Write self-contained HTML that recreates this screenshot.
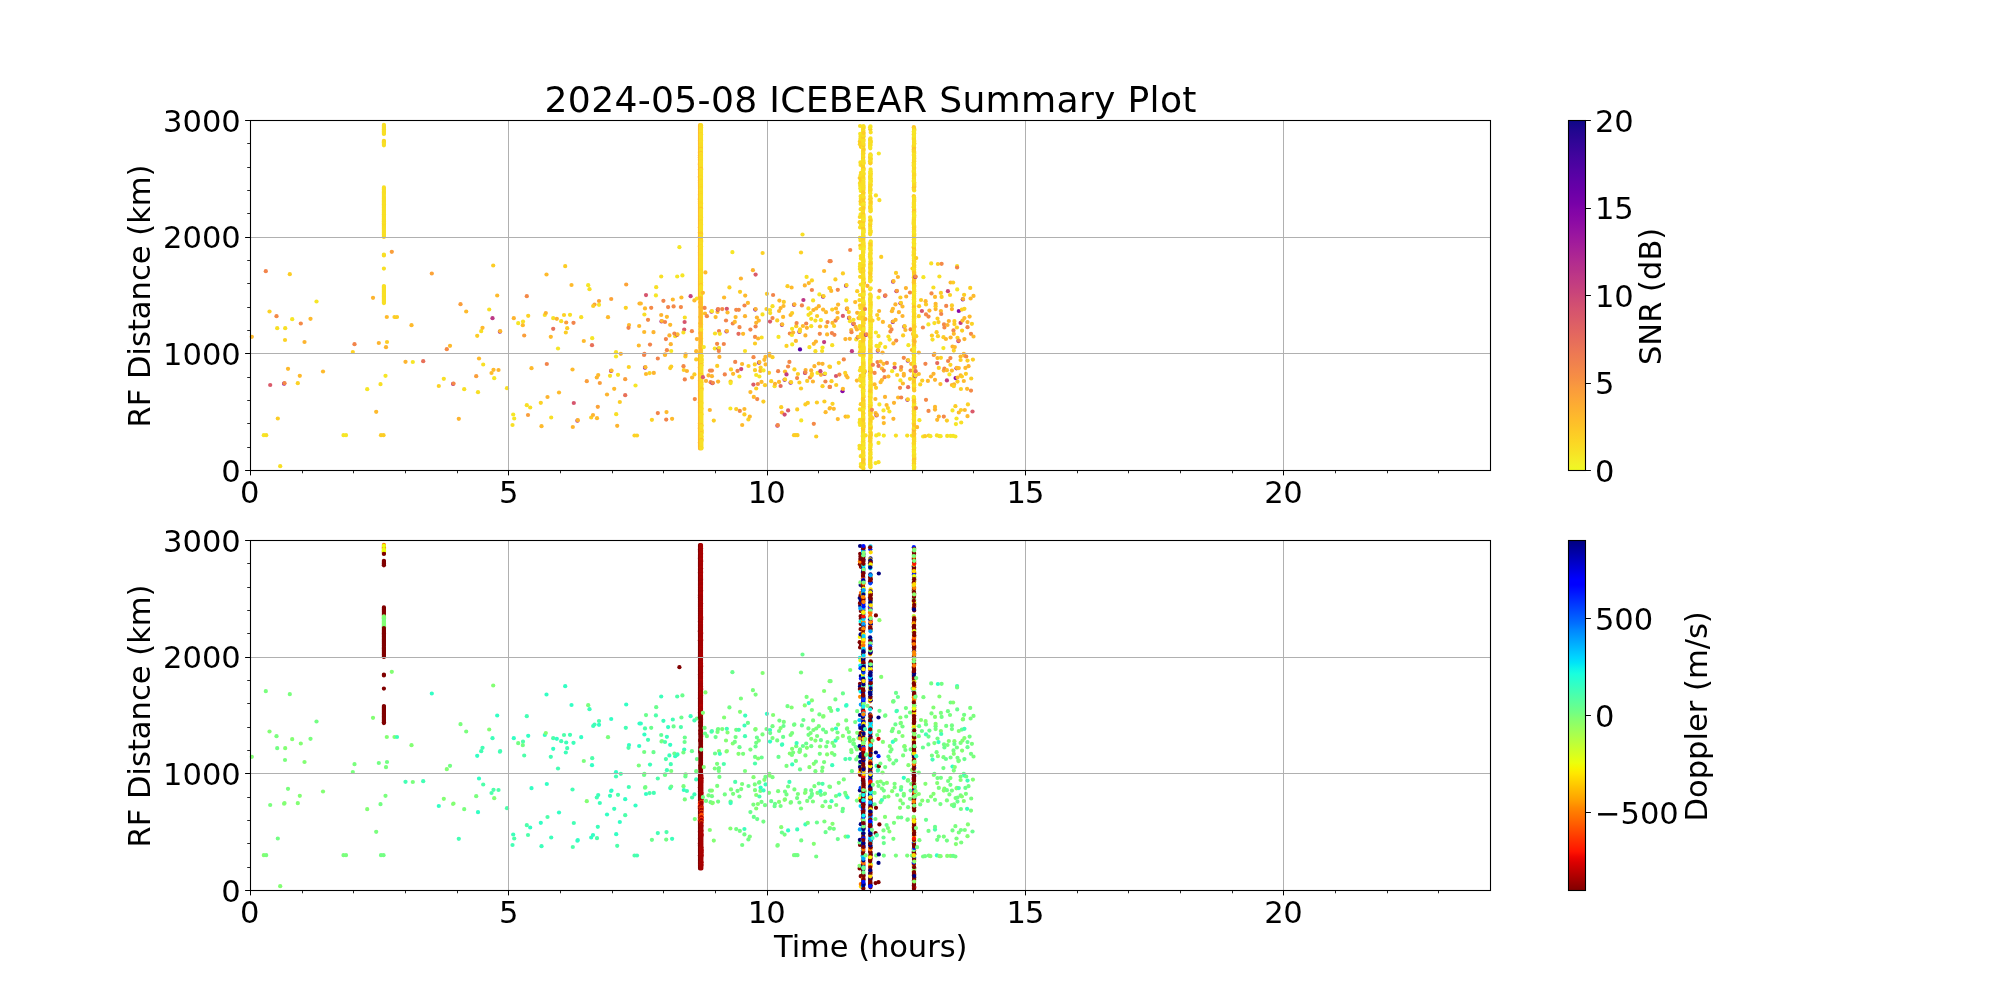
<!DOCTYPE html>
<html lang="en"><head><meta charset="utf-8"><title>2024-05-08 ICEBEAR Summary Plot</title>
<style>html,body{margin:0;padding:0;background:#fff}body{width:2000px;height:1000px;overflow:hidden}svg{display:block;will-change:transform}</style>
</head><body>
<svg width="2000" height="1000" viewBox="0 0 2000 1000" font-family='"DejaVu Sans","Liberation Sans",sans-serif' font-size="30.56" fill="#000">
<rect width="2000" height="1000" fill="#fff"/>
<g fill="none" stroke-linecap="round" stroke-width="4.24"><path stroke="#feba2c" d="M251.8 336.8h.01"/><path stroke="#f6e626" d="M263.8 435.2h.01"/><path stroke="#f2844b" d="M265.8 271.2h.01"/><path stroke="#f8df25" d="M266.2 435.2h.01"/><path stroke="#da5a6a" d="M270.2 385h.01"/><path stroke="#fcd225" d="M269.5 311.5h.01"/><path stroke="#f48948" d="M276.5 316.2h.01"/><path stroke="#f8df25" d="M277.2 328.2h.01"/><path stroke="#fccd25" d="M277.8 418.5h.01"/><path stroke="#f8df25" d="M280.2 466.2h.01"/><path stroke="#fcd225" d="M285 340h.01"/><path stroke="#f8df25" d="M285.2 328.2h.01"/><path stroke="#9410a2" d="M284.1 383.7h.01"/><path stroke="#f48948" d="M284.5 383.2h.01"/><path stroke="#feba2c" d="M288 368.8h.01"/><path stroke="#fccd25" d="M289.8 274.2h.01"/><path stroke="#f6e626" d="M292.2 319.2h.01"/><path stroke="#fcd225" d="M297.8 383.2h.01"/><path stroke="#f48948" d="M300.8 323.5h.01"/><path stroke="#feba2c" d="M299.8 375.8h.01"/><path stroke="#fdb42f" d="M304.5 342h.01"/><path stroke="#feba2c" d="M310.5 318.8h.01"/><path stroke="#f6e626" d="M316.5 301.5h.01"/><path stroke="#feba2c" d="M323 371.5h.01"/><path stroke="#f6e626" d="M343.5 435.2h.01M346 435.2h.01"/><path stroke="#fcd225" d="M352.8 352h.01"/><path stroke="#f2844b" d="M354.5 344.2h.01"/><path stroke="#f6e626" d="M367.2 389.2h.01"/><path stroke="#fdb42f" d="M373 297.8h.01"/><path stroke="#feba2c" d="M376.2 411.8h.01"/><path stroke="#fdb42f" d="M378.8 343h.01"/><path stroke="#fccd25" d="M381 435.2h.01"/><path stroke="#f8df25" d="M380.5 384.2h.01M383.9 286h.01M383.9 299.5h.01M383.9 220.7h.01M383.9 295.9h.01M383.9 200h.01M383.9 216.2h.01M383.9 132.1h.01M383.9 198.2h.01M383.9 291.4h.01"/><path stroke="#fad824" d="M383.9 221.6h.01"/><path stroke="#f8df25" d="M383.9 130.3h.01M383.9 127.6h.01M383.9 213.5h.01"/><path stroke="#fad824" d="M383.9 204.5h.01"/><path stroke="#f8df25" d="M383.9 214.4h.01"/><path stroke="#fad824" d="M383.9 218.9h.01"/><path stroke="#f8df25" d="M383.9 142.6h.01"/><path stroke="#fad824" d="M383.9 296.8h.01M383.9 293.2h.01M383.9 207.2h.01M383.9 189.2h.01"/><path stroke="#f8df25" d="M383.9 286.9h.01"/><path stroke="#fad824" d="M383.9 205.4h.01M383.9 236.9h.01M383.9 140.8h.01"/><path stroke="#f8df25" d="M383.9 231.5h.01M383.9 301.3h.01M383.9 124.9h.01M383.9 227.9h.01M383.9 126.7h.01"/><path stroke="#fad824" d="M383.9 224.3h.01M383.9 192.8h.01"/><path stroke="#f8df25" d="M383.9 218h.01M383.9 210.8h.01M383.9 209h.01M383.9 191.9h.01M383.9 209.9h.01M383.9 128.5h.01"/><path stroke="#fccd25" d="M383.5 435.2h.01"/><path stroke="#f8df25" d="M383.9 129.4h.01"/><path stroke="#fad824" d="M383.9 200.9h.01"/><path stroke="#f8df25" d="M383.9 289.6h.01M383.9 297.7h.01M383.9 227h.01M383.9 217.1h.01"/><path stroke="#fad824" d="M383.9 226.1h.01M383.9 255.4h.01"/><path stroke="#f8df25" d="M383.9 298.6h.01M383.9 215.3h.01M383.9 295h.01M383.9 133h.01M383.9 225.2h.01M383.9 211.7h.01M383.9 292.3h.01M383.9 131.2h.01M383.9 302.2h.01M383.9 202.7h.01M383.9 268.6h.01M383.9 219.8h.01M383.9 287.8h.01"/><path stroke="#fad824" d="M383.9 223.4h.01"/><path stroke="#f8df25" d="M383.9 234.2h.01M383.9 254.5h.01"/><path stroke="#fad824" d="M383.9 141.7h.01"/><path stroke="#f8df25" d="M383.9 125.8h.01M383.9 194.6h.01M383.9 191h.01M383.9 193.7h.01M383.9 212.6h.01M383.9 294.1h.01M383.9 290.5h.01M383.9 228.8h.01M383.9 236h.01M383.9 133.9h.01M383.9 235.1h.01M383.9 188.3h.01M383.9 195.5h.01M383.9 144.4h.01M383.9 303.1h.01M383.9 201.8h.01M383.9 145.3h.01M383.9 197.3h.01M383.9 190.1h.01M383.9 230.6h.01M383.9 199.1h.01M383.9 206.3h.01M383.9 187.4h.01M383.9 232.4h.01M383.9 288.7h.01M383.9 229.7h.01M383.9 208.1h.01M383.9 222.5h.01M383.9 233.3h.01M383.9 300.4h.01M383.9 203.6h.01M383.9 143.5h.01M383.9 196.4h.01"/><path stroke="#fdb42f" d="M386 347.2h.01"/><path stroke="#f6e626" d="M385.5 375.8h.01"/><path stroke="#fccd25" d="M387 342h.01"/><path stroke="#feba2c" d="M386.8 317h.01"/><path stroke="#fa9e3b" d="M391.8 251.8h.01"/><path stroke="#fccd25" d="M394.5 317h.01M397 317h.01"/><path stroke="#fdb42f" d="M405.5 361.8h.01"/><path stroke="#feba2c" d="M411.5 325.2h.01"/><path stroke="#f6e626" d="M412.8 362h.01"/><path stroke="#e87059" d="M423.2 361.2h.01"/><path stroke="#fca338" d="M431.8 273.5h.01"/><path stroke="#fcd225" d="M438.8 386h.01"/><path stroke="#f8df25" d="M443.8 378.8h.01"/><path stroke="#f48948" d="M446.8 349.2h.01"/><path stroke="#feba2c" d="M450 345.8h.01"/><path stroke="#ba3388" d="M453.1 383.9h.01"/><path stroke="#f48948" d="M453.5 383.5h.01"/><path stroke="#fdb42f" d="M458.8 418.8h.01"/><path stroke="#fa9e3b" d="M460.5 304.2h.01"/><path stroke="#f8df25" d="M464.2 389.2h.01"/><path stroke="#feba2c" d="M466.2 311.5h.01"/><path stroke="#fccd25" d="M477.2 335.8h.01"/><path stroke="#fa9e3b" d="M476.2 376.2h.01"/><path stroke="#f8df25" d="M478 392.2h.01"/><path stroke="#feba2c" d="M479 358.5h.01"/><path stroke="#f8df25" d="M481.2 331.2h.01M483.2 364.5h.01"/><path stroke="#feba2c" d="M482.5 327.8h.01"/><path stroke="#f8df25" d="M489.2 309.5h.01"/><path stroke="#bd3786" d="M492.5 318.2h.01"/><path stroke="#feba2c" d="M491.5 373h.01"/><path stroke="#fccd25" d="M493.2 265.5h.01"/><path stroke="#feba2c" d="M493.5 369.8h.01"/><path stroke="#f6e626" d="M494.2 378.2h.01"/><path stroke="#fdb42f" d="M498.5 370h.01"/><path stroke="#feba2c" d="M497.2 295.5h.01"/><path stroke="#a21d9a" d="M499.9 331.7h.01"/><path stroke="#feba2c" d="M500.2 331.2h.01"/><path stroke="#f8df25" d="M507 388.2h.01"/><path stroke="#fdb42f" d="M513.8 318.2h.01"/><path stroke="#f6e626" d="M513.2 414.5h.01"/><path stroke="#f8df25" d="M512.5 425h.01"/><path stroke="#f6e626" d="M514.2 418.5h.01M518.2 323.2h.01"/><path stroke="#feba2c" d="M522.8 325.2h.01"/><path stroke="#f8df25" d="M523 321.5h.01"/><path stroke="#fa9e3b" d="M524.2 335.5h.01"/><path stroke="#f8df25" d="M526.8 405.2h.01"/><path stroke="#f48948" d="M526.8 296.2h.01"/><path stroke="#fcd225" d="M528.2 315.8h.01"/><path stroke="#fa9e3b" d="M528 415h.01"/><path stroke="#feba2c" d="M531.5 368.2h.01"/><path stroke="#f8df25" d="M530.2 407.5h.01"/><path stroke="#fcd225" d="M540.8 402.8h.01"/><path stroke="#feba2c" d="M541.5 426.2h.01"/><path stroke="#f8df25" d="M544.8 315h.01"/><path stroke="#feba2c" d="M546.5 274.5h.01"/><path stroke="#f2844b" d="M546.8 364h.01"/><path stroke="#fdb42f" d="M545.8 313h.01M547.5 397h.01"/><path stroke="#feba2c" d="M550.8 336.8h.01"/><path stroke="#f8df25" d="M551.2 417.5h.01M553.2 318.2h.01"/><path stroke="#e87059" d="M553.2 328.8h.01"/><path stroke="#fdb42f" d="M556.8 318.8h.01"/><path stroke="#f6e626" d="M558 348.5h.01"/><path stroke="#feba2c" d="M559 392.5h.01"/><path stroke="#f8df25" d="M561.2 321.2h.01"/><path stroke="#fcd225" d="M564 315h.01"/><path stroke="#fccd25" d="M565.8 332.5h.01M565.2 266.2h.01"/><path stroke="#fa9e3b" d="M566.2 322.5h.01"/><path stroke="#fccd25" d="M567.2 328.2h.01"/><path stroke="#f8df25" d="M570 314.8h.01"/><path stroke="#feba2c" d="M571.5 285h.01"/><path stroke="#d6556d" d="M573.8 403h.01"/><path stroke="#fdb42f" d="M572.8 427h.01"/><path stroke="#f2844b" d="M573.5 322.8h.01"/><path stroke="#feba2c" d="M572.5 369.5h.01"/><path stroke="#b52f8c" d="M577.4 420.7h.01"/><path stroke="#fdb42f" d="M577.8 420.2h.01"/><path stroke="#f8df25" d="M581.2 317.2h.01"/><path stroke="#feba2c" d="M583.8 341h.01"/><path stroke="#fa9e3b" d="M586.8 381.2h.01"/><path stroke="#f6e626" d="M588.2 285.2h.01"/><path stroke="#f8df25" d="M589.5 289.2h.01"/><path stroke="#fccd25" d="M591.2 417.5h.01"/><path stroke="#fdb42f" d="M593 415h.01"/><path stroke="#f6e626" d="M592.2 338.2h.01"/><path stroke="#e87059" d="M592 345.2h.01"/><path stroke="#fca338" d="M594.5 304.5h.01"/><path stroke="#fccd25" d="M593.2 306h.01"/><path stroke="#fca338" d="M597.8 406.8h.01"/><path stroke="#fdb42f" d="M596.8 377.5h.01"/><path stroke="#feba2c" d="M597 418.2h.01"/><path stroke="#fca338" d="M599 301h.01"/><path stroke="#feba2c" d="M598.2 375h.01"/><path stroke="#f6e626" d="M599 304.8h.01"/><path stroke="#fa9e3b" d="M599.8 383h.01"/><path stroke="#feba2c" d="M608 317.2h.01"/><path stroke="#fdb42f" d="M607 394.5h.01"/><path stroke="#f8df25" d="M610 375.8h.01"/><path stroke="#b12a90" d="M611.1 370.9h.01"/><path stroke="#feba2c" d="M611.5 370.5h.01"/><path stroke="#fca338" d="M611.2 299h.01"/><path stroke="#feba2c" d="M614.2 388.8h.01"/><path stroke="#f8df25" d="M616.2 414.2h.01"/><path stroke="#f6e626" d="M616 356.5h.01"/><path stroke="#f8df25" d="M616 352.2h.01"/><path stroke="#fdb42f" d="M617.2 425.8h.01"/><path stroke="#f8df25" d="M618 374.8h.01"/><path stroke="#fccd25" d="M619.8 402h.01"/><path stroke="#fdb42f" d="M620.8 353.8h.01"/><path stroke="#fa9e3b" d="M625.2 379.2h.01"/><path stroke="#fcd225" d="M625.8 307.8h.01"/><path stroke="#e87059" d="M625.2 395.2h.01"/><path stroke="#fca338" d="M626.2 284.5h.01"/><path stroke="#fcd225" d="M628.8 367h.01"/><path stroke="#feba2c" d="M629 325h.01"/><path stroke="#f2844b" d="M628.5 327.8h.01"/><path stroke="#fcd225" d="M634.5 435.5h.01"/><path stroke="#f6e626" d="M635.5 385.5h.01"/><path stroke="#fcd225" d="M637 435.5h.01"/><path stroke="#fdb42f" d="M639.5 303.5h.01"/><path stroke="#feba2c" d="M638.8 345.5h.01M639.2 326h.01M640.8 303.5h.01"/><path stroke="#f2844b" d="M644.1 355h.01"/><path stroke="#8e0ca4" d="M645 367.7h.01"/><path stroke="#feba2c" d="M645.4 367.2h.01"/><path stroke="#f8df25" d="M644.4 314.5h.01"/><path stroke="#feba2c" d="M644.2 332h.01"/><path stroke="#f2844b" d="M644.4 353.8h.01"/><path stroke="#feba2c" d="M645 308.4h.01"/><path stroke="#d6556d" d="M646 295.1h.01"/><path stroke="#feba2c" d="M646 374h.01"/><path stroke="#f48948" d="M648 319.8h.01"/><path stroke="#fcd225" d="M649.6 373.1h.01"/><path stroke="#f2844b" d="M650 344.6h.01"/><path stroke="#f48948" d="M651.2 307.8h.01"/><path stroke="#fcd225" d="M651.9 419.8h.01"/><path stroke="#fdb42f" d="M653.5 332.2h.01M653.8 372.9h.01"/><path stroke="#f6e626" d="M655.9 295.4h.01"/><path stroke="#f8df25" d="M656.2 287.2h.01"/><path stroke="#f2844b" d="M657.8 413.1h.01M657.8 358.5h.01"/><path stroke="#f8df25" d="M661.2 276.5h.01"/><path stroke="#b12a90" d="M661.5 321.4h.01"/><path stroke="#feba2c" d="M661.9 321h.01"/><path stroke="#fdb42f" d="M661.2 315h.01"/><path stroke="#f2844b" d="M663.4 300.8h.01"/><path stroke="#feba2c" d="M665 355h.01"/><path stroke="#fdb42f" d="M665 354.4h.01"/><path stroke="#f2844b" d="M665 322h.01M665.9 339.1h.01"/><path stroke="#feba2c" d="M666.5 412.1h.01"/><path stroke="#f2844b" d="M666.2 419.6h.01"/><path stroke="#feba2c" d="M666.9 316.8h.01"/><path stroke="#f2844b" d="M668.1 307.1h.01"/><path stroke="#f48948" d="M666.9 350.2h.01"/><path stroke="#fdb42f" d="M669.4 335.4h.01"/><path stroke="#fccd25" d="M670.2 368.1h.01"/><path stroke="#feba2c" d="M670.2 324.8h.01"/><path stroke="#fdb42f" d="M670.8 344.2h.01"/><path stroke="#feba2c" d="M672.8 299.5h.01M672.1 418.8h.01"/><path stroke="#f6e626" d="M671.2 351h.01"/><path stroke="#fccd25" d="M671.2 366.5h.01"/><path stroke="#f48948" d="M673.6 306.4h.01"/><path stroke="#f8df25" d="M675.2 336.2h.01"/><path stroke="#f48948" d="M674.4 333.5h.01"/><path stroke="#f6e626" d="M677.2 276.5h.01"/><path stroke="#bd3786" d="M677.1 334.8h.01"/><path stroke="#feba2c" d="M677.5 334.4h.01"/><path stroke="#f6e626" d="M679.4 247.2h.01"/><path stroke="#feba2c" d="M681.4 297.5h.01"/><path stroke="#f48948" d="M680.9 307.1h.01"/><path stroke="#f6e626" d="M682.4 275.4h.01"/><path stroke="#da5a6a" d="M684.2 329.6h.01"/><path stroke="#d6556d" d="M684.6 322h.01"/><path stroke="#f2844b" d="M684.8 379.4h.01"/><path stroke="#f8df25" d="M684.8 317.5h.01M683.4 332.5h.01"/><path stroke="#fccd25" d="M683.8 370h.01"/><path stroke="#f48948" d="M683.5 366.2h.01"/><path stroke="#fccd25" d="M685.4 356.5h.01"/><path stroke="#fdb42f" d="M685.6 354.4h.01M686.9 371h.01"/><path stroke="#c5407e" d="M690.6 296.2h.01"/><path stroke="#f48948" d="M691.9 331.2h.01"/><path stroke="#feba2c" d="M692.1 377.5h.01"/><path stroke="#f48948" d="M694.8 399.1h.01"/><path stroke="#feba2c" d="M694.4 300.4h.01"/><path stroke="#fccd25" d="M694.4 374.4h.01"/><path stroke="#feba2c" d="M696.2 351.2h.01"/><path stroke="#fccd25" d="M696.2 359.4h.01"/><path stroke="#f8df25" d="M696.9 298.5h.01"/><path stroke="#fdb42f" d="M696.9 339.1h.01"/><path stroke="#feba2c" d="M700 125.2h.01M700 125.9h.01M700 126.6h.01M700 127.3h.01M700 128h.01M700 128.7h.01M700 129.3h.01"/><path stroke="#fec029" d="M700 130h.01"/><path stroke="#feba2c" d="M700 130.7h.01M700 131.4h.01"/><path stroke="#fec029" d="M700 132.1h.01"/><path stroke="#feba2c" d="M700 132.8h.01M700 133.5h.01M700 134.2h.01M700 134.9h.01M700 135.6h.01M700 136.3h.01M700 137h.01M700 137.7h.01M700 138.4h.01M700 139.1h.01M700 139.8h.01"/><path stroke="#fec029" d="M700 140.5h.01"/><path stroke="#feba2c" d="M700 141.2h.01M700 141.9h.01M700 142.6h.01M700 143.3h.01M700 144h.01M700 144.7h.01M700 145.4h.01M700 146.1h.01"/><path stroke="#fec029" d="M700 146.8h.01"/><path stroke="#feba2c" d="M700 147.5h.01M700 148.2h.01M700 148.9h.01M700 149.6h.01M700 150.3h.01M700 151h.01"/><path stroke="#fec029" d="M700 151.7h.01"/><path stroke="#feba2c" d="M700 152.4h.01"/><path stroke="#fec029" d="M700 153.1h.01"/><path stroke="#feba2c" d="M700 153.8h.01M700 154.5h.01"/><path stroke="#fec029" d="M700 155.2h.01"/><path stroke="#feba2c" d="M700 155.9h.01M700 156.6h.01"/><path stroke="#fec029" d="M700 157.3h.01"/><path stroke="#feba2c" d="M700 158h.01M700 158.7h.01"/><path stroke="#fec029" d="M700 159.4h.01"/><path stroke="#feba2c" d="M700 160.1h.01M700 160.8h.01M700 161.5h.01M700 162.2h.01"/><path stroke="#fec029" d="M700 162.9h.01"/><path stroke="#feba2c" d="M700 163.6h.01"/><path stroke="#fec029" d="M700 164.3h.01"/><path stroke="#feba2c" d="M700 165h.01M700 165.7h.01M700 166.4h.01M700 167.1h.01M700 167.8h.01M700 168.5h.01"/><path stroke="#fec029" d="M700 169.2h.01"/><path stroke="#feba2c" d="M700 169.9h.01M700 170.6h.01M700 171.3h.01M700 172h.01"/><path stroke="#fec029" d="M700 172.7h.01"/><path stroke="#feba2c" d="M700 173.4h.01M700 174.1h.01M700 174.8h.01M700 175.5h.01"/><path stroke="#fec029" d="M700 176.2h.01"/><path stroke="#feba2c" d="M700 176.9h.01"/><path stroke="#fec029" d="M700 177.6h.01"/><path stroke="#feba2c" d="M700 178.3h.01M700 179h.01M700 179.7h.01"/><path stroke="#fec029" d="M700 180.4h.01"/><path stroke="#feba2c" d="M700 181.1h.01M700 181.8h.01"/><path stroke="#fec029" d="M700 182.5h.01"/><path stroke="#feba2c" d="M700 183.2h.01M700 183.9h.01M700 184.6h.01M700 185.3h.01"/><path stroke="#fec029" d="M700 186h.01"/><path stroke="#feba2c" d="M700 186.7h.01M700 187.4h.01"/><path stroke="#fec029" d="M700 188.1h.01"/><path stroke="#feba2c" d="M700 188.8h.01M700 189.5h.01"/><path stroke="#fec029" d="M700 190.2h.01M700 190.9h.01M700 191.6h.01"/><path stroke="#feba2c" d="M700 192.3h.01M700 193h.01M700 193.7h.01"/><path stroke="#fec029" d="M700 194.4h.01"/><path stroke="#feba2c" d="M700 195.1h.01"/><path stroke="#fec029" d="M700 195.8h.01"/><path stroke="#feba2c" d="M700 196.5h.01M700 197.2h.01"/><path stroke="#fec029" d="M700 197.9h.01"/><path stroke="#feba2c" d="M700 198.6h.01"/><path stroke="#fec029" d="M700 199.3h.01"/><path stroke="#feba2c" d="M700 200h.01M700 200.7h.01"/><path stroke="#fec029" d="M700 201.4h.01"/><path stroke="#feba2c" d="M700 202.1h.01"/><path stroke="#fec029" d="M700 202.8h.01"/><path stroke="#feba2c" d="M700 203.5h.01"/><path stroke="#fec029" d="M700 204.2h.01M700 204.9h.01"/><path stroke="#feba2c" d="M700 205.6h.01M700 206.3h.01M700 207h.01"/><path stroke="#fec029" d="M700 207.7h.01"/><path stroke="#feba2c" d="M700 208.4h.01M700 209.1h.01"/><path stroke="#fec029" d="M700 209.8h.01"/><path stroke="#feba2c" d="M700 210.5h.01M700 211.2h.01M700 211.9h.01M700 212.6h.01M700 213.3h.01M700 214h.01M700 214.7h.01"/><path stroke="#fec029" d="M700 215.4h.01M700 216.1h.01"/><path stroke="#feba2c" d="M700 216.8h.01M700 217.5h.01M700 218.2h.01M700 218.9h.01M700 219.6h.01M700 220.3h.01M700 221h.01M700 221.7h.01M700 222.4h.01M700 223.1h.01M700 223.8h.01M700 224.5h.01M700 225.2h.01M700 225.9h.01M700 226.6h.01"/><path stroke="#fec029" d="M700 227.3h.01"/><path stroke="#feba2c" d="M700 228h.01M700 228.7h.01"/><path stroke="#fec029" d="M700 229.4h.01M700 230.1h.01"/><path stroke="#feba2c" d="M700 230.8h.01M700 231.5h.01"/><path stroke="#fec029" d="M700 232.2h.01"/><path stroke="#feba2c" d="M700 232.9h.01M700 233.6h.01M700 234.3h.01M700 235h.01M700 235.7h.01"/><path stroke="#fec029" d="M700 236.4h.01"/><path stroke="#feba2c" d="M700 237.1h.01M700 237.8h.01M700 238.5h.01M700 239.2h.01M700 239.9h.01M700 240.6h.01M700 241.3h.01M700 242h.01M700 242.7h.01M700 243.4h.01M700 244.1h.01M700 244.8h.01"/><path stroke="#fec029" d="M700 245.5h.01"/><path stroke="#feba2c" d="M700 246.2h.01"/><path stroke="#fec029" d="M700 246.9h.01"/><path stroke="#feba2c" d="M700 247.6h.01M700 248.3h.01M700 249h.01M700 249.7h.01M700 250.4h.01M700 251.1h.01M700 251.8h.01"/><path stroke="#fec029" d="M700 252.5h.01"/><path stroke="#feba2c" d="M700 253.2h.01M700 253.9h.01M700 254.6h.01M700 255.3h.01M700 256h.01M700 256.7h.01M700 257.4h.01"/><path stroke="#fec029" d="M700 258.1h.01"/><path stroke="#feba2c" d="M700 258.8h.01M700 259.5h.01M700 260.2h.01M700 260.9h.01M700 261.6h.01M700 262.3h.01"/><path stroke="#fec029" d="M700 263h.01"/><path stroke="#feba2c" d="M700 263.7h.01M700 264.4h.01"/><path stroke="#fec029" d="M700 265.1h.01"/><path stroke="#feba2c" d="M700 265.8h.01M700 266.5h.01M700 267.2h.01M700 267.9h.01M700 268.6h.01M700 269.3h.01M700 270h.01M700 270.7h.01M700 271.4h.01M700 272.1h.01"/><path stroke="#fec029" d="M700 272.8h.01M700 273.5h.01"/><path stroke="#feba2c" d="M700 274.2h.01M700 274.9h.01M700 275.6h.01M700 276.3h.01M700 277h.01"/><path stroke="#fec029" d="M700 277.7h.01"/><path stroke="#feba2c" d="M700 278.4h.01M700 279.1h.01"/><path stroke="#fec029" d="M700 279.8h.01"/><path stroke="#feba2c" d="M700 280.5h.01M700 281.2h.01"/><path stroke="#fec029" d="M700 281.9h.01"/><path stroke="#feba2c" d="M700 282.6h.01M700 283.3h.01M700 284h.01M700 284.7h.01M700 285.4h.01M700 286.1h.01M700 286.8h.01M700 287.5h.01M700 288.2h.01M700 288.9h.01M700 289.6h.01M700 290.3h.01M700 291h.01M700 291.7h.01M700 292.4h.01M700 293.1h.01"/><path stroke="#fec029" d="M700 293.8h.01"/><path stroke="#feba2c" d="M700 294.5h.01M700 295.2h.01"/><path stroke="#fec029" d="M700 295.9h.01"/><path stroke="#feba2c" d="M700 296.6h.01M700 297.3h.01"/><path stroke="#fec029" d="M701 298h.01M701 298.7h.01"/><path stroke="#f8df25" d="M701 299.4h.01M701 300.1h.01M701 300.8h.01M701 301.5h.01M701 302.2h.01M701 302.9h.01M701 303.6h.01M701 304.3h.01M701 305h.01"/><path stroke="#fec029" d="M701 305.7h.01"/><path stroke="#f8df25" d="M701 306.4h.01M701 307.1h.01"/><path stroke="#fad824" d="M701 307.8h.01"/><path stroke="#f8df25" d="M701 308.5h.01M701 309.2h.01M701 309.9h.01M701 310.6h.01M701 311.3h.01"/><path stroke="#fad824" d="M701 312h.01"/><path stroke="#f8df25" d="M701 312.7h.01M701 313.4h.01M701 314.1h.01"/><path stroke="#fad824" d="M701 314.8h.01"/><path stroke="#f8df25" d="M701 315.5h.01M701 316.2h.01M701 316.9h.01M701 317.6h.01M701 318.3h.01M701 319h.01M701 319.7h.01M701 320.4h.01M701 321.1h.01M701 321.8h.01M701 322.5h.01M701 323.2h.01M701 323.9h.01"/><path stroke="#fad824" d="M701 324.6h.01"/><path stroke="#f8df25" d="M701 325.3h.01M701 326h.01M701 326.7h.01M701 327.4h.01"/><path stroke="#fad824" d="M701 328.1h.01"/><path stroke="#f8df25" d="M701 328.8h.01M701 329.5h.01M701 330.2h.01M701 330.9h.01M701 331.6h.01M701 332.3h.01M701 333h.01"/><path stroke="#fad824" d="M701 333.7h.01"/><path stroke="#f8df25" d="M701 334.4h.01M701 335.1h.01M701 335.8h.01M701 336.5h.01M701 337.2h.01M701 337.9h.01"/><path stroke="#fad824" d="M701 338.6h.01"/><path stroke="#f8df25" d="M701 339.3h.01M701 340h.01M701 340.7h.01"/><path stroke="#fad824" d="M701 341.4h.01"/><path stroke="#f8df25" d="M701 342.1h.01M701 342.8h.01M701 343.5h.01M701 344.2h.01M701 344.9h.01"/><path stroke="#fad824" d="M701 345.6h.01M701 346.3h.01M701 347h.01"/><path stroke="#f8df25" d="M701 347.7h.01M701 348.4h.01M701 349.1h.01M701 349.8h.01"/><path stroke="#fad824" d="M701 350.5h.01"/><path stroke="#f8df25" d="M701 351.2h.01M701 351.9h.01M701 352.6h.01M701 353.3h.01M701 354h.01M701 354.7h.01"/><path stroke="#fec029" d="M700 355.4h.01"/><path stroke="#feba2c" d="M700 356.1h.01M700 356.8h.01"/><path stroke="#fec029" d="M700 357.5h.01"/><path stroke="#feba2c" d="M700 358.2h.01M700 358.9h.01M700 359.6h.01M700 360.3h.01"/><path stroke="#fec029" d="M700 361h.01"/><path stroke="#feba2c" d="M700 361.7h.01M700 362.4h.01M700 363.1h.01M700 363.8h.01M700 364.5h.01M700 365.2h.01M700 365.9h.01M700 366.6h.01"/><path stroke="#fec029" d="M700 367.3h.01"/><path stroke="#feba2c" d="M700 368h.01"/><path stroke="#fec029" d="M700 368.7h.01"/><path stroke="#feba2c" d="M700 369.4h.01M700 370.1h.01M700 370.8h.01"/><path stroke="#fec029" d="M700 371.5h.01M700 372.2h.01"/><path stroke="#feba2c" d="M700 372.9h.01M700 373.6h.01M700 374.3h.01M700 375h.01M700 375.7h.01M700 376.4h.01M700 377.1h.01M700 377.8h.01M700 378.5h.01M700 379.2h.01M700 379.9h.01"/><path stroke="#fec029" d="M700 380.6h.01"/><path stroke="#feba2c" d="M700 381.3h.01M700 382h.01M700 382.7h.01M700 383.4h.01M700 384.1h.01M700 384.8h.01M700 385.5h.01M700 386.2h.01M700 386.9h.01M700 387.6h.01M700 388.3h.01M700 389h.01M700 389.7h.01"/><path stroke="#fec029" d="M700 390.4h.01"/><path stroke="#feba2c" d="M700 391.1h.01M700 391.8h.01M700 392.5h.01M700 393.2h.01M700 393.9h.01M700 394.6h.01M700 395.3h.01M700 396h.01M700 396.7h.01M700 397.4h.01M700 398.1h.01M700 398.8h.01M700 399.5h.01M700 400.2h.01M700 400.9h.01M700 401.6h.01"/><path stroke="#fec029" d="M700 402.3h.01"/><path stroke="#feba2c" d="M700 403h.01M700 403.7h.01M700 404.4h.01M700 405.1h.01"/><path stroke="#fec029" d="M700 405.8h.01"/><path stroke="#feba2c" d="M700 406.5h.01M700 407.2h.01M700 407.9h.01M700 408.6h.01"/><path stroke="#fec029" d="M700 409.3h.01M700 410h.01"/><path stroke="#feba2c" d="M700 410.7h.01M700 411.4h.01M700 412.1h.01M700 412.8h.01M700 413.5h.01M700 414.2h.01M700 414.9h.01M700 415.6h.01"/><path stroke="#fec029" d="M700 416.3h.01M700 417h.01"/><path stroke="#feba2c" d="M700 417.7h.01M700 418.4h.01M700 419.1h.01M700 419.8h.01M700 420.5h.01M700 421.2h.01M700 421.9h.01M700 422.6h.01"/><path stroke="#fec029" d="M700 423.3h.01"/><path stroke="#feba2c" d="M700 424h.01M700 424.7h.01"/><path stroke="#fec029" d="M700 425.4h.01"/><path stroke="#feba2c" d="M700 426.1h.01"/><path stroke="#fec029" d="M700 426.8h.01"/><path stroke="#feba2c" d="M700 427.5h.01"/><path stroke="#fec029" d="M700 428.2h.01"/><path stroke="#feba2c" d="M700 428.9h.01M700 429.6h.01M700 430.3h.01"/><path stroke="#fec029" d="M700 431h.01"/><path stroke="#feba2c" d="M700 431.7h.01M700 432.4h.01"/><path stroke="#fec029" d="M700 433.1h.01M700 433.8h.01"/><path stroke="#feba2c" d="M700 434.5h.01M700 435.2h.01M700 435.9h.01M700 436.6h.01M700 437.3h.01M700 438h.01M700 438.7h.01M700 439.4h.01M700 440.1h.01M700 440.8h.01M700 441.5h.01"/><path stroke="#fec029" d="M700 442.2h.01"/><path stroke="#feba2c" d="M700 442.9h.01M700 443.6h.01M700 444.3h.01M700 445h.01"/><path stroke="#fec029" d="M700 445.7h.01"/><path stroke="#feba2c" d="M700 446.4h.01M700 447.1h.01M700 447.8h.01M700 448.5h.01"/><path stroke="#f8df25" d="M701 125.2h.01"/><path stroke="#fad824" d="M701 125.9h.01M701 126.6h.01"/><path stroke="#f8df25" d="M701 127.3h.01"/><path stroke="#fad824" d="M701 128h.01"/><path stroke="#f8df25" d="M701 128.7h.01M701 129.3h.01M701 130h.01M701 130.7h.01M701 131.4h.01M701 132.1h.01M701 132.8h.01M701 133.5h.01"/><path stroke="#fad824" d="M701 134.2h.01"/><path stroke="#f8df25" d="M701 134.9h.01M701 135.6h.01M701 136.3h.01M701 137h.01M701 137.7h.01M701 138.4h.01M701 139.1h.01M701 139.8h.01"/><path stroke="#fad824" d="M701 140.5h.01"/><path stroke="#f8df25" d="M701 141.2h.01M701 141.9h.01M701 142.6h.01M701 143.3h.01M701 144h.01"/><path stroke="#fad824" d="M701 144.7h.01"/><path stroke="#f8df25" d="M701 145.4h.01M701 146.1h.01"/><path stroke="#fad824" d="M701 146.8h.01"/><path stroke="#f8df25" d="M701 147.5h.01M701 148.2h.01"/><path stroke="#fec029" d="M701 148.9h.01"/><path stroke="#f8df25" d="M701 149.6h.01M701 150.3h.01M701 151h.01M701 151.7h.01M701 152.4h.01"/><path stroke="#fec029" d="M701 153.1h.01"/><path stroke="#f8df25" d="M701 153.8h.01M701 154.5h.01M701 155.2h.01"/><path stroke="#fad824" d="M701 155.9h.01M701 156.6h.01"/><path stroke="#f8df25" d="M701 157.3h.01M701 158h.01"/><path stroke="#fad824" d="M701 158.7h.01"/><path stroke="#f8df25" d="M701 159.4h.01M701 160.1h.01"/><path stroke="#fad824" d="M701 160.8h.01"/><path stroke="#f8df25" d="M701 161.5h.01M701 162.2h.01M701 162.9h.01M701 163.6h.01M701 164.3h.01M701 165h.01M701 165.7h.01M701 166.4h.01M701 167.1h.01M701 167.8h.01"/><path stroke="#fad824" d="M701 168.5h.01"/><path stroke="#fec029" d="M701 169.2h.01"/><path stroke="#f8df25" d="M701 169.9h.01M701 170.6h.01M701 171.3h.01M701 172h.01M701 172.7h.01M701 173.4h.01M701 174.1h.01M701 174.8h.01M701 175.5h.01M701 176.2h.01"/><path stroke="#fad824" d="M701 176.9h.01"/><path stroke="#f8df25" d="M701 177.6h.01M701 178.3h.01M701 179h.01M701 179.7h.01"/><path stroke="#fad824" d="M701 180.4h.01M701 181.1h.01"/><path stroke="#f8df25" d="M701 181.8h.01M701 182.5h.01M701 183.2h.01M701 183.9h.01M701 184.6h.01M701 185.3h.01"/><path stroke="#fad824" d="M701 186h.01"/><path stroke="#f8df25" d="M701 186.7h.01M701 187.4h.01"/><path stroke="#fad824" d="M701 188.1h.01M701 188.8h.01"/><path stroke="#f8df25" d="M701 189.5h.01M701 190.2h.01M701 190.9h.01M701 191.6h.01M701 192.3h.01"/><path stroke="#fad824" d="M701 193h.01"/><path stroke="#f8df25" d="M701 193.7h.01M701 194.4h.01"/><path stroke="#fad824" d="M701 195.1h.01"/><path stroke="#f8df25" d="M701 195.8h.01M701 196.5h.01M701 197.2h.01M701 197.9h.01M701 198.6h.01M701 199.3h.01M701 200h.01M701 200.7h.01M701 201.4h.01M701 202.1h.01"/><path stroke="#fad824" d="M701 202.8h.01"/><path stroke="#f8df25" d="M701 203.5h.01"/><path stroke="#fad824" d="M701 204.2h.01M701 204.9h.01"/><path stroke="#f8df25" d="M701 205.6h.01M701 206.3h.01M701 207h.01M701 207.7h.01"/><path stroke="#fad824" d="M701 208.4h.01"/><path stroke="#fec029" d="M701 209.1h.01"/><path stroke="#f8df25" d="M701 209.8h.01M701 210.5h.01M701 211.2h.01M701 211.9h.01M701 212.6h.01M701 213.3h.01M701 214h.01M701 214.7h.01M701 215.4h.01M701 216.1h.01M701 216.8h.01"/><path stroke="#fad824" d="M701 217.5h.01"/><path stroke="#f8df25" d="M701 218.2h.01M701 218.9h.01M701 219.6h.01M701 220.3h.01"/><path stroke="#fad824" d="M701 221h.01M701 221.7h.01"/><path stroke="#f8df25" d="M701 222.4h.01M701 223.1h.01M701 223.8h.01"/><path stroke="#fad824" d="M701 224.5h.01"/><path stroke="#f8df25" d="M701 225.2h.01M701 225.9h.01M701 226.6h.01M701 227.3h.01M701 228h.01M701 228.7h.01M701 229.4h.01M701 230.1h.01M701 230.8h.01M701 231.5h.01M701 232.2h.01M701 232.9h.01"/><path stroke="#fec029" d="M701 233.6h.01"/><path stroke="#fad824" d="M701 234.3h.01"/><path stroke="#fec029" d="M701 235h.01"/><path stroke="#f8df25" d="M701 235.7h.01M701 236.4h.01"/><path stroke="#fad824" d="M701 237.1h.01"/><path stroke="#f8df25" d="M701 237.8h.01M701 238.5h.01M701 239.2h.01"/><path stroke="#fec029" d="M701 239.9h.01"/><path stroke="#f8df25" d="M701 240.6h.01"/><path stroke="#fad824" d="M701 241.3h.01"/><path stroke="#f8df25" d="M701 242h.01"/><path stroke="#fad824" d="M701 242.7h.01"/><path stroke="#f8df25" d="M701 243.4h.01M701 244.1h.01M701 244.8h.01M701 245.5h.01"/><path stroke="#fad824" d="M701 246.2h.01"/><path stroke="#f8df25" d="M701 246.9h.01M701 247.6h.01M701 248.3h.01M701 249h.01"/><path stroke="#fad824" d="M701 249.7h.01"/><path stroke="#f8df25" d="M701 250.4h.01M701 251.1h.01M701 251.8h.01M701 252.5h.01M701 253.2h.01M701 253.9h.01M701 254.6h.01M701 255.3h.01"/><path stroke="#fad824" d="M701 256h.01"/><path stroke="#f8df25" d="M701 256.7h.01M701 257.4h.01M701 258.1h.01M701 258.8h.01M701 259.5h.01M701 260.2h.01M701 260.9h.01M701 261.6h.01M701 262.3h.01M701 263h.01M701 263.7h.01M701 264.4h.01M701 265.1h.01M701 265.8h.01M701 266.5h.01M701 267.2h.01M701 267.9h.01M701 268.6h.01M701 269.3h.01M701 270h.01"/><path stroke="#fad824" d="M701 270.7h.01"/><path stroke="#f8df25" d="M701 271.4h.01M701 272.1h.01M701 272.8h.01M701 273.5h.01M701 274.2h.01M701 274.9h.01M701 275.6h.01M701 276.3h.01M701 277h.01"/><path stroke="#fad824" d="M701 277.7h.01"/><path stroke="#f8df25" d="M701 278.4h.01M701 279.1h.01"/><path stroke="#fad824" d="M701 279.8h.01"/><path stroke="#f8df25" d="M701 280.5h.01M701 281.2h.01M701 281.9h.01"/><path stroke="#fad824" d="M701 282.6h.01"/><path stroke="#f8df25" d="M701 283.3h.01M701 284h.01"/><path stroke="#fad824" d="M701 284.7h.01"/><path stroke="#fec029" d="M701 285.4h.01"/><path stroke="#f8df25" d="M701 286.1h.01M701 286.8h.01M701 287.5h.01M701 288.2h.01M701 288.9h.01M701 289.6h.01M701 290.3h.01M701 291h.01M701 291.7h.01M701 292.4h.01M701 293.1h.01"/><path stroke="#fad824" d="M701 293.8h.01M701 294.5h.01"/><path stroke="#f8df25" d="M701 295.2h.01M701 295.9h.01M701 296.6h.01M701 297.3h.01"/><path stroke="#fec029" d="M700.4 298h.01"/><path stroke="#feba2c" d="M700.4 298.7h.01M700.4 299.4h.01M700.4 300.1h.01M700.4 300.8h.01M700.4 301.5h.01"/><path stroke="#fec029" d="M700.4 302.2h.01"/><path stroke="#feba2c" d="M700.4 302.9h.01M700.4 303.6h.01M700.4 304.3h.01M700.4 305h.01M700.4 305.7h.01M700.4 306.4h.01"/><path stroke="#fec029" d="M700.4 307.1h.01"/><path stroke="#feba2c" d="M700.4 307.8h.01M700.4 308.5h.01M700.4 309.2h.01M700.4 309.9h.01M700.4 310.6h.01M700.4 311.3h.01M700.4 312h.01M700.4 312.7h.01M700.4 313.4h.01M700.4 314.1h.01M700.4 314.8h.01M700.4 315.5h.01M700.4 316.2h.01"/><path stroke="#fec029" d="M700.4 316.9h.01"/><path stroke="#feba2c" d="M700.4 317.6h.01M700.4 318.3h.01M700.4 319h.01M700.4 319.7h.01M700.4 320.4h.01M700.4 321.1h.01M700.4 321.8h.01M700.4 322.5h.01"/><path stroke="#fec029" d="M700.4 323.2h.01"/><path stroke="#feba2c" d="M700.4 323.9h.01M700.4 324.6h.01M700.4 325.3h.01M700.4 326h.01"/><path stroke="#fec029" d="M700.4 326.7h.01M700.4 327.4h.01M700.4 328.1h.01M700.4 328.8h.01"/><path stroke="#feba2c" d="M700.4 329.5h.01M700.4 330.2h.01M700.4 330.9h.01M700.4 331.6h.01M700.4 332.3h.01"/><path stroke="#fec029" d="M700.4 333h.01"/><path stroke="#feba2c" d="M700.4 333.7h.01M700.4 334.4h.01M700.4 335.1h.01M700.4 335.8h.01M700.4 336.5h.01M700.4 337.2h.01M700.4 337.9h.01"/><path stroke="#fec029" d="M700.4 338.6h.01"/><path stroke="#feba2c" d="M700.4 339.3h.01M700.4 340h.01M700.4 340.7h.01M700.4 341.4h.01M700.4 342.1h.01M700.4 342.8h.01M700.4 343.5h.01M700.4 344.2h.01M700.4 344.9h.01"/><path stroke="#fec029" d="M700.4 345.6h.01M700.4 346.3h.01M700.4 347h.01"/><path stroke="#feba2c" d="M700.4 347.7h.01M700.4 348.4h.01M700.4 349.1h.01M700.4 349.8h.01M700.4 350.5h.01M700.4 351.2h.01M700.4 351.9h.01"/><path stroke="#fec029" d="M700.4 352.6h.01"/><path stroke="#feba2c" d="M700.4 353.3h.01"/><path stroke="#fec029" d="M700.4 354h.01"/><path stroke="#feba2c" d="M700.4 354.7h.01"/><path stroke="#f8df25" d="M701.4 355.4h.01"/><path stroke="#fad824" d="M701.4 356.1h.01"/><path stroke="#f8df25" d="M701.4 356.8h.01M701.4 357.5h.01M701.4 358.2h.01"/><path stroke="#fad824" d="M701.4 358.9h.01"/><path stroke="#f8df25" d="M701.4 359.6h.01"/><path stroke="#fad824" d="M701.4 360.3h.01"/><path stroke="#f8df25" d="M701.4 361h.01M701.4 361.7h.01"/><path stroke="#fad824" d="M701.4 362.4h.01"/><path stroke="#f8df25" d="M701.4 363.1h.01M701.4 363.8h.01M701.4 364.5h.01"/><path stroke="#fec029" d="M701.4 365.2h.01"/><path stroke="#f8df25" d="M701.4 365.9h.01M701.4 366.6h.01M701.4 367.3h.01M701.4 368h.01M701.4 368.7h.01M701.4 369.4h.01M701.4 370.1h.01M701.4 370.8h.01M701.4 371.5h.01M701.4 372.2h.01M701.4 372.9h.01M701.4 373.6h.01M701.4 374.3h.01"/><path stroke="#fec029" d="M701.4 375h.01"/><path stroke="#f8df25" d="M701.4 375.7h.01M701.4 376.4h.01M701.4 377.1h.01M701.4 377.8h.01M701.4 378.5h.01M701.4 379.2h.01M701.4 379.9h.01M701.4 380.6h.01M701.4 381.3h.01M701.4 382h.01"/><path stroke="#fad824" d="M701.4 382.7h.01M701.4 383.4h.01M701.4 384.1h.01"/><path stroke="#f8df25" d="M701.4 384.8h.01M701.4 385.5h.01M701.4 386.2h.01M701.4 386.9h.01M701.4 387.6h.01"/><path stroke="#fad824" d="M701.4 388.3h.01"/><path stroke="#f8df25" d="M701.4 389h.01"/><path stroke="#fec029" d="M701.4 389.7h.01"/><path stroke="#f8df25" d="M701.4 390.4h.01M701.4 391.1h.01M701.4 391.8h.01M701.4 392.5h.01M701.4 393.2h.01M701.4 393.9h.01M701.4 394.6h.01M701.4 395.3h.01M701.4 396h.01M701.4 396.7h.01M701.4 397.4h.01M701.4 398.1h.01M701.4 398.8h.01M701.4 399.5h.01M701.4 400.2h.01M701.4 400.9h.01M701.4 401.6h.01M701.4 402.3h.01"/><path stroke="#fad824" d="M701.4 403h.01"/><path stroke="#f8df25" d="M701.4 403.7h.01M701.4 404.4h.01M701.4 405.1h.01M701.4 405.8h.01M701.4 406.5h.01M701.4 407.2h.01M701.4 407.9h.01"/><path stroke="#fad824" d="M701.4 408.6h.01"/><path stroke="#f8df25" d="M701.4 409.3h.01M701.4 410h.01M701.4 410.7h.01M701.4 411.4h.01M701.4 412.1h.01M701.4 412.8h.01M701.4 413.5h.01"/><path stroke="#fad824" d="M701.4 414.2h.01"/><path stroke="#f8df25" d="M701.4 414.9h.01M701.4 415.6h.01M701.4 416.3h.01M701.4 417h.01M701.4 417.7h.01M701.4 418.4h.01M701.4 419.1h.01M701.4 419.8h.01M701.4 420.5h.01M701.4 421.2h.01M701.4 421.9h.01M701.4 422.6h.01M701.4 423.3h.01M701.4 424h.01M701.4 424.7h.01"/><path stroke="#fec029" d="M701.4 425.4h.01"/><path stroke="#f8df25" d="M701.4 426.1h.01M701.4 426.8h.01M701.4 427.5h.01M701.4 428.2h.01M701.4 428.9h.01M701.4 429.6h.01"/><path stroke="#fad824" d="M701.4 430.3h.01"/><path stroke="#f8df25" d="M701.4 431h.01"/><path stroke="#fad824" d="M701.4 431.7h.01"/><path stroke="#f8df25" d="M701.4 432.4h.01"/><path stroke="#fec029" d="M701.4 433.1h.01"/><path stroke="#f8df25" d="M701.4 433.8h.01M701.4 434.5h.01M701.4 435.2h.01M701.4 435.9h.01"/><path stroke="#fad824" d="M701.4 436.6h.01"/><path stroke="#f8df25" d="M701.4 437.3h.01M701.4 438h.01M701.4 438.7h.01"/><path stroke="#fad824" d="M701.4 439.4h.01"/><path stroke="#fec029" d="M701.4 440.1h.01"/><path stroke="#fad824" d="M701.4 440.8h.01"/><path stroke="#f8df25" d="M701.4 441.5h.01M701.4 442.2h.01M701.4 442.9h.01M701.4 443.6h.01M701.4 444.3h.01M701.4 445h.01M701.4 445.7h.01M701.4 446.4h.01M701.4 447.1h.01"/><path stroke="#fad824" d="M701.4 447.8h.01"/><path stroke="#f8df25" d="M701.4 448.5h.01M701.2 329.6h.01"/><path stroke="#da5a6a" d="M702.9 377.2h.01"/><path stroke="#f6e626" d="M703.8 347.1h.01"/><path stroke="#feba2c" d="M702.9 292.8h.01"/><path stroke="#f2844b" d="M704.6 307.9h.01"/><path stroke="#feba2c" d="M705.4 272.4h.01M705 313.5h.01"/><path stroke="#f48948" d="M706.9 316.2h.01"/><path stroke="#fdb42f" d="M706 380.9h.01M708.5 375.4h.01M709.8 410h.01"/><path stroke="#f48948" d="M710 370.6h.01"/><path stroke="#f2844b" d="M710.6 382.2h.01"/><path stroke="#ba3388" d="M711.5 311.7h.01"/><path stroke="#f6e626" d="M711.9 311.2h.01"/><path stroke="#bd3786" d="M712.4 383.2h.01"/><path stroke="#f48948" d="M712.8 382.8h.01"/><path stroke="#fdb42f" d="M711.9 376.2h.01"/><path stroke="#f48948" d="M711.9 370.6h.01"/><path stroke="#fccd25" d="M713.8 420.6h.01"/><path stroke="#f8df25" d="M714.8 348.5h.01"/><path stroke="#feba2c" d="M715.6 317.1h.01"/><path stroke="#f8df25" d="M715 333.5h.01"/><path stroke="#feba2c" d="M717.5 311.9h.01"/><path stroke="#f48948" d="M717.1 343.8h.01"/><path stroke="#fccd25" d="M717.2 365.9h.01"/><path stroke="#8305a7" d="M718.6 348.6h.01"/><path stroke="#f8df25" d="M719 348.1h.01"/><path stroke="#f2844b" d="M719 331h.01"/><path stroke="#ac2694" d="M717.8 309.6h.01"/><path stroke="#f2844b" d="M718.1 309.1h.01"/><path stroke="#fdb42f" d="M718.1 381.6h.01"/><path stroke="#f2844b" d="M718.8 351h.01"/><path stroke="#fdb42f" d="M719.4 356.9h.01"/><path stroke="#f8df25" d="M719.8 333.8h.01"/><path stroke="#f2844b" d="M723.8 344h.01"/><path stroke="#f48948" d="M722.2 309.1h.01"/><path stroke="#f2844b" d="M724.8 374.4h.01"/><path stroke="#feba2c" d="M724.1 297.5h.01"/><path stroke="#f2844b" d="M726 320.5h.01"/><path stroke="#d6556d" d="M726.8 308.8h.01"/><path stroke="#feba2c" d="M727.5 312.5h.01"/><path stroke="#ac2694" d="M726.5 331.4h.01"/><path stroke="#feba2c" d="M726.9 331h.01"/><path stroke="#fcd225" d="M729.4 287.4h.01"/><path stroke="#fccd25" d="M730.6 381.5h.01"/><path stroke="#f6e626" d="M730.6 383.1h.01"/><path stroke="#fccd25" d="M731 369.4h.01"/><path stroke="#f6e626" d="M730.4 408.5h.01M732.4 252.2h.01"/><path stroke="#f2844b" d="M732.8 323.5h.01"/><path stroke="#feba2c" d="M733.1 373.8h.01"/><path stroke="#f2844b" d="M735.2 361.9h.01"/><path stroke="#feba2c" d="M735.6 317.1h.01M734.8 321.9h.01"/><path stroke="#fccd25" d="M736.2 409.1h.01"/><path stroke="#f48948" d="M736.2 309.8h.01M738.8 309.8h.01"/><path stroke="#f2844b" d="M737.5 370.9h.01"/><path stroke="#e56b5d" d="M738.5 333.8h.01"/><path stroke="#f8df25" d="M739.4 376.5h.01"/><path stroke="#f48948" d="M739.5 327.2h.01M739.8 410.9h.01"/><path stroke="#fccd25" d="M740 291.8h.01"/><path stroke="#fdb42f" d="M740.9 278.5h.01"/><path stroke="#cc4977" d="M741.2 369.1h.01"/><path stroke="#feba2c" d="M742.1 364h.01M743.1 333.8h.01M742.2 425h.01M744.4 409h.01"/><path stroke="#f2844b" d="M744.5 305.5h.01"/><path stroke="#fccd25" d="M744.4 414.4h.01"/><path stroke="#fdb42f" d="M745 316.2h.01"/><path stroke="#f8df25" d="M745 351h.01"/><path stroke="#feba2c" d="M745.2 295.6h.01"/><path stroke="#fcd225" d="M748.5 366h.01"/><path stroke="#feba2c" d="M747.9 302.9h.01"/><path stroke="#fcd225" d="M748.4 419.4h.01"/><path stroke="#feba2c" d="M749.8 416.6h.01M750.4 392.1h.01"/><path stroke="#f2844b" d="M750.4 329.6h.01"/><path stroke="#f48948" d="M753.5 357.2h.01"/><path stroke="#da5a6a" d="M753.4 384.6h.01"/><path stroke="#fdb42f" d="M752.9 270.2h.01"/><path stroke="#feba2c" d="M753.8 396.9h.01"/><path stroke="#fccd25" d="M754.8 364.4h.01M755 370.2h.01M755 343.5h.01"/><path stroke="#f48948" d="M755 336.9h.01"/><path stroke="#fccd25" d="M756.2 388.5h.01"/><path stroke="#f2844b" d="M755.6 326.5h.01"/><path stroke="#f6e626" d="M756.2 375h.01"/><path stroke="#da5a6a" d="M755.6 274.6h.01"/><path stroke="#8808a6" d="M755.3 309.6h.01"/><path stroke="#fdb42f" d="M755.6 309.1h.01M756.2 322.8h.01M758.1 338.5h.01"/><path stroke="#f48948" d="M757.2 399.1h.01"/><path stroke="#fdb42f" d="M756.9 317.5h.01"/><path stroke="#f48948" d="M757.9 384h.01"/><path stroke="#f6e626" d="M759.4 376.5h.01"/><path stroke="#8808a6" d="M759 362.7h.01"/><path stroke="#feba2c" d="M759.4 362.2h.01M758.8 320.6h.01"/><path stroke="#fdb42f" d="M760.4 370.9h.01"/><path stroke="#fccd25" d="M760.6 367.5h.01"/><path stroke="#f8df25" d="M762.5 314.4h.01M761.6 337.5h.01"/><path stroke="#fcd225" d="M762.6 253h.01"/><path stroke="#feba2c" d="M761.5 381.9h.01"/><path stroke="#fccd25" d="M763.4 401.6h.01"/><path stroke="#f6e626" d="M763.5 370.4h.01"/><path stroke="#feba2c" d="M764.4 359.8h.01M765.6 364.4h.01"/><path stroke="#fccd25" d="M765 385.2h.01"/><path stroke="#feba2c" d="M765.4 356.9h.01"/><path stroke="#fccd25" d="M766.5 309h.01M766.9 293.8h.01"/><path stroke="#f8df25" d="M770 310h.01"/><path stroke="#feba2c" d="M769.4 353.8h.01"/><path stroke="#da5a6a" d="M770 321.6h.01"/><path stroke="#feba2c" d="M769.4 355.6h.01"/><path stroke="#fccd25" d="M769 372.8h.01"/><path stroke="#fcd225" d="M771.2 381.2h.01"/><path stroke="#f8df25" d="M770.2 313.1h.01"/><path stroke="#f2844b" d="M773.1 295h.01"/><path stroke="#f48948" d="M772.5 318.1h.01"/><path stroke="#f8df25" d="M772.5 306.2h.01"/><path stroke="#fccd25" d="M772.5 357.2h.01"/><path stroke="#f8df25" d="M774.6 386.2h.01"/><path stroke="#fdb42f" d="M775 383.8h.01"/><path stroke="#ba3388" d="M777.4 425.7h.01"/><path stroke="#f48948" d="M777.8 425.2h.01"/><path stroke="#fccd25" d="M777.2 320.4h.01"/><path stroke="#feba2c" d="M779.1 311h.01M779 381.9h.01"/><path stroke="#f2844b" d="M778.1 371.2h.01"/><path stroke="#f6e626" d="M778.5 336.9h.01"/><path stroke="#e56b5d" d="M780.6 386h.01"/><path stroke="#fdb42f" d="M780.6 308.1h.01"/><path stroke="#feba2c" d="M779.4 300.6h.01"/><path stroke="#fdb42f" d="M781.9 412.5h.01"/><path stroke="#fccd25" d="M781.2 407.2h.01"/><path stroke="#feba2c" d="M783.5 306h.01"/><path stroke="#8808a6" d="M781.9 324.8h.01"/><path stroke="#feba2c" d="M782.2 324.4h.01"/><path stroke="#fccd25" d="M783.8 301.9h.01"/><path stroke="#feba2c" d="M783.1 316.9h.01"/><path stroke="#99159f" d="M784.6 379.8h.01"/><path stroke="#fcd225" d="M785 379.4h.01"/><path stroke="#d04d73" d="M784.6 414.6h.01"/><path stroke="#feba2c" d="M785 371.6h.01"/><path stroke="#c13b82" d="M786.5 374.4h.01"/><path stroke="#fcd225" d="M786.5 345.9h.01"/><path stroke="#fccd25" d="M787.5 286.2h.01"/><path stroke="#f48948" d="M788.1 366.5h.01"/><path stroke="#da5a6a" d="M788.1 410.4h.01"/><path stroke="#f48948" d="M789.8 333.5h.01M789.4 361.9h.01"/><path stroke="#9410a2" d="M790.6 382.7h.01"/><path stroke="#fcd225" d="M791 382.2h.01"/><path stroke="#feba2c" d="M790.6 315h.01M791.6 287.5h.01"/><path stroke="#fccd25" d="M792.1 313.1h.01"/><path stroke="#f8df25" d="M791.9 335h.01"/><path stroke="#f6e626" d="M792.1 328.8h.01M792.2 344.4h.01"/><path stroke="#fdb42f" d="M793.1 332.5h.01"/><path stroke="#fccd25" d="M794 435.2h.01"/><path stroke="#fcd225" d="M794.4 369.4h.01"/><path stroke="#fccd25" d="M795.8 435.2h.01"/><path stroke="#a21d9a" d="M794 304.8h.01"/><path stroke="#fdb42f" d="M794.4 304.4h.01"/><path stroke="#fccd25" d="M796.2 326.2h.01"/><path stroke="#feba2c" d="M795.9 340.9h.01"/><path stroke="#f48948" d="M797.1 378.1h.01M796.6 323.1h.01"/><path stroke="#fccd25" d="M797.2 409.4h.01M797.9 374h.01M797.5 435.2h.01M799.4 382.5h.01"/><path stroke="#a21d9a" d="M799.4 331.9h.01"/><path stroke="#f8df25" d="M799.8 331.5h.01"/><path stroke="#fcd225" d="M800 329.4h.01"/><path stroke="#5901a5" d="M800 349.4h.01"/><path stroke="#fcd225" d="M801 252.5h.01"/><path stroke="#f6e626" d="M801.2 420.4h.01"/><path stroke="#fccd25" d="M801 388.5h.01"/><path stroke="#f2844b" d="M801.9 305.4h.01"/><path stroke="#feba2c" d="M802.9 326h.01"/><path stroke="#f8df25" d="M802.5 234.5h.01"/><path stroke="#bd3786" d="M803.4 300h.01"/><path stroke="#fdb42f" d="M804.8 285.4h.01M805.4 335.4h.01M805.6 370h.01"/><path stroke="#fccd25" d="M805.4 404.4h.01"/><path stroke="#a72197" d="M805 372.9h.01"/><path stroke="#f48948" d="M805.4 372.5h.01"/><path stroke="#f2844b" d="M806.2 323.5h.01"/><path stroke="#fccd25" d="M807.2 380.9h.01"/><path stroke="#f8df25" d="M806.6 276.9h.01"/><path stroke="#fccd25" d="M807.8 402.9h.01"/><path stroke="#fdb42f" d="M806.9 327.8h.01"/><path stroke="#f8df25" d="M808.5 314.8h.01M808.4 308.4h.01"/><path stroke="#feba2c" d="M808.8 283.1h.01"/><path stroke="#f48948" d="M810 377.5h.01"/><path stroke="#f8df25" d="M810.6 313.1h.01M809.4 347.2h.01M811.2 318.8h.01"/><path stroke="#fccd25" d="M811.6 375.6h.01"/><path stroke="#fdb42f" d="M811.2 370.4h.01"/><path stroke="#f8df25" d="M811.2 326.2h.01"/><path stroke="#fcd225" d="M811.9 280.4h.01"/><path stroke="#f2844b" d="M811.9 290h.01"/><path stroke="#fccd25" d="M811.9 373.8h.01"/><path stroke="#fdb42f" d="M813.4 310h.01"/><path stroke="#f48948" d="M813.8 423.8h.01"/><path stroke="#feba2c" d="M813.8 343.8h.01"/><path stroke="#f8df25" d="M813.1 300.4h.01"/><path stroke="#fdb42f" d="M812.9 381.5h.01M814.4 366.2h.01"/><path stroke="#f8df25" d="M815.4 320.6h.01"/><path stroke="#feba2c" d="M816.2 308.5h.01"/><path stroke="#fdb42f" d="M815.9 341.6h.01"/><path stroke="#fccd25" d="M816.2 436.5h.01"/><path stroke="#f8df25" d="M815.4 351.2h.01"/><path stroke="#fccd25" d="M816.9 402.5h.01"/><path stroke="#f6e626" d="M817.5 372.9h.01"/><path stroke="#fccd25" d="M817.1 316h.01"/><path stroke="#fdb42f" d="M818.8 363.5h.01"/><path stroke="#f48948" d="M819.8 333.8h.01"/><path stroke="#fdb42f" d="M818.8 306.2h.01"/><path stroke="#f6e626" d="M819.4 294.4h.01"/><path stroke="#fdb42f" d="M820.9 374.8h.01"/><path stroke="#f6e626" d="M820.9 320.2h.01"/><path stroke="#fdb42f" d="M820 326.5h.01"/><path stroke="#cc4977" d="M820.4 371.2h.01"/><path stroke="#fdb42f" d="M822.5 363.8h.01"/><path stroke="#f6e626" d="M822.5 347.5h.01"/><path stroke="#f8df25" d="M822.1 351h.01"/><path stroke="#fccd25" d="M822.5 386.2h.01"/><path stroke="#c13b82" d="M824.1 342.1h.01"/><path stroke="#feba2c" d="M824.1 271h.01"/><path stroke="#9410a2" d="M823.1 296.7h.01"/><path stroke="#fccd25" d="M823.5 296.2h.01"/><path stroke="#feba2c" d="M823.1 309.6h.01"/><path stroke="#f2844b" d="M825.4 381.5h.01"/><path stroke="#feba2c" d="M825.6 412.2h.01"/><path stroke="#fccd25" d="M824.4 401.5h.01"/><path stroke="#ba3388" d="M824.6 373.9h.01"/><path stroke="#f6e626" d="M825 373.5h.01"/><path stroke="#feba2c" d="M827.1 334.4h.01M826 312.2h.01M826.2 326.5h.01"/><path stroke="#f48948" d="M827.5 322.1h.01"/><path stroke="#feba2c" d="M830 408.1h.01M829.6 408.5h.01"/><path stroke="#f2844b" d="M829.6 261.2h.01"/><path stroke="#f48948" d="M830 386.9h.01"/><path stroke="#fdb42f" d="M830 288.1h.01"/><path stroke="#fccd25" d="M830 366.9h.01"/><path stroke="#fcd225" d="M829.4 288.1h.01"/><path stroke="#f48948" d="M829.6 386.9h.01"/><path stroke="#fccd25" d="M829.4 366.5h.01"/><path stroke="#f2844b" d="M830.6 261.2h.01"/><path stroke="#fccd25" d="M831.5 381.2h.01"/><path stroke="#feba2c" d="M831.2 290.9h.01"/><path stroke="#fccd25" d="M832.2 309.6h.01"/><path stroke="#feba2c" d="M832.5 322.9h.01"/><path stroke="#f2844b" d="M831.9 333.1h.01"/><path stroke="#f8df25" d="M832.2 345.2h.01"/><path stroke="#fcd225" d="M832.5 403.8h.01"/><path stroke="#fccd25" d="M834.1 326h.01"/><path stroke="#f2844b" d="M834.4 334.8h.01"/><path stroke="#feba2c" d="M833.8 408.8h.01M836 308.5h.01"/><path stroke="#f2844b" d="M835.6 320.6h.01"/><path stroke="#fccd25" d="M835.4 279.4h.01"/><path stroke="#d6556d" d="M836 376h.01"/><path stroke="#feba2c" d="M837.5 318.1h.01M837.8 419.1h.01"/><path stroke="#fdb42f" d="M837.5 312.5h.01"/><path stroke="#f48948" d="M837.8 289.8h.01"/><path stroke="#fccd25" d="M836.2 385h.01"/><path stroke="#feba2c" d="M838.1 304.6h.01"/><path stroke="#fcd225" d="M838.8 362.8h.01"/><path stroke="#f48948" d="M839.4 374.6h.01"/><path stroke="#da5a6a" d="M842.9 315.9h.01"/><path stroke="#f48948" d="M843.8 359.4h.01"/><path stroke="#8808a6" d="M842.5 391.2h.01"/><path stroke="#feba2c" d="M842.9 388.8h.01"/><path stroke="#fccd25" d="M842.9 273.4h.01"/><path stroke="#fdb42f" d="M846.2 375.6h.01"/><path stroke="#feba2c" d="M845.6 416.6h.01"/><path stroke="#8e0ca4" d="M846.1 285.7h.01"/><path stroke="#fcd225" d="M846.5 285.2h.01M845.2 372.9h.01"/><path stroke="#fdb42f" d="M845.4 339.1h.01"/><path stroke="#f6e626" d="M846.2 300.4h.01"/><path stroke="#bd3786" d="M846.9 308.8h.01"/><path stroke="#feba2c" d="M847.2 308.4h.01"/><path stroke="#fccd25" d="M847.9 416.6h.01"/><path stroke="#feba2c" d="M847.5 377.5h.01"/><path stroke="#fdb42f" d="M849.8 338.8h.01"/><path stroke="#8808a6" d="M849 317.9h.01"/><path stroke="#feba2c" d="M849.4 317.5h.01"/><path stroke="#fccd25" d="M848.8 312.1h.01"/><path stroke="#f8df25" d="M850 321.2h.01"/><path stroke="#f2844b" d="M850.2 250h.01"/><path stroke="#feba2c" d="M851.2 330h.01"/><path stroke="#c13b82" d="M851.9 351.2h.01"/><path stroke="#f2844b" d="M851.5 332.2h.01"/><path stroke="#8e0ca4" d="M853.4 323.9h.01"/><path stroke="#f48948" d="M853.8 323.5h.01"/><path stroke="#f8df25" d="M853.5 319.8h.01"/><path stroke="#feba2c" d="M855.2 302.1h.01"/><path stroke="#fdb42f" d="M855.6 326.9h.01"/><path stroke="#feba2c" d="M856.9 380.6h.01"/><path stroke="#fdb42f" d="M856.9 329.4h.01"/><path stroke="#f8df25" d="M856.2 339.4h.01"/><path stroke="#ac2694" d="M857.8 337.3h.01"/><path stroke="#feba2c" d="M858.1 336.9h.01"/><path stroke="#fdb42f" d="M858.5 318.1h.01"/><path stroke="#fccd25" d="M857.2 291.2h.01"/><path stroke="#fdb42f" d="M857.2 312.8h.01"/><path stroke="#fccd25" d="M859.7 222.2h.01"/><path stroke="#f8df25" d="M860.2 185.8h.01M860.1 354.8h.01"/><path stroke="#fccd25" d="M860 305.4h.01"/><path stroke="#f8df25" d="M860.2 344.4h.01M859.7 326.2h.01M860 263.8h.01M860 315.8h.01M859.6 448.4h.01"/><path stroke="#f6e626" d="M860 425h.01"/><path stroke="#f8df25" d="M860 266.4h.01"/><path stroke="#fad824" d="M859.9 144.2h.01"/><path stroke="#fccd25" d="M859.7 178h.01"/><path stroke="#f6e626" d="M860.1 378.2h.01"/><path stroke="#f8df25" d="M859.9 370.4h.01"/><path stroke="#fccd25" d="M859.9 141.6h.01"/><path stroke="#fad824" d="M859.8 217h.01"/><path stroke="#f8df25" d="M859.5 445.8h.01"/><path stroke="#fad824" d="M860 347h.01M860.2 336.6h.01"/><path stroke="#f8df25" d="M859.9 237.8h.01"/><path stroke="#fad824" d="M860.2 318.4h.01"/><path stroke="#f8df25" d="M860 295h.01M859.6 422.4h.01"/><path stroke="#f6e626" d="M860.2 133.8h.01"/><path stroke="#fccd25" d="M859.9 352.2h.01"/><path stroke="#f8df25" d="M859.9 269h.01M859.9 419.8h.01M860.1 126h.01M860.1 227.4h.01M859.9 183.2h.01M859.9 409.4h.01"/><path stroke="#fad824" d="M860.1 276.8h.01M859.5 300.2h.01"/><path stroke="#f8df25" d="M860.8 256h.01M860.6 165h.01M860.5 136.4h.01M860.5 240.4h.01M860.5 175.4h.01M860.6 313.2h.01"/><path stroke="#fad824" d="M860.3 308h.01M860.7 367.8h.01"/><path stroke="#f8df25" d="M860.6 349.6h.01M860.9 224.8h.01M860.7 456.2h.01"/><path stroke="#fccd25" d="M860.9 146.8h.01"/><path stroke="#f8df25" d="M860.3 341.8h.01"/><path stroke="#fccd25" d="M860.9 466.6h.01"/><path stroke="#f6e626" d="M860.8 191h.01"/><path stroke="#f8df25" d="M860.3 139h.01M860.6 196.2h.01"/><path stroke="#fccd25" d="M860.8 375.6h.01"/><path stroke="#f6e626" d="M860.8 464h.01"/><path stroke="#f8df25" d="M860.6 386h.01M860.9 258.6h.01"/><path stroke="#fccd25" d="M860.3 245.6h.01"/><path stroke="#f8df25" d="M860.8 198.8h.01M860.6 271.6h.01"/><path stroke="#fad824" d="M861 172.8h.01"/><path stroke="#f8df25" d="M860.7 380.8h.01"/><path stroke="#fccd25" d="M860.8 404.2h.01"/><path stroke="#f6e626" d="M860.3 188.4h.01"/><path stroke="#f8df25" d="M860.8 284.6h.01"/><path stroke="#fad824" d="M860.9 334h.01"/><path stroke="#f8df25" d="M860.7 204h.01M860.6 209.2h.01"/><path stroke="#fccd25" d="M860.9 180.6h.01"/><path stroke="#f6e626" d="M860.5 248.2h.01M860.6 214.4h.01"/><path stroke="#f8df25" d="M860.4 162.4h.01M860.9 328.8h.01"/><path stroke="#fccd25" d="M860.6 201.4h.01"/><path stroke="#f6e626" d="M863 241.6h.01"/><path stroke="#f8df25" d="M862.9 334.3h.01M863.2 154.9h.01"/><path stroke="#fccd25" d="M862.9 324.9h.01"/><path stroke="#fad824" d="M862.8 191.4h.01"/><path stroke="#f8df25" d="M863.2 240.7h.01M862.8 277.3h.01"/><path stroke="#fccd25" d="M863.1 156.6h.01"/><path stroke="#f8df25" d="M862.9 299.4h.01"/><path stroke="#fad824" d="M863.1 467.7h.01"/><path stroke="#fccd25" d="M863.2 237.3h.01"/><path stroke="#fad824" d="M862.9 385.3h.01"/><path stroke="#f8df25" d="M862.9 392.1h.01"/><path stroke="#fccd25" d="M862.8 366.6h.01"/><path stroke="#f8df25" d="M863 417.6h.01"/><path stroke="#fccd25" d="M862.9 432h.01"/><path stroke="#fad824" d="M863.1 410.8h.01"/><path stroke="#f8df25" d="M862.9 382.7h.01M863 369.1h.01"/><path stroke="#fccd25" d="M863.2 157.4h.01"/><path stroke="#f8df25" d="M863 269.6h.01"/><path stroke="#fad824" d="M863.2 195.7h.01"/><path stroke="#f6e626" d="M863.2 455h.01"/><path stroke="#f8df25" d="M863.2 222.9h.01"/><path stroke="#f6e626" d="M862.9 175.3h.01"/><path stroke="#fccd25" d="M863.1 457.5h.01M862.8 390.4h.01M862.9 165.1h.01"/><path stroke="#f8df25" d="M863.2 424.4h.01M862.8 435.4h.01M863 305.4h.01M862.8 206.7h.01"/><path stroke="#fad824" d="M862.8 398.9h.01"/><path stroke="#f8df25" d="M862.8 352.1h.01"/><path stroke="#fccd25" d="M862.9 456.7h.01"/><path stroke="#f8df25" d="M863.1 466.9h.01"/><path stroke="#f6e626" d="M863 331.7h.01"/><path stroke="#fccd25" d="M863.2 393.8h.01"/><path stroke="#f8df25" d="M863 358.9h.01"/><path stroke="#fad824" d="M862.9 165.9h.01"/><path stroke="#f8df25" d="M863 159.1h.01"/><path stroke="#fccd25" d="M862.9 167.6h.01"/><path stroke="#f6e626" d="M863.1 281.5h.01M862.9 298.6h.01"/><path stroke="#f8df25" d="M863 211h.01M862.9 288.4h.01M863 402.3h.01M863.2 341.9h.01"/><path stroke="#f6e626" d="M863 289.2h.01M863 302.8h.01"/><path stroke="#fad824" d="M863.1 187.2h.01"/><path stroke="#fccd25" d="M862.9 216.9h.01M863.1 412.5h.01"/><path stroke="#f6e626" d="M862.9 436.3h.01"/><path stroke="#fccd25" d="M863 287.5h.01"/><path stroke="#f8df25" d="M863.1 304.5h.01M863.1 357.2h.01"/><path stroke="#fad824" d="M862.9 171h.01"/><path stroke="#f8df25" d="M863.1 354.7h.01"/><path stroke="#fccd25" d="M863.2 392.9h.01"/><path stroke="#f6e626" d="M863 451.6h.01"/><path stroke="#f8df25" d="M863.2 273.9h.01"/><path stroke="#fad824" d="M863 342.8h.01"/><path stroke="#f8df25" d="M863 129.4h.01M863.1 398h.01"/><path stroke="#fad824" d="M863.2 399.7h.01M863 332.6h.01M863 339.4h.01"/><path stroke="#f6e626" d="M863.1 345.3h.01"/><path stroke="#f8df25" d="M863.1 251.8h.01"/><path stroke="#fad824" d="M863 381h.01"/><path stroke="#f8df25" d="M862.9 161.7h.01M863 171.9h.01"/><path stroke="#fad824" d="M863.2 267.1h.01"/><path stroke="#f8df25" d="M862.8 411.6h.01"/><path stroke="#fccd25" d="M862.8 272.2h.01"/><path stroke="#fad824" d="M862.8 311.3h.01"/><path stroke="#fccd25" d="M863 201.6h.01"/><path stroke="#f8df25" d="M863.1 362.3h.01"/><path stroke="#fad824" d="M863.1 222h.01"/><path stroke="#f8df25" d="M862.8 419.3h.01"/><path stroke="#fad824" d="M863.2 131.1h.01"/><path stroke="#f8df25" d="M863 255.2h.01"/><path stroke="#fccd25" d="M863.2 386.1h.01"/><path stroke="#f8df25" d="M863.1 199.9h.01"/><path stroke="#fad824" d="M863.1 253.5h.01M863 203.3h.01"/><path stroke="#f6e626" d="M863.2 130.2h.01"/><path stroke="#f8df25" d="M863.1 358.1h.01"/><path stroke="#fccd25" d="M863.1 227.1h.01"/><path stroke="#f6e626" d="M862.9 138.7h.01"/><path stroke="#f8df25" d="M862.8 379.3h.01"/><path stroke="#fccd25" d="M863.2 404.8h.01"/><path stroke="#f8df25" d="M863 370.8h.01"/><path stroke="#fad824" d="M862.9 466h.01"/><path stroke="#f8df25" d="M863.2 133.6h.01"/><path stroke="#fad824" d="M863 319.8h.01"/><path stroke="#f8df25" d="M863 387.8h.01M863 144.7h.01"/><path stroke="#f6e626" d="M863.2 238.2h.01M863.1 282.4h.01"/><path stroke="#f8df25" d="M862.9 154h.01M863 407.4h.01"/><path stroke="#fad824" d="M863.1 300.3h.01"/><path stroke="#fccd25" d="M863.2 401.4h.01"/><path stroke="#f8df25" d="M863 301.1h.01M863.2 460.9h.01"/><path stroke="#fccd25" d="M863 335.1h.01M863.2 273h.01M863 158.3h.01"/><path stroke="#f8df25" d="M862.8 212.7h.01"/><path stroke="#fad824" d="M862.9 267.9h.01"/><path stroke="#fccd25" d="M863.2 438h.01"/><path stroke="#f8df25" d="M863.1 449.9h.01M863 194.8h.01"/><path stroke="#fad824" d="M863.1 343.6h.01"/><path stroke="#f8df25" d="M862.9 443.9h.01"/><path stroke="#fccd25" d="M863.2 276.4h.01"/><path stroke="#fad824" d="M863.1 346.2h.01"/><path stroke="#f8df25" d="M862.9 296h.01"/><path stroke="#f6e626" d="M863 257.7h.01"/><path stroke="#f8df25" d="M862.9 226.3h.01M863 262.8h.01M863.1 353h.01"/><path stroke="#fccd25" d="M863 341.1h.01"/><path stroke="#f6e626" d="M863 453.3h.01"/><path stroke="#fccd25" d="M863.1 415h.01"/><path stroke="#f6e626" d="M863.2 446.5h.01M863.1 377.6h.01"/><path stroke="#f8df25" d="M863 421.8h.01"/><path stroke="#fccd25" d="M863.2 141.3h.01"/><path stroke="#f8df25" d="M863.2 297.7h.01"/><path stroke="#fccd25" d="M863.1 228h.01"/><path stroke="#f8df25" d="M862.9 182.9h.01M863 155.7h.01"/><path stroke="#fccd25" d="M863.1 271.3h.01"/><path stroke="#fad824" d="M863.1 151.5h.01"/><path stroke="#f8df25" d="M863.2 172.7h.01"/><path stroke="#fad824" d="M863.1 312.2h.01"/><path stroke="#f8df25" d="M863.1 209.3h.01M863.1 458.4h.01"/><path stroke="#fad824" d="M863 315.6h.01M863.1 239.9h.01"/><path stroke="#f8df25" d="M863.1 274.7h.01"/><path stroke="#fad824" d="M862.8 137.9h.01"/><path stroke="#f6e626" d="M863 414.2h.01M863 360.6h.01"/><path stroke="#fccd25" d="M862.9 147.2h.01"/><path stroke="#f8df25" d="M863.1 433.7h.01M863.2 454.1h.01M863 224.6h.01"/><path stroke="#fccd25" d="M862.9 428.6h.01"/><path stroke="#f8df25" d="M863.2 284.9h.01M863.2 189.7h.01"/><path stroke="#fad824" d="M862.8 215.2h.01"/><path stroke="#f8df25" d="M863.1 283.2h.01"/><path stroke="#fad824" d="M863.2 250.9h.01"/><path stroke="#f8df25" d="M863 321.5h.01M863.1 200.8h.01"/><path stroke="#f6e626" d="M863.2 266.2h.01"/><path stroke="#f8df25" d="M862.8 146.4h.01"/><path stroke="#fccd25" d="M863.2 445.6h.01"/><path stroke="#fad824" d="M863.2 425.2h.01"/><path stroke="#fccd25" d="M863 256h.01"/><path stroke="#f8df25" d="M862.9 441.4h.01"/><path stroke="#f6e626" d="M862.9 388.7h.01"/><path stroke="#f8df25" d="M863.1 330h.01M863 439.7h.01"/><path stroke="#fad824" d="M863 328.3h.01"/><path stroke="#f8df25" d="M863.2 431.2h.01"/><path stroke="#fccd25" d="M863.1 462.6h.01"/><path stroke="#fad824" d="M863.1 166.8h.01"/><path stroke="#fccd25" d="M863 450.7h.01"/><path stroke="#f8df25" d="M863 169.3h.01"/><path stroke="#f6e626" d="M863.1 243.3h.01"/><path stroke="#fccd25" d="M862.8 316.4h.01M863 268.8h.01"/><path stroke="#fad824" d="M863.1 198.2h.01"/><path stroke="#fccd25" d="M862.8 383.6h.01M863.1 415.9h.01M863.1 325.8h.01"/><path stroke="#f8df25" d="M863 234.8h.01M863.1 223.7h.01M862.8 421h.01"/><path stroke="#f6e626" d="M863 148.1h.01M863 233.9h.01"/><path stroke="#fccd25" d="M862.8 164.2h.01"/><path stroke="#f8df25" d="M862.9 313h.01"/><path stroke="#fccd25" d="M862.9 296.9h.01M862.9 409.9h.01"/><path stroke="#f6e626" d="M863 176.1h.01"/><path stroke="#fad824" d="M863 364h.01"/><path stroke="#f8df25" d="M863 430.3h.01M863.2 279.8h.01"/><path stroke="#fad824" d="M862.9 337.7h.01M862.9 211.8h.01"/><path stroke="#fccd25" d="M863.1 220.3h.01"/><path stroke="#f8df25" d="M863.1 131.9h.01M863.1 181.2h.01M863.1 152.3h.01M863 256.9h.01M863.2 180.4h.01M863.1 184.6h.01"/><path stroke="#f6e626" d="M863 442.2h.01"/><path stroke="#fccd25" d="M863 143h.01"/><path stroke="#f8df25" d="M863.1 394.6h.01M863.2 210.1h.01"/><path stroke="#fad824" d="M862.9 177.8h.01"/><path stroke="#fccd25" d="M863.2 179.5h.01"/><path stroke="#fad824" d="M863.1 258.6h.01M863.2 150.6h.01"/><path stroke="#f6e626" d="M863.2 285.8h.01"/><path stroke="#f8df25" d="M863.2 314.7h.01"/><path stroke="#fad824" d="M863 432.9h.01"/><path stroke="#f6e626" d="M863.1 292.6h.01"/><path stroke="#f8df25" d="M863.1 213.5h.01M862.8 254.3h.01"/><path stroke="#fad824" d="M862.9 290.1h.01"/><path stroke="#f8df25" d="M863.2 160h.01M863.1 142.1h.01M863 260.3h.01"/><path stroke="#f6e626" d="M863.4 229.7h.01"/><path stroke="#fad824" d="M863.3 290.9h.01"/><path stroke="#f8df25" d="M863.5 139.6h.01"/><path stroke="#f6e626" d="M863.4 374.2h.01"/><path stroke="#fad824" d="M863.4 351.3h.01"/><path stroke="#fccd25" d="M863.4 239h.01"/><path stroke="#f8df25" d="M863.5 463.5h.01"/><path stroke="#f6e626" d="M863.3 185.5h.01"/><path stroke="#f8df25" d="M863.5 278.1h.01M863.5 245.8h.01M863.3 128.5h.01M863.4 365.7h.01"/><path stroke="#fccd25" d="M863.4 340.2h.01"/><path stroke="#f8df25" d="M863.5 265.4h.01M863.3 416.7h.01"/><path stroke="#fccd25" d="M863.4 221.2h.01"/><path stroke="#fad824" d="M863.5 217.8h.01"/><path stroke="#f6e626" d="M863.5 347h.01"/><path stroke="#fdb42f" d="M864 282.9h.01"/><path stroke="#fad824" d="M863.4 233.1h.01"/><path stroke="#f8df25" d="M863.3 190.6h.01M863.4 422.7h.01"/><path stroke="#fad824" d="M863.3 307.1h.01"/><path stroke="#f8df25" d="M863.3 134.5h.01"/><path stroke="#fad824" d="M863.6 426.1h.01M863.5 389.5h.01M863.3 318.1h.01"/><path stroke="#f8df25" d="M863.6 355.5h.01M863.5 308.8h.01M863.5 361.5h.01"/><path stroke="#f6e626" d="M863.4 434.6h.01"/><path stroke="#fccd25" d="M863.5 338.5h.01"/><path stroke="#f8df25" d="M863.4 378.5h.01M863.6 408.2h.01M863.3 263.7h.01"/><path stroke="#fad824" d="M863.4 468.6h.01"/><path stroke="#f6e626" d="M863.5 404h.01M863.5 148.9h.01"/><path stroke="#f8df25" d="M863.3 140.4h.01"/><path stroke="#fccd25" d="M863.5 459.2h.01M863.3 194h.01"/><path stroke="#f8df25" d="M863.6 464.3h.01M863.4 418.4h.01"/><path stroke="#f6e626" d="M863.4 218.6h.01"/><path stroke="#fad824" d="M863.5 230.5h.01"/><path stroke="#f8df25" d="M863.6 375.9h.01M863.4 252.6h.01M863.6 455.8h.01M863.6 373.4h.01"/><path stroke="#f6e626" d="M863.4 280.7h.01"/><path stroke="#f8df25" d="M863.5 163.4h.01"/><path stroke="#f6e626" d="M863.4 348.7h.01"/><path stroke="#fad824" d="M863.3 449h.01"/><path stroke="#f8df25" d="M863.5 136.2h.01"/><path stroke="#fccd25" d="M863.4 427.8h.01"/><path stroke="#f6e626" d="M863.5 391.2h.01"/><path stroke="#f8df25" d="M863.6 347.9h.01"/><path stroke="#fccd25" d="M863.4 317.3h.01"/><path stroke="#f8df25" d="M863.4 160.8h.01M863.3 250.1h.01M863.3 368.3h.01"/><path stroke="#fccd25" d="M863.6 202.5h.01"/><path stroke="#fad824" d="M863.4 270.5h.01"/><path stroke="#f8df25" d="M863.4 188.9h.01M863.4 465.2h.01"/><path stroke="#fccd25" d="M863.5 336.8h.01M863.3 429.5h.01"/><path stroke="#f8df25" d="M863.3 344.5h.01M863.6 367.4h.01"/><path stroke="#fad824" d="M863.4 444.8h.01M863.4 405.7h.01"/><path stroke="#f8df25" d="M863.3 356.4h.01M863.5 396.3h.01M863.3 310.5h.01M863.4 248.4h.01"/><path stroke="#fad824" d="M863.4 244.1h.01M863.4 452.4h.01"/><path stroke="#f8df25" d="M863.3 225.4h.01"/><path stroke="#fccd25" d="M863.5 320.7h.01"/><path stroke="#fad824" d="M863.5 279h.01"/><path stroke="#f8df25" d="M863.3 307.9h.01"/><path stroke="#f6e626" d="M863.6 173.6h.01"/><path stroke="#8305a7" d="M864.4 371.7h.01"/><path stroke="#fcd225" d="M864.8 371.2h.01"/><path stroke="#fad824" d="M863.3 376.8h.01"/><path stroke="#fccd25" d="M863.6 168.5h.01"/><path stroke="#f6e626" d="M863.6 443.1h.01"/><path stroke="#fad824" d="M863.3 423.5h.01"/><path stroke="#f8df25" d="M863.5 381.9h.01M863.4 245h.01"/><path stroke="#fccd25" d="M863.4 228.8h.01"/><path stroke="#f6e626" d="M863.5 178.7h.01"/><path stroke="#fccd25" d="M863.5 291.8h.01"/><path stroke="#fad824" d="M863.5 372.5h.01"/><path stroke="#fccd25" d="M863.5 350.4h.01M863.5 145.5h.01"/><path stroke="#f8df25" d="M863.3 284.1h.01"/><path stroke="#fccd25" d="M863.3 460.1h.01"/><path stroke="#f6e626" d="M863.5 126.8h.01"/><path stroke="#fccd25" d="M863.5 197.4h.01M863.4 214.4h.01M863.3 330.9h.01"/><path stroke="#f8df25" d="M863.4 349.6h.01"/><path stroke="#fccd25" d="M863.3 397.2h.01"/><path stroke="#f6e626" d="M863.6 302h.01"/><path stroke="#fccd25" d="M863.6 149.8h.01M863.3 137h.01"/><path stroke="#fad824" d="M863.3 371.7h.01"/><path stroke="#f8df25" d="M863.3 236.5h.01"/><path stroke="#fccd25" d="M863.5 333.4h.01"/><path stroke="#f8df25" d="M863.4 193.1h.01"/><path stroke="#fad824" d="M863.4 440.5h.01"/><path stroke="#f8df25" d="M863.4 174.4h.01"/><path stroke="#f6e626" d="M863.4 409.1h.01"/><path stroke="#fccd25" d="M863.4 293.5h.01"/><path stroke="#fad824" d="M863.3 322.4h.01"/><path stroke="#f6e626" d="M863.4 232.2h.01"/><path stroke="#f8df25" d="M863.6 313.9h.01"/><path stroke="#f6e626" d="M863.4 447.3h.01"/><path stroke="#fad824" d="M863.5 319h.01"/><path stroke="#f6e626" d="M863.4 231.4h.01"/><path stroke="#f8df25" d="M863.4 183.8h.01M863.3 205h.01"/><path stroke="#fad824" d="M863.3 387h.01M863.4 247.5h.01"/><path stroke="#f6e626" d="M863.5 448.2h.01"/><path stroke="#f8df25" d="M863.5 235.6h.01M863.6 364.9h.01M863.3 135.3h.01M863.5 143.8h.01M863.3 370h.01M863.6 295.2h.01M863.4 324.1h.01M863.4 395.5h.01"/><path stroke="#fccd25" d="M863.3 326.6h.01"/><path stroke="#f8df25" d="M863.6 246.7h.01"/><path stroke="#fad824" d="M863.5 205.9h.01"/><path stroke="#fccd25" d="M863.3 327.5h.01"/><path stroke="#f8df25" d="M863.6 162.5h.01M863.4 380.2h.01"/><path stroke="#fad824" d="M863.4 363.2h.01"/><path stroke="#f6e626" d="M863.5 219.5h.01"/><path stroke="#f8df25" d="M863.4 188h.01M863.3 437.1h.01"/><path stroke="#fccd25" d="M863.4 199.1h.01"/><path stroke="#f6e626" d="M863.3 359.8h.01"/><path stroke="#fad824" d="M863.4 264.5h.01"/><path stroke="#f8df25" d="M863.6 216.1h.01"/><path stroke="#f6e626" d="M863.4 262h.01"/><path stroke="#fad824" d="M863.3 426.9h.01"/><path stroke="#feba2c" d="M863.5 304.6h.01"/><path stroke="#fad824" d="M863.5 406.5h.01"/><path stroke="#fccd25" d="M863.6 132.8h.01"/><path stroke="#f8df25" d="M863.4 259.4h.01M863.3 375.1h.01"/><path stroke="#f6e626" d="M863.6 384.4h.01"/><path stroke="#f8df25" d="M863.6 303.7h.01"/><path stroke="#fad824" d="M863.5 127.7h.01"/><path stroke="#f6e626" d="M863.3 286.6h.01"/><path stroke="#fccd25" d="M863.5 336h.01M863.6 353.8h.01"/><path stroke="#f8df25" d="M863.3 196.5h.01M863.3 275.6h.01M863.5 186.3h.01M863.6 261.1h.01M863.4 309.6h.01M863.6 170.2h.01"/><path stroke="#fad824" d="M863.4 153.2h.01"/><path stroke="#f8df25" d="M863.5 182.1h.01"/><path stroke="#fad824" d="M863.4 323.2h.01"/><path stroke="#f6e626" d="M863.4 204.2h.01"/><path stroke="#fad824" d="M863.4 207.6h.01"/><path stroke="#f8df25" d="M863.5 242.4h.01"/><path stroke="#fccd25" d="M863.4 208.4h.01M863.5 400.6h.01"/><path stroke="#fad824" d="M863.3 177h.01"/><path stroke="#fccd25" d="M863.3 420.1h.01M863.4 306.2h.01"/><path stroke="#f8df25" d="M863.4 126h.01"/><path stroke="#f6e626" d="M863.4 249.2h.01"/><path stroke="#fad824" d="M863.4 413.3h.01"/><path stroke="#f6e626" d="M863.6 329.2h.01M863.4 294.3h.01M863.3 438.8h.01"/><path stroke="#fccd25" d="M863.3 192.3h.01"/><path stroke="#fad824" d="M863.5 403.1h.01"/><path stroke="#fccd25" d="M863.3 461.8h.01"/><path stroke="#f48948" d="M865 309.1h.01"/><path stroke="#fdb42f" d="M865.4 319.1h.01"/><path stroke="#f8df25" d="M865.6 435.4h.01"/><path stroke="#8808a6" d="M866.1 334.8h.01"/><path stroke="#f48948" d="M866.5 334.4h.01"/><path stroke="#fdb42f" d="M867.5 285.9h.01"/><path stroke="#f8df25" d="M870.3 145.3h.01"/><path stroke="#fad824" d="M870.4 386.3h.01"/><path stroke="#f8df25" d="M870.7 405.3h.01"/><path stroke="#f6e626" d="M870.3 374.3h.01"/><path stroke="#f8df25" d="M870.5 458.3h.01M870.1 281.3h.01M870.6 221.3h.01"/><path stroke="#fad824" d="M870.6 141.3h.01"/><path stroke="#fccd25" d="M870.3 449.3h.01"/><path stroke="#f8df25" d="M870.4 322.3h.01M870.7 204.3h.01M870.4 398.3h.01"/><path stroke="#f6e626" d="M870.6 219.3h.01M870.3 317.3h.01"/><path stroke="#fccd25" d="M870.1 396.3h.01"/><path stroke="#f6e626" d="M870.1 464.3h.01"/><path stroke="#f8df25" d="M870.6 262.3h.01M870.2 191.3h.01M870.5 138.3h.01"/><path stroke="#fccd25" d="M870.2 264.3h.01"/><path stroke="#f8df25" d="M870.1 345.3h.01M870.1 439.3h.01M870.4 358.3h.01"/><path stroke="#f6e626" d="M870.5 305.3h.01"/><path stroke="#fad824" d="M870.5 340.3h.01"/><path stroke="#f8df25" d="M870.2 364.3h.01M870.4 420.3h.01"/><path stroke="#fad824" d="M870.7 181.3h.01"/><path stroke="#f8df25" d="M870.1 192.3h.01M870.1 410.3h.01M870.7 433.3h.01"/><path stroke="#fccd25" d="M870.6 173.3h.01"/><path stroke="#f6e626" d="M870.1 243.3h.01"/><path stroke="#fad824" d="M870.3 407.3h.01"/><path stroke="#f8df25" d="M870.4 189.3h.01"/><path stroke="#fccd25" d="M870.4 352.3h.01"/><path stroke="#f8df25" d="M870.2 299.3h.01"/><path stroke="#f6e626" d="M870.7 280.3h.01"/><path stroke="#fad824" d="M870.7 357.3h.01"/><path stroke="#f8df25" d="M870.1 375.3h.01"/><path stroke="#fccd25" d="M870.3 350.3h.01"/><path stroke="#f8df25" d="M870.6 434.3h.01"/><path stroke="#fad824" d="M870.1 294.3h.01"/><path stroke="#f8df25" d="M870.6 250.3h.01"/><path stroke="#fad824" d="M870.7 416.3h.01"/><path stroke="#f8df25" d="M870.6 371.3h.01"/><path stroke="#fad824" d="M870.5 457.3h.01"/><path stroke="#f8df25" d="M870.7 178.3h.01"/><path stroke="#fccd25" d="M870.3 206.3h.01"/><path stroke="#f8df25" d="M870.4 203.3h.01M870.3 332.3h.01M870.1 278.3h.01"/><path stroke="#fccd25" d="M870.3 276.3h.01"/><path stroke="#f8df25" d="M870.7 210.3h.01M870.2 234.3h.01M870.5 247.3h.01"/><path stroke="#fccd25" d="M870.5 384.3h.01M870.2 459.3h.01"/><path stroke="#f8df25" d="M870.1 146.3h.01M870.3 359.3h.01M870.2 179.3h.01M870.7 383.3h.01"/><path stroke="#fad824" d="M870.5 385.3h.01"/><path stroke="#fccd25" d="M870.3 348.3h.01"/><path stroke="#f8df25" d="M870.4 302.3h.01"/><path stroke="#fad824" d="M870.5 467.3h.01"/><path stroke="#f8df25" d="M870.7 381.3h.01M870.6 162.3h.01M870.7 387.3h.01M870.5 443.3h.01"/><path stroke="#fccd25" d="M870.4 402.3h.01"/><path stroke="#f8df25" d="M870.2 233.3h.01M870.1 139.3h.01"/><path stroke="#fad824" d="M870.7 327.3h.01"/><path stroke="#f6e626" d="M870.3 440.3h.01"/><path stroke="#f8df25" d="M870.6 169.3h.01M870.5 249.3h.01M870.5 421.3h.01"/><path stroke="#f6e626" d="M870.7 355.3h.01M870.7 403.3h.01"/><path stroke="#fccd25" d="M870.5 253.3h.01"/><path stroke="#f8df25" d="M870.2 408.3h.01"/><path stroke="#fad824" d="M870.2 188.3h.01"/><path stroke="#f8df25" d="M870.5 331.3h.01"/><path stroke="#fccd25" d="M870.4 379.3h.01"/><path stroke="#fad824" d="M870.2 400.3h.01"/><path stroke="#f8df25" d="M870.6 338.3h.01M870.2 321.3h.01"/><path stroke="#f6e626" d="M870.5 261.3h.01"/><path stroke="#f8df25" d="M870.2 460.3h.01M870.3 463.3h.01M870.2 279.3h.01"/><path stroke="#fad824" d="M870.7 270.3h.01M870.7 344.3h.01"/><path stroke="#fccd25" d="M870.5 390.3h.01"/><path stroke="#f8df25" d="M870.1 367.3h.01M870.3 356.3h.01"/><path stroke="#a72197" d="M870.3 371.4h.01"/><path stroke="#feba2c" d="M870.6 371h.01"/><path stroke="#fad824" d="M870.7 201.3h.01M870.5 156.3h.01"/><path stroke="#fccd25" d="M870.4 154.3h.01"/><path stroke="#f6e626" d="M870.7 288.3h.01"/><path stroke="#fccd25" d="M870.3 349.3h.01"/><path stroke="#fad824" d="M870.6 329.3h.01"/><path stroke="#fccd25" d="M870.3 220.3h.01"/><path stroke="#f8df25" d="M870.1 143.3h.01M870.3 183.3h.01M870.5 368.3h.01"/><path stroke="#fad824" d="M870.3 461.3h.01M870.7 347.3h.01"/><path stroke="#f6e626" d="M870.6 307.3h.01M870.2 431.3h.01M870.5 446.3h.01"/><path stroke="#f8df25" d="M870.6 171.3h.01"/><path stroke="#fccd25" d="M870.1 351.3h.01"/><path stroke="#f8df25" d="M870.4 334.3h.01M870.2 298.3h.01"/><path stroke="#f6e626" d="M870.5 454.3h.01"/><path stroke="#fccd25" d="M870.1 161.3h.01"/><path stroke="#f8df25" d="M870.4 246.3h.01M870.1 319.3h.01M870.3 314.3h.01"/><path stroke="#fad824" d="M870.4 316.3h.01"/><path stroke="#fccd25" d="M870.4 342.3h.01"/><path stroke="#fad824" d="M870.2 310.3h.01"/><path stroke="#f8df25" d="M870.3 337.3h.01"/><path stroke="#f6e626" d="M870.1 404.3h.01"/><path stroke="#fccd25" d="M870.3 362.3h.01"/><path stroke="#fad824" d="M870.4 232.3h.01"/><path stroke="#f8df25" d="M870.4 266.3h.01M870.7 311.3h.01"/><path stroke="#fad824" d="M870.2 224.3h.01"/><path stroke="#f8df25" d="M870.6 465.3h.01M870.2 363.3h.01M870.7 333.3h.01M870.5 209.3h.01"/><path stroke="#fad824" d="M870.1 406.3h.01"/><path stroke="#f8df25" d="M870.6 295.3h.01M870.6 378.3h.01"/><path stroke="#fad824" d="M870.4 184.3h.01"/><path stroke="#fccd25" d="M870.3 267.3h.01"/><path stroke="#fad824" d="M870.5 397.3h.01"/><path stroke="#f8df25" d="M870.6 395.3h.01M870.1 453.3h.01"/><path stroke="#f6e626" d="M870.2 424.3h.01"/><path stroke="#fad824" d="M870.7 412.3h.01"/><path stroke="#f8df25" d="M870.2 207.3h.01"/><path stroke="#fad824" d="M870.5 277.3h.01M870.4 313.3h.01"/><path stroke="#fccd25" d="M870.3 129.3h.01"/><path stroke="#f8df25" d="M870.2 418.3h.01M870.7 241.3h.01M870.5 259.3h.01M870.2 373.3h.01"/><path stroke="#fccd25" d="M870.4 432.3h.01"/><path stroke="#f6e626" d="M870.5 271.3h.01M870.7 242.3h.01"/><path stroke="#fccd25" d="M870.4 336.3h.01"/><path stroke="#f8df25" d="M870.2 436.3h.01"/><path stroke="#fccd25" d="M870.7 435.3h.01"/><path stroke="#f8df25" d="M870.1 248.3h.01"/><path stroke="#f6e626" d="M870.2 429.3h.01"/><path stroke="#fad824" d="M870.1 199.3h.01"/><path stroke="#fccd25" d="M870.5 353.3h.01"/><path stroke="#f8df25" d="M870.3 388.3h.01M870.7 132.3h.01"/><path stroke="#fad824" d="M870.5 304.3h.01"/><path stroke="#f8df25" d="M870.1 254.3h.01"/><path stroke="#f6e626" d="M870.5 301.3h.01"/><path stroke="#f8df25" d="M870.7 324.3h.01"/><path stroke="#fad824" d="M870.3 140.3h.01"/><path stroke="#f6e626" d="M870.6 265.3h.01M870.1 187.3h.01"/><path stroke="#f8df25" d="M870.5 174.3h.01M870.3 346.3h.01"/><path stroke="#f6e626" d="M870.5 323.3h.01"/><path stroke="#fad824" d="M870.2 308.3h.01"/><path stroke="#fccd25" d="M870.5 426.3h.01"/><path stroke="#f8df25" d="M870.6 142.3h.01"/><path stroke="#fccd25" d="M870.2 411.3h.01"/><path stroke="#f8df25" d="M870.7 258.3h.01M870.5 328.3h.01M870.3 269.3h.01"/><path stroke="#fad824" d="M870.5 389.3h.01"/><path stroke="#fccd25" d="M870.7 263.3h.01"/><path stroke="#fad824" d="M870.2 176.3h.01"/><path stroke="#f8df25" d="M870.2 462.3h.01"/><path stroke="#f6e626" d="M870.2 312.3h.01M870.5 126.3h.01M870.2 172.3h.01"/><path stroke="#f8df25" d="M870.2 466.3h.01M870.7 297.3h.01"/><path stroke="#fad824" d="M870.5 428.3h.01"/><path stroke="#f8df25" d="M870.3 223.3h.01M870.7 231.3h.01M870.3 414.3h.01"/><path stroke="#f6e626" d="M870.1 127.3h.01"/><path stroke="#f8df25" d="M870.2 456.3h.01M870.6 452.3h.01M870.5 326.3h.01"/><path stroke="#fad824" d="M870.3 190.3h.01"/><path stroke="#f6e626" d="M870.4 445.3h.01"/><path stroke="#fccd25" d="M870.6 427.3h.01"/><path stroke="#f6e626" d="M870.5 393.3h.01"/><path stroke="#f8df25" d="M870.5 296.3h.01M870.4 306.3h.01"/><path stroke="#fad824" d="M870.2 196.3h.01M870.7 370.3h.01"/><path stroke="#f6e626" d="M870.6 325.3h.01"/><path stroke="#f8df25" d="M870.3 148.3h.01M870.5 252.3h.01"/><path stroke="#fccd25" d="M870.7 372.3h.01"/><path stroke="#f8df25" d="M870.5 144.3h.01M870.5 376.3h.01M870.1 177.3h.01M870.1 289.3h.01M870.3 399.3h.01"/><path stroke="#f6e626" d="M870.3 425.3h.01"/><path stroke="#f8df25" d="M870.2 401.3h.01M870.7 180.3h.01M870.7 438.3h.01"/><path stroke="#f6e626" d="M870.5 330.3h.01M870.3 309.3h.01"/><path stroke="#f8df25" d="M870.2 273.3h.01"/><path stroke="#f6e626" d="M870.7 392.3h.01"/><path stroke="#fad824" d="M870.6 268.3h.01"/><path stroke="#f8df25" d="M870.5 444.3h.01"/><path stroke="#fccd25" d="M870.5 422.3h.01M870.7 159.3h.01"/><path stroke="#fad824" d="M870.1 272.3h.01"/><path stroke="#f8df25" d="M870.3 230.3h.01"/><path stroke="#fad824" d="M870.4 208.3h.01"/><path stroke="#fccd25" d="M870.1 437.3h.01M870.1 157.3h.01M870.3 320.3h.01"/><path stroke="#fad824" d="M870.7 198.3h.01"/><path stroke="#f6e626" d="M870.1 256.3h.01"/><path stroke="#f8df25" d="M870.4 335.3h.01"/><path stroke="#fad824" d="M870.3 415.3h.01"/><path stroke="#f6e626" d="M870.3 341.3h.01"/><path stroke="#f8df25" d="M870.6 318.3h.01"/><path stroke="#fad824" d="M870.3 377.3h.01"/><path stroke="#f6e626" d="M870.2 147.3h.01M870.3 382.3h.01"/><path stroke="#fccd25" d="M870.3 360.3h.01"/><path stroke="#f8df25" d="M870.5 211.3h.01"/><path stroke="#f6e626" d="M870.3 361.3h.01"/><path stroke="#fccd25" d="M870.1 441.3h.01"/><path stroke="#f8df25" d="M870.2 447.3h.01"/><path stroke="#f6e626" d="M870.6 365.3h.01M870.2 343.3h.01"/><path stroke="#fad824" d="M870.3 366.3h.01M870.1 186.3h.01M870.2 450.3h.01"/><path stroke="#f6e626" d="M870.2 394.3h.01"/><path stroke="#fccd25" d="M870.3 163.3h.01"/><path stroke="#f8df25" d="M870.6 175.3h.01M870.1 217.3h.01M870.3 160.3h.01"/><path stroke="#fad824" d="M870.6 158.3h.01"/><path stroke="#f6e626" d="M870.3 182.3h.01"/><path stroke="#f8df25" d="M870.4 354.3h.01M870.1 257.3h.01"/><path stroke="#fccd25" d="M870.1 391.3h.01"/><path stroke="#f8df25" d="M870.5 245.3h.01"/><path stroke="#f6e626" d="M870.3 193.3h.01"/><path stroke="#fad824" d="M870.2 423.3h.01M870.6 303.3h.01M870.7 185.3h.01"/><path stroke="#fccd25" d="M870.6 202.3h.01M870.5 419.3h.01"/><path stroke="#fad824" d="M870.4 413.3h.01"/><path stroke="#f6e626" d="M870.6 155.3h.01"/><path stroke="#fccd25" d="M870.2 226.3h.01M870.4 274.3h.01M870.6 244.3h.01"/><path stroke="#fad824" d="M870.2 369.3h.01"/><path stroke="#f8df25" d="M870.4 255.3h.01M870.1 300.3h.01M870.2 228.3h.01"/><path stroke="#f48948" d="M871.9 409.8h.01"/><path stroke="#fcd225" d="M872.5 418.1h.01M872.5 320.6h.01"/><path stroke="#f2844b" d="M872.9 364.8h.01"/><path stroke="#f48948" d="M874.6 372.9h.01"/><path stroke="#feba2c" d="M874.6 384.4h.01"/><path stroke="#f6e626" d="M876.2 435.4h.01"/><path stroke="#f8df25" d="M875.9 195.4h.01"/><path stroke="#fccd25" d="M876 387.8h.01"/><path stroke="#feba2c" d="M875.6 413.1h.01"/><path stroke="#f8df25" d="M876.5 345.9h.01"/><path stroke="#feba2c" d="M875.4 399h.01"/><path stroke="#f6e626" d="M875.9 332.5h.01M875.6 463.1h.01"/><path stroke="#f2844b" d="M877.5 362.1h.01"/><path stroke="#fccd25" d="M877.2 315h.01"/><path stroke="#ba3388" d="M876.5 415.4h.01"/><path stroke="#fdb42f" d="M876.9 415h.01"/><path stroke="#9410a2" d="M877.8 350.7h.01"/><path stroke="#feba2c" d="M878.1 350.2h.01M879.1 311h.01"/><path stroke="#f8df25" d="M879.4 200.2h.01M878.5 336.2h.01"/><path stroke="#f6e626" d="M878.8 153.5h.01"/><path stroke="#f8df25" d="M878.5 462.2h.01"/><path stroke="#f6e626" d="M878.5 297.5h.01M879.4 404.4h.01M878.8 434.4h.01"/><path stroke="#e87059" d="M878.5 365.9h.01"/><path stroke="#f6e626" d="M878.5 442.9h.01"/><path stroke="#f48948" d="M879.5 290.8h.01"/><path stroke="#fcd225" d="M878.5 318.8h.01"/><path stroke="#f6e626" d="M878.8 346.2h.01"/><path stroke="#feba2c" d="M880.6 361.5h.01M880.6 382.2h.01"/><path stroke="#f8df25" d="M880.4 343.5h.01"/><path stroke="#fdb42f" d="M882.5 352.5h.01"/><path stroke="#feba2c" d="M881.9 368.5h.01M881.9 380h.01"/><path stroke="#fccd25" d="M881.2 256.9h.01"/><path stroke="#f6e626" d="M883.5 410.4h.01"/><path stroke="#feba2c" d="M883.8 423.1h.01"/><path stroke="#f6e626" d="M883.8 435.6h.01"/><path stroke="#feba2c" d="M883.5 363.8h.01M882.9 321.9h.01M883.5 417.5h.01"/><path stroke="#f2844b" d="M883.8 370.6h.01"/><path stroke="#ba3388" d="M885 295.8h.01"/><path stroke="#f2844b" d="M885.4 295.4h.01"/><path stroke="#f48948" d="M884.6 377.2h.01"/><path stroke="#f8df25" d="M885.2 347.1h.01"/><path stroke="#fdb42f" d="M885 396.9h.01"/><path stroke="#f48948" d="M886.9 362.9h.01"/><path stroke="#feba2c" d="M886.6 405h.01"/><path stroke="#f8df25" d="M888.4 336.5h.01"/><path stroke="#fcd225" d="M887.9 408.1h.01"/><path stroke="#feba2c" d="M888.4 376.5h.01"/><path stroke="#f6e626" d="M889.6 339.6h.01"/><path stroke="#f8df25" d="M889.4 411.5h.01"/><path stroke="#feba2c" d="M889.8 326.2h.01"/><path stroke="#f48948" d="M891.5 329.4h.01M890.4 331.5h.01"/><path stroke="#feba2c" d="M892.9 308.8h.01"/><path stroke="#f6e626" d="M892.1 371.2h.01"/><path stroke="#7d03a8" d="M892.8 321.9h.01"/><path stroke="#fdb42f" d="M893.1 321.5h.01"/><path stroke="#feba2c" d="M891.9 311.2h.01"/><path stroke="#fdb42f" d="M893.4 418.8h.01M894 402.8h.01"/><path stroke="#feba2c" d="M893.4 343.4h.01"/><path stroke="#d04d73" d="M894.6 367.5h.01"/><path stroke="#ac2694" d="M893.1 281.7h.01"/><path stroke="#feba2c" d="M893.5 281.2h.01M894.6 363.8h.01M895.6 319.8h.01"/><path stroke="#f8df25" d="M895.9 435.6h.01"/><path stroke="#fdb42f" d="M895.4 304.4h.01"/><path stroke="#fccd25" d="M896 272.9h.01M897.2 375h.01"/><path stroke="#ba3388" d="M896.5 291.2h.01"/><path stroke="#fa9e3b" d="M896.9 290.8h.01"/><path stroke="#f48948" d="M896.2 340.6h.01"/><path stroke="#fdb42f" d="M897.9 277h.01M898.9 312.2h.01"/><path stroke="#feba2c" d="M898.1 397.5h.01"/><path stroke="#f6e626" d="M900.4 380.4h.01"/><path stroke="#fccd25" d="M900.4 297.5h.01"/><path stroke="#f48948" d="M900 387.8h.01"/><path stroke="#f2844b" d="M901.2 397.5h.01"/><path stroke="#fdb42f" d="M900.9 369.8h.01"/><path stroke="#f48948" d="M901.2 367.1h.01"/><path stroke="#a72197" d="M900.5 303.3h.01"/><path stroke="#fccd25" d="M900.9 302.9h.01"/><path stroke="#f48948" d="M903.8 357.8h.01"/><path stroke="#fccd25" d="M903.1 335.4h.01"/><path stroke="#feba2c" d="M902.9 383.5h.01M903.8 373.8h.01M902.5 306.5h.01"/><path stroke="#fdb42f" d="M902.5 316h.01M903.8 375.6h.01"/><path stroke="#a21d9a" d="M904.3 326.7h.01"/><path stroke="#fccd25" d="M904.6 326.2h.01"/><path stroke="#feba2c" d="M905.4 330h.01"/><path stroke="#fdb42f" d="M906.2 296.5h.01M905.9 288.1h.01"/><path stroke="#e56b5d" d="M908.1 387.2h.01"/><path stroke="#a21d9a" d="M907.8 360.7h.01"/><path stroke="#fccd25" d="M908.1 360.2h.01"/><path stroke="#9e199d" d="M907.4 399.8h.01"/><path stroke="#fccd25" d="M907.8 399.4h.01"/><path stroke="#f8df25" d="M907.2 435.6h.01"/><path stroke="#f6e626" d="M908.4 345.2h.01"/><path stroke="#f48948" d="M910.6 370.6h.01"/><path stroke="#f2844b" d="M910.6 329.4h.01"/><path stroke="#fcd225" d="M910 378.8h.01"/><path stroke="#f48948" d="M910 292.5h.01"/><path stroke="#fcd225" d="M912.5 268.5h.01"/><path stroke="#fdb42f" d="M911.9 350h.01"/><path stroke="#f6e626" d="M911.9 435.6h.01"/><path stroke="#feba2c" d="M911.2 363.8h.01"/><path stroke="#f8df25" d="M913.8 361.6h.01"/><path stroke="#fad824" d="M913.9 299.2h.01"/><path stroke="#f6e626" d="M914.1 466.4h.01"/><path stroke="#f8df25" d="M914.2 378.4h.01"/><path stroke="#f6e626" d="M914.2 216.8h.01"/><path stroke="#fdc627" d="M914 270.4h.01M913.8 145.6h.01"/><path stroke="#f8df25" d="M913.9 352h.01"/><path stroke="#f6e626" d="M914 169.6h.01M914.1 128h.01M914.2 399.2h.01"/><path stroke="#fdc627" d="M913.8 170.4h.01M914.1 160.8h.01M914.1 199.2h.01M913.9 166.4h.01M914 257.6h.01M913.9 178.4h.01"/><path stroke="#f8df25" d="M913.9 252h.01"/><path stroke="#fad824" d="M914 248.8h.01"/><path stroke="#f6e626" d="M913.8 152h.01"/><path stroke="#f8df25" d="M913.9 248h.01"/><path stroke="#fdc627" d="M913.8 432.8h.01"/><path stroke="#f8df25" d="M913.8 304h.01"/><path stroke="#f6e626" d="M913.9 171.2h.01"/><path stroke="#f8df25" d="M913.8 271.2h.01M913.8 150.4h.01M913.9 386.4h.01"/><path stroke="#f6e626" d="M913.8 362.4h.01"/><path stroke="#f8df25" d="M914.1 367.2h.01"/><path stroke="#f6e626" d="M913.9 456.8h.01"/><path stroke="#f8df25" d="M913.8 252.8h.01"/><path stroke="#fdc627" d="M913.8 127.2h.01"/><path stroke="#f6e626" d="M913.9 236.8h.01"/><path stroke="#fdc627" d="M914.2 186.4h.01"/><path stroke="#f6e626" d="M914 276.8h.01"/><path stroke="#f8df25" d="M914 328h.01"/><path stroke="#fdc627" d="M913.8 428.8h.01"/><path stroke="#f6e626" d="M914.1 256.8h.01"/><path stroke="#fad824" d="M914.2 454.4h.01"/><path stroke="#f8df25" d="M913.8 254.4h.01"/><path stroke="#f6e626" d="M913.9 377.6h.01M914.2 372.8h.01M914.2 289.6h.01"/><path stroke="#feba2c" d="M913.8 264h.01"/><path stroke="#fdc627" d="M913.9 172.8h.01"/><path stroke="#fad824" d="M913.8 446.4h.01M914.1 208.8h.01"/><path stroke="#fdc627" d="M914 227.2h.01"/><path stroke="#f8df25" d="M913.8 223.2h.01"/><path stroke="#fdc627" d="M914 363.2h.01"/><path stroke="#f8df25" d="M913.9 240h.01"/><path stroke="#f6e626" d="M914 417.6h.01"/><path stroke="#f8df25" d="M914 216h.01"/><path stroke="#fdc627" d="M913.8 413.6h.01"/><path stroke="#f8df25" d="M914 167.2h.01M914 444.8h.01"/><path stroke="#fad824" d="M914 188.8h.01M914.1 266.4h.01"/><path stroke="#f8df25" d="M914 268h.01"/><path stroke="#fdc627" d="M913.8 432h.01M914 356h.01"/><path stroke="#f6e626" d="M913.8 344.8h.01"/><path stroke="#f8df25" d="M914.2 285.6h.01"/><path stroke="#fad824" d="M914 324h.01"/><path stroke="#fdc627" d="M913.9 380h.01M914 349.6h.01M913.8 312h.01M913.8 350.4h.01"/><path stroke="#f8df25" d="M913.8 335.2h.01"/><path stroke="#f6e626" d="M914.1 175.2h.01"/><path stroke="#f8df25" d="M914 439.2h.01"/><path stroke="#f6e626" d="M914.2 356.8h.01"/><path stroke="#f8df25" d="M914.1 250.4h.01"/><path stroke="#fad824" d="M914.1 128.8h.01"/><path stroke="#f8df25" d="M914.2 262.4h.01"/><path stroke="#f6e626" d="M913.8 255.2h.01"/><path stroke="#fdc627" d="M913.8 134.4h.01"/><path stroke="#fad824" d="M914.1 201.6h.01"/><path stroke="#f8df25" d="M914.1 140h.01M913.9 202.4h.01"/><path stroke="#fad824" d="M914.2 368h.01"/><path stroke="#fdc627" d="M914 402.4h.01M914.2 434.4h.01"/><path stroke="#f6e626" d="M914.1 280h.01"/><path stroke="#f8df25" d="M914 315.2h.01M913.9 288h.01"/><path stroke="#fdc627" d="M914.1 338.4h.01M913.8 139.2h.01M914.2 415.2h.01"/><path stroke="#f8df25" d="M914 155.2h.01"/><path stroke="#fad824" d="M913.9 239.2h.01"/><path stroke="#fdc627" d="M913.8 149.6h.01"/><path stroke="#fad824" d="M913.8 370.4h.01"/><path stroke="#f8df25" d="M914.1 365.6h.01"/><path stroke="#fad824" d="M913.9 366.4h.01"/><path stroke="#f8df25" d="M913.9 339.2h.01"/><path stroke="#fad824" d="M914.1 267.2h.01"/><path stroke="#f8df25" d="M913.8 292h.01M914.1 204h.01"/><path stroke="#f6e626" d="M914.2 183.2h.01M914 284h.01"/><path stroke="#f8df25" d="M914.1 453.6h.01"/><path stroke="#fad824" d="M913.8 196h.01"/><path stroke="#fdc627" d="M914 235.2h.01"/><path stroke="#f8df25" d="M914.2 468h.01M914 374.4h.01M914 355.2h.01"/><path stroke="#f6e626" d="M913.9 264h.01"/><path stroke="#fdc627" d="M913.9 324.8h.01"/><path stroke="#fad824" d="M914 142.4h.01M914.1 421.6h.01"/><path stroke="#f8df25" d="M914.2 318.4h.01"/><path stroke="#f6e626" d="M914 276h.01"/><path stroke="#f8df25" d="M913.9 168.8h.01M914.1 180h.01"/><path stroke="#fad824" d="M914.1 295.2h.01M913.9 445.6h.01"/><path stroke="#f8df25" d="M913.8 444h.01"/><path stroke="#fad824" d="M914.1 244.8h.01"/><path stroke="#fdc627" d="M914 229.6h.01"/><path stroke="#f8df25" d="M914.2 152.8h.01"/><path stroke="#f6e626" d="M914 147.2h.01"/><path stroke="#f8df25" d="M914.2 313.6h.01"/><path stroke="#f6e626" d="M913.8 242.4h.01"/><path stroke="#fdc627" d="M914 440.8h.01"/><path stroke="#f8df25" d="M913.9 375.2h.01"/><path stroke="#fad824" d="M913.9 443.2h.01"/><path stroke="#f8df25" d="M914.2 364h.01"/><path stroke="#fad824" d="M913.8 220.8h.01"/><path stroke="#fdc627" d="M913.8 165.6h.01"/><path stroke="#f6e626" d="M913.9 321.6h.01"/><path stroke="#f8df25" d="M914 218.4h.01M914 342.4h.01M914.1 220h.01M914.1 157.6h.01"/><path stroke="#fad824" d="M914 200.8h.01"/><path stroke="#fdc627" d="M914 187.2h.01"/><path stroke="#f8df25" d="M914.1 360h.01M913.9 294.4h.01"/><path stroke="#fad824" d="M913.8 163.2h.01M914 176h.01M913.9 320.8h.01"/><path stroke="#f8df25" d="M913.9 337.6h.01M914.2 173.6h.01"/><path stroke="#f6e626" d="M913.9 400h.01"/><path stroke="#f8df25" d="M914.1 283.2h.01"/><path stroke="#fad824" d="M914.1 243.2h.01"/><path stroke="#f8df25" d="M914.2 161.6h.01"/><path stroke="#fad824" d="M914 260h.01"/><path stroke="#f6e626" d="M913.8 460.8h.01M914.2 448.8h.01"/><path stroke="#f8df25" d="M914.1 438.4h.01"/><path stroke="#fdc627" d="M914 296.8h.01M914.1 132.8h.01"/><path stroke="#f8df25" d="M913.8 455.2h.01M914.2 279.2h.01M914 448h.01"/><path stroke="#f6e626" d="M914.1 306.4h.01"/><path stroke="#fad824" d="M914.2 168h.01"/><path stroke="#f8df25" d="M913.9 246.4h.01"/><path stroke="#fad824" d="M914.2 291.2h.01"/><path stroke="#f6e626" d="M914.1 332h.01"/><path stroke="#f8df25" d="M913.9 138.4h.01M913.9 388.8h.01M914 304.8h.01"/><path stroke="#f6e626" d="M913.8 449.6h.01"/><path stroke="#fdc627" d="M913.8 328.8h.01"/><path stroke="#f8df25" d="M914.1 236h.01"/><path stroke="#fad824" d="M914 284.8h.01"/><path stroke="#f8df25" d="M914.2 200h.01"/><path stroke="#fdc627" d="M914.2 182.4h.01"/><path stroke="#f8df25" d="M914.2 269.6h.01M914 302.4h.01"/><path stroke="#fdc627" d="M914.1 287.2h.01M914.2 425.6h.01"/><path stroke="#fad824" d="M914.1 437.6h.01"/><path stroke="#f8df25" d="M914 320h.01M914.1 467.2h.01M913.9 380.8h.01"/><path stroke="#fad824" d="M914 300h.01"/><path stroke="#f8df25" d="M914 259.2h.01M914.1 240.8h.01"/><path stroke="#fad824" d="M914.2 403.2h.01"/><path stroke="#f8df25" d="M913.9 423.2h.01"/><path stroke="#fdc627" d="M914.1 185.6h.01M914.1 368.8h.01"/><path stroke="#fad824" d="M914 244h.01M913.8 219.2h.01M913.9 379.2h.01"/><path stroke="#f6e626" d="M913.9 241.6h.01M914.1 210.4h.01"/><path stroke="#fad824" d="M913.8 451.2h.01M914.1 450.4h.01"/><path stroke="#fdc627" d="M913.9 260.8h.01"/><path stroke="#f8df25" d="M914.2 226.4h.01M913.8 221.6h.01"/><path stroke="#fdc627" d="M914.1 373.6h.01"/><path stroke="#f8df25" d="M914.2 305.6h.01M914.2 273.6h.01"/><path stroke="#fdc627" d="M914 214.4h.01"/><path stroke="#fad824" d="M914.2 301.6h.01"/><path stroke="#f6e626" d="M913.9 281.6h.01M914.1 312.8h.01"/><path stroke="#fad824" d="M914.1 308.8h.01"/><path stroke="#fdc627" d="M914 346.4h.01"/><path stroke="#fad824" d="M914.1 387.2h.01"/><path stroke="#f6e626" d="M913.8 181.6h.01M914 308h.01"/><path stroke="#fad824" d="M914.2 261.6h.01"/><path stroke="#f8df25" d="M913.8 268.8h.01M914.2 404.8h.01"/><path stroke="#f6e626" d="M913.9 468.8h.01"/><path stroke="#fad824" d="M913.8 212h.01"/><path stroke="#f8df25" d="M913.8 334.4h.01"/><path stroke="#fdc627" d="M913.9 160h.01"/><path stroke="#f8df25" d="M914 292.8h.01"/><path stroke="#f6e626" d="M913.9 404h.01"/><path stroke="#fdc627" d="M913.8 196.8h.01"/><path stroke="#f8df25" d="M913.9 384.8h.01"/><path stroke="#fdc627" d="M913.9 332.8h.01"/><path stroke="#f8df25" d="M914.2 278.4h.01"/><path stroke="#fdc627" d="M914.1 389.6h.01M913.8 188h.01"/><path stroke="#f6e626" d="M914.1 412h.01"/><path stroke="#fdc627" d="M913.9 330.4h.01M914 177.6h.01"/><path stroke="#f6e626" d="M914.2 190.4h.01"/><path stroke="#fdc627" d="M914 228.8h.01"/><path stroke="#fad824" d="M914 135.2h.01M913.8 397.6h.01"/><path stroke="#fdc627" d="M914 148h.01"/><path stroke="#fad824" d="M914.1 225.6h.01M913.8 442.4h.01"/><path stroke="#f6e626" d="M914.2 293.6h.01"/><path stroke="#f8df25" d="M913.9 382.4h.01M913.8 203.2h.01"/><path stroke="#fad824" d="M913.8 352.8h.01"/><path stroke="#fdc627" d="M914.1 233.6h.01"/><path stroke="#f8df25" d="M914 217.6h.01"/><path stroke="#fdc627" d="M914.1 388h.01"/><path stroke="#f8df25" d="M913.8 146.4h.01"/><path stroke="#fad824" d="M914.2 458.4h.01"/><path stroke="#f8df25" d="M914.1 153.6h.01"/><path stroke="#fad824" d="M913.9 398.4h.01"/><path stroke="#f8df25" d="M914.1 230.4h.01"/><path stroke="#fad824" d="M914 347.2h.01"/><path stroke="#fdc627" d="M913.9 376h.01"/><path stroke="#fad824" d="M914 237.6h.01"/><path stroke="#f8df25" d="M914 323.2h.01"/><path stroke="#fad824" d="M913.9 189.6h.01"/><path stroke="#f8df25" d="M914.2 430.4h.01"/><path stroke="#fad824" d="M914.1 209.6h.01"/><path stroke="#fdc627" d="M913.9 280.8h.01"/><path stroke="#f8df25" d="M913.9 131.2h.01"/><path stroke="#f6e626" d="M914.2 457.6h.01"/><path stroke="#f8df25" d="M913.8 311.2h.01M914.1 274.4h.01M913.8 204.8h.01"/><path stroke="#f6e626" d="M914.1 447.2h.01"/><path stroke="#fdb42f" d="M913.1 333.8h.01"/><path stroke="#f6e626" d="M913.8 359.2h.01M914.1 184h.01"/><path stroke="#f8df25" d="M913.8 222.4h.01"/><path stroke="#f6e626" d="M913.9 154.4h.01"/><path stroke="#fad824" d="M913.9 358.4h.01"/><path stroke="#f8df25" d="M913.8 256h.01"/><path stroke="#fad824" d="M914.2 348h.01"/><path stroke="#f8df25" d="M913.9 303.2h.01"/><path stroke="#fad824" d="M913.9 137.6h.01"/><path stroke="#f6e626" d="M913.9 172h.01"/><path stroke="#fad824" d="M914.1 345.6h.01"/><path stroke="#f6e626" d="M913.8 396.8h.01M914 364.8h.01"/><path stroke="#fdc627" d="M914.1 249.6h.01M913.8 307.2h.01"/><path stroke="#f6e626" d="M914 464.8h.01"/><path stroke="#fdc627" d="M914.2 327.2h.01"/><path stroke="#f6e626" d="M913.9 407.2h.01"/><path stroke="#fad824" d="M914 231.2h.01"/><path stroke="#f6e626" d="M914.1 460h.01"/><path stroke="#f8df25" d="M913.8 263.2h.01M913.8 206.4h.01M914 462.4h.01M913.8 319.2h.01"/><path stroke="#fdc627" d="M914.2 384h.01"/><path stroke="#f6e626" d="M914.2 317.6h.01"/><path stroke="#fad824" d="M913.9 297.6h.01"/><path stroke="#fdc627" d="M914.1 459.2h.01"/><path stroke="#fad824" d="M913.9 431.2h.01M914.2 343.2h.01"/><path stroke="#f8df25" d="M914.1 133.6h.01"/><path stroke="#fad824" d="M914 463.2h.01"/><path stroke="#f8df25" d="M914.1 298.4h.01"/><path stroke="#fdc627" d="M914.1 141.6h.01"/><path stroke="#f6e626" d="M913.8 406.4h.01"/><path stroke="#f8df25" d="M914 136.8h.01M913.9 429.6h.01M914.1 369.6h.01M913.9 424h.01"/><path stroke="#fdc627" d="M913.9 336.8h.01"/><path stroke="#f8df25" d="M913.8 309.6h.01"/><path stroke="#fdc627" d="M914.2 433.6h.01"/><path stroke="#fad824" d="M914.1 440h.01M913.8 436.8h.01"/><path stroke="#fdc627" d="M913.8 247.2h.01"/><path stroke="#f6e626" d="M913.8 164.8h.01"/><path stroke="#fdc627" d="M914.2 390.4h.01"/><path stroke="#fad824" d="M913.9 411.2h.01"/><path stroke="#f6e626" d="M913.8 207.2h.01"/><path stroke="#fad824" d="M914.1 253.6h.01M914 213.6h.01"/><path stroke="#fdc627" d="M914.2 129.6h.01"/><path stroke="#fad824" d="M914 179.2h.01M913.9 325.6h.01M914.1 316h.01"/><path stroke="#f6e626" d="M914.1 427.2h.01"/><path stroke="#f8df25" d="M913.9 410.4h.01"/><path stroke="#fdc627" d="M913.8 354.4h.01"/><path stroke="#f8df25" d="M914.1 197.6h.01"/><path stroke="#fdb42f" d="M913.8 430h.01"/><path stroke="#f8df25" d="M914 208h.01"/><path stroke="#f6e626" d="M914 452h.01M913.9 416h.01M914.2 351.2h.01"/><path stroke="#fad824" d="M913.8 316.8h.01"/><path stroke="#fdc627" d="M914.1 211.2h.01"/><path stroke="#f6e626" d="M913.9 452.8h.01"/><path stroke="#fdc627" d="M913.8 340.8h.01"/><path stroke="#f8df25" d="M914.1 428h.01M913.9 326.4h.01"/><path stroke="#fad824" d="M914.2 158.4h.01"/><path stroke="#fdc627" d="M914 464h.01"/><path stroke="#f8df25" d="M914 296h.01"/><path stroke="#f6e626" d="M913.9 132h.01"/><path stroke="#fad824" d="M914.2 265.6h.01"/><path stroke="#fdc627" d="M913.9 148.8h.01"/><path stroke="#f8df25" d="M914.1 426.4h.01M913.9 422.4h.01"/><path stroke="#fad824" d="M914.2 184.8h.01M914.2 272h.01"/><path stroke="#f8df25" d="M913.8 224.8h.01"/><path stroke="#fdc627" d="M913.8 282.4h.01"/><path stroke="#fad824" d="M914 151.2h.01"/><path stroke="#f8df25" d="M914 371.2h.01M914 290.4h.01M914.2 286.4h.01"/><path stroke="#fad824" d="M913.8 383.2h.01"/><path stroke="#fdc627" d="M913.8 400.8h.01"/><path stroke="#f6e626" d="M914.1 405.6h.01"/><path stroke="#f8df25" d="M914.1 198.4h.01M913.9 322.4h.01"/><path stroke="#fad824" d="M914.2 143.2h.01"/><path stroke="#f8df25" d="M914.1 420.8h.01"/><path stroke="#f6e626" d="M914.2 130.4h.01"/><path stroke="#fdc627" d="M913.9 419.2h.01"/><path stroke="#f8df25" d="M914.1 156.8h.01M913.9 224h.01"/><path stroke="#fdc627" d="M914.1 401.6h.01"/><path stroke="#fad824" d="M913.8 162.4h.01"/><path stroke="#f8df25" d="M914 176.8h.01"/><path stroke="#fad824" d="M914 144.8h.01M914.1 228h.01"/><path stroke="#f8df25" d="M914.1 409.6h.01"/><path stroke="#fad824" d="M914.2 336h.01M913.9 232.8h.01"/><path stroke="#f8df25" d="M914.2 212.8h.01M914.2 164h.01M913.8 357.6h.01"/><path stroke="#fdc627" d="M914 408.8h.01"/><path stroke="#fad824" d="M914.1 436h.01"/><path stroke="#f8df25" d="M914.2 275.2h.01M914.2 144h.01M914.1 416.8h.01"/><path stroke="#f6e626" d="M913.8 348.8h.01"/><path stroke="#fdc627" d="M913.9 344h.01"/><path stroke="#f8df25" d="M914.1 205.6h.01M914.2 331.2h.01"/><path stroke="#f6e626" d="M913.8 341.6h.01M914 353.6h.01"/><path stroke="#fdc627" d="M914 408h.01"/><path stroke="#fad824" d="M914.1 461.6h.01"/><path stroke="#f8df25" d="M914.1 156h.01"/><path stroke="#fad824" d="M914.2 441.6h.01"/><path stroke="#f8df25" d="M914 360.8h.01"/><path stroke="#fad824" d="M914 414.4h.01"/><path stroke="#f8df25" d="M914 288.8h.01"/><path stroke="#f6e626" d="M913.8 465.6h.01"/><path stroke="#f8df25" d="M914.2 412.8h.01"/><path stroke="#f6e626" d="M914 300.8h.01"/><path stroke="#fdc627" d="M914.1 340h.01M913.8 381.6h.01"/><path stroke="#fad824" d="M914 376.8h.01"/><path stroke="#f8df25" d="M914.1 333.6h.01"/><path stroke="#f6e626" d="M913.9 258.4h.01"/><path stroke="#fad824" d="M914.1 264.8h.01"/><path stroke="#f6e626" d="M913.8 180.8h.01"/><path stroke="#f8df25" d="M914.2 234.4h.01"/><path stroke="#f6e626" d="M914.2 215.2h.01"/><path stroke="#fdc627" d="M913.8 277.6h.01"/><path stroke="#f8df25" d="M914.2 310.4h.01M914.2 238.4h.01M914.2 385.6h.01M913.8 251.2h.01"/><path stroke="#fdc627" d="M914 424.8h.01"/><path stroke="#fad824" d="M914.1 174.4h.01"/><path stroke="#f8df25" d="M914.1 140.8h.01"/><path stroke="#fad824" d="M914.2 314.4h.01M914 420h.01M914 329.6h.01"/><path stroke="#f6e626" d="M914 232h.01M914.1 245.6h.01M913.9 136h.01"/><path stroke="#f8df25" d="M914 418.4h.01"/><path stroke="#fdc627" d="M913.8 435.2h.01"/><path stroke="#f8df25" d="M914.2 456h.01"/><path stroke="#fdc627" d="M914.1 272.8h.01"/><path stroke="#f8df25" d="M914.2 372h.01M914.1 159.2h.01"/><path stroke="#99159f" d="M915.3 276.9h.01"/><path stroke="#f48948" d="M915.6 276.5h.01"/><path stroke="#fccd25" d="M914.4 326.2h.01"/><path stroke="#f48948" d="M915 366.9h.01"/><path stroke="#fdb42f" d="M914.6 341.6h.01"/><path stroke="#9410a2" d="M915.3 376.1h.01"/><path stroke="#f8df25" d="M915.6 375.6h.01"/><path stroke="#e56b5d" d="M915.6 371.2h.01"/><path stroke="#f48948" d="M916 408.1h.01"/><path stroke="#fccd25" d="M916.2 258.1h.01"/><path stroke="#fcd225" d="M916.2 336.2h.01"/><path stroke="#feba2c" d="M917.1 427.2h.01M918.8 352.5h.01M918.8 374h.01"/><path stroke="#fcd225" d="M918.8 316.2h.01"/><path stroke="#f6e626" d="M919.4 420.2h.01"/><path stroke="#fccd25" d="M919.1 306.2h.01"/><path stroke="#fcd225" d="M920.2 384.4h.01"/><path stroke="#fccd25" d="M921 300h.01"/><path stroke="#f6e626" d="M923.1 436.5h.01"/><path stroke="#fccd25" d="M922.2 380.6h.01"/><path stroke="#d6556d" d="M921.9 311h.01"/><path stroke="#f48948" d="M922.9 327.5h.01"/><path stroke="#f6e626" d="M923.4 277.2h.01"/><path stroke="#fccd25" d="M926 304.4h.01"/><path stroke="#feba2c" d="M925.6 301.2h.01"/><path stroke="#f2844b" d="M925.4 363.8h.01"/><path stroke="#fccd25" d="M925 436.2h.01"/><path stroke="#f48948" d="M926 399.8h.01M926 314.4h.01"/><path stroke="#fcd225" d="M928.8 435.6h.01"/><path stroke="#f48948" d="M928.5 316.6h.01"/><path stroke="#f6e626" d="M928.4 324.4h.01"/><path stroke="#feba2c" d="M927.9 380.9h.01"/><path stroke="#f48948" d="M928.5 410.9h.01"/><path stroke="#fdb42f" d="M929.4 310.6h.01"/><path stroke="#f6e626" d="M930.4 436.2h.01"/><path stroke="#fdb42f" d="M931 376.5h.01"/><path stroke="#f48948" d="M931.5 293.4h.01"/><path stroke="#fccd25" d="M931.9 335.6h.01"/><path stroke="#f8df25" d="M931.2 263.4h.01"/><path stroke="#f48948" d="M933.8 355h.01"/><path stroke="#f8df25" d="M933.4 287.5h.01"/><path stroke="#fdb42f" d="M933.5 373.8h.01"/><path stroke="#f8df25" d="M932.5 339.6h.01"/><path stroke="#fdb42f" d="M935 409.6h.01"/><path stroke="#f8df25" d="M934.4 323.1h.01"/><path stroke="#fdb42f" d="M934.4 353.8h.01"/><path stroke="#feba2c" d="M935 296.9h.01"/><path stroke="#fdb42f" d="M935 379.8h.01"/><path stroke="#feba2c" d="M935 406.9h.01"/><path stroke="#fccd25" d="M936.6 332.2h.01"/><path stroke="#fdb42f" d="M935.6 309.1h.01"/><path stroke="#fccd25" d="M935.6 306.2h.01"/><path stroke="#feba2c" d="M935.6 303.8h.01M937.2 419.8h.01"/><path stroke="#f8df25" d="M936.9 435.4h.01"/><path stroke="#fccd25" d="M937.5 318.5h.01M937.9 264h.01"/><path stroke="#feba2c" d="M937.5 358.1h.01"/><path stroke="#fcd225" d="M937.9 336.2h.01"/><path stroke="#e56b5d" d="M937.2 363.1h.01"/><path stroke="#f8df25" d="M939.4 276.5h.01"/><path stroke="#fcd225" d="M938.8 367.9h.01"/><path stroke="#fccd25" d="M938.5 322.1h.01"/><path stroke="#fdb42f" d="M938.8 416.6h.01"/><path stroke="#f8df25" d="M939.4 436.2h.01"/><path stroke="#fccd25" d="M940.9 292.9h.01"/><path stroke="#f6e626" d="M940.6 436.2h.01"/><path stroke="#feba2c" d="M940.4 384.1h.01"/><path stroke="#fcd225" d="M940.9 357.8h.01"/><path stroke="#feba2c" d="M940.9 311h.01"/><path stroke="#fccd25" d="M941.6 296.9h.01"/><path stroke="#f2844b" d="M941.2 314h.01"/><path stroke="#f48948" d="M941.6 263.8h.01"/><path stroke="#f6e626" d="M943.4 348.1h.01"/><path stroke="#fdb42f" d="M943.8 370.6h.01"/><path stroke="#f48948" d="M943.8 416.6h.01M944 324.4h.01"/><path stroke="#fccd25" d="M943.5 337.2h.01"/><path stroke="#f48948" d="M944.4 368.5h.01M944.4 327.5h.01"/><path stroke="#fccd25" d="M946.9 420.6h.01"/><path stroke="#feba2c" d="M945.9 339h.01M946.9 370.2h.01"/><path stroke="#f2844b" d="M946.2 305.9h.01"/><path stroke="#c13b82" d="M946.9 380.4h.01"/><path stroke="#cc4977" d="M947.9 291.2h.01"/><path stroke="#f8df25" d="M947.2 435.9h.01"/><path stroke="#f2844b" d="M948.1 361h.01"/><path stroke="#fdb42f" d="M948.8 321h.01M947.5 325h.01"/><path stroke="#fcd225" d="M950 295h.01"/><path stroke="#f6e626" d="M949.4 374.4h.01M950.6 435.9h.01"/><path stroke="#fcd225" d="M950.4 364.8h.01"/><path stroke="#fdb42f" d="M950.6 337.5h.01"/><path stroke="#feba2c" d="M950.6 282.5h.01"/><path stroke="#f48948" d="M950.4 358.1h.01"/><path stroke="#fccd25" d="M951.9 305.4h.01"/><path stroke="#fdb42f" d="M952.5 346.6h.01M951.9 309.1h.01"/><path stroke="#feba2c" d="M951.9 385h.01"/><path stroke="#fccd25" d="M953.1 282.5h.01"/><path stroke="#feba2c" d="M951.9 370.6h.01"/><path stroke="#f6e626" d="M953.1 435.9h.01M952.5 410.4h.01"/><path stroke="#f48948" d="M953.5 330.4h.01"/><path stroke="#fdb42f" d="M954.1 384.4h.01"/><path stroke="#fccd25" d="M954.4 321.2h.01M954.4 324.1h.01"/><path stroke="#fcd225" d="M953.8 350.6h.01M953.8 386.2h.01"/><path stroke="#feba2c" d="M954.8 347.1h.01M953.8 333.8h.01"/><path stroke="#f6e626" d="M955.4 436.5h.01"/><path stroke="#8808a6" d="M955.6 378.1h.01"/><path stroke="#fccd25" d="M955.4 406.2h.01"/><path stroke="#f6e626" d="M955.9 424.1h.01"/><path stroke="#fccd25" d="M957.5 381.6h.01"/><path stroke="#f6e626" d="M957.2 289.4h.01"/><path stroke="#f8df25" d="M957.1 266h.01"/><path stroke="#fcd225" d="M956.9 327.5h.01"/><path stroke="#f2844b" d="M957.1 267.5h.01"/><path stroke="#fccd25" d="M957.5 337.8h.01"/><path stroke="#f6e626" d="M956.5 418.5h.01"/><path stroke="#fdb42f" d="M957.5 377.5h.01"/><path stroke="#b12a90" d="M956.5 368.3h.01"/><path stroke="#feba2c" d="M956.9 367.9h.01"/><path stroke="#8808a6" d="M958.8 311h.01"/><path stroke="#a72197" d="M958.4 341.1h.01"/><path stroke="#f48948" d="M958.8 340.6h.01"/><path stroke="#feba2c" d="M958.8 368.1h.01M958.8 412.5h.01M960.6 375.4h.01"/><path stroke="#c13b82" d="M960.6 322.9h.01"/><path stroke="#feba2c" d="M960.6 356.5h.01"/><path stroke="#fccd25" d="M960.6 360h.01M961.9 376.5h.01"/><path stroke="#fcd225" d="M960.9 389h.01"/><path stroke="#fccd25" d="M961.9 309.6h.01"/><path stroke="#f8df25" d="M961.2 422.5h.01"/><path stroke="#fccd25" d="M960.9 410h.01M962.1 330.6h.01"/><path stroke="#feba2c" d="M963.8 381h.01M963.8 353.8h.01"/><path stroke="#8305a7" d="M962.8 299.4h.01"/><path stroke="#fdb42f" d="M963.1 299h.01"/><path stroke="#feba2c" d="M962.5 320.6h.01"/><path stroke="#fcd225" d="M964.4 308.8h.01"/><path stroke="#fdb42f" d="M964.4 339.1h.01"/><path stroke="#feba2c" d="M964.4 318.1h.01"/><path stroke="#fccd25" d="M964.1 294.8h.01"/><path stroke="#feba2c" d="M964.8 410h.01M964.4 355.6h.01"/><path stroke="#f48948" d="M966.2 356.5h.01"/><path stroke="#feba2c" d="M965.4 367.9h.01"/><path stroke="#fccd25" d="M965.9 373.8h.01"/><path stroke="#f2844b" d="M967.5 327.2h.01"/><path stroke="#fcd225" d="M967.9 404.4h.01"/><path stroke="#fdb42f" d="M967.5 322.1h.01"/><path stroke="#feba2c" d="M967.1 388.8h.01M967.5 416.2h.01"/><path stroke="#fccd25" d="M967.5 360.6h.01"/><path stroke="#feba2c" d="M969.6 316.6h.01"/><path stroke="#fdb42f" d="M968.5 366.2h.01"/><path stroke="#feba2c" d="M970.6 298.5h.01"/><path stroke="#fccd25" d="M970.2 287.9h.01"/><path stroke="#f48948" d="M971 390.6h.01M971 333.8h.01"/><path stroke="#da5a6a" d="M972.5 411.5h.01"/><path stroke="#fccd25" d="M971.2 378.5h.01"/><path stroke="#fcd225" d="M971.9 323.8h.01"/><path stroke="#fccd25" d="M972.9 359.6h.01"/><path stroke="#feba2c" d="M973.5 295.9h.01M973.5 336.5h.01"/></g>
<line x1="508.5" x2="508.5" y1="120" y2="470" stroke="#b0b0b0" stroke-width="1"/>
<line x1="767.5" x2="767.5" y1="120" y2="470" stroke="#b0b0b0" stroke-width="1"/>
<line x1="1025.5" x2="1025.5" y1="120" y2="470" stroke="#b0b0b0" stroke-width="1"/>
<line x1="1283.5" x2="1283.5" y1="120" y2="470" stroke="#b0b0b0" stroke-width="1"/>
<line x1="250" x2="1490" y1="353.5" y2="353.5" stroke="#b0b0b0" stroke-width="1"/>
<line x1="250" x2="1490" y1="237.5" y2="237.5" stroke="#b0b0b0" stroke-width="1"/>
<line x1="250.5" x2="250.5" y1="470.5" y2="475.4" stroke="#000" stroke-width="1"/>
<text x="249.60" y="502.8" text-anchor="middle" letter-spacing="0">0</text>
<line x1="302.5" x2="302.5" y1="470.5" y2="473.3" stroke="#000" stroke-width="0.85"/>
<line x1="353.5" x2="353.5" y1="470.5" y2="473.3" stroke="#000" stroke-width="0.85"/>
<line x1="405.5" x2="405.5" y1="470.5" y2="473.3" stroke="#000" stroke-width="0.85"/>
<line x1="457.5" x2="457.5" y1="470.5" y2="473.3" stroke="#000" stroke-width="0.85"/>
<line x1="508.5" x2="508.5" y1="470.5" y2="475.4" stroke="#000" stroke-width="1"/>
<text x="508.83" y="502.8" text-anchor="middle" letter-spacing="0">5</text>
<line x1="560.5" x2="560.5" y1="470.5" y2="473.3" stroke="#000" stroke-width="0.85"/>
<line x1="612.5" x2="612.5" y1="470.5" y2="473.3" stroke="#000" stroke-width="0.85"/>
<line x1="663.5" x2="663.5" y1="470.5" y2="473.3" stroke="#000" stroke-width="0.85"/>
<line x1="715.5" x2="715.5" y1="470.5" y2="473.3" stroke="#000" stroke-width="0.85"/>
<line x1="767.5" x2="767.5" y1="470.5" y2="475.4" stroke="#000" stroke-width="1"/>
<text x="766.37" y="502.8" text-anchor="middle" letter-spacing="-0.8">10</text>
<line x1="818.5" x2="818.5" y1="470.5" y2="473.3" stroke="#000" stroke-width="0.85"/>
<line x1="870.5" x2="870.5" y1="470.5" y2="473.3" stroke="#000" stroke-width="0.85"/>
<line x1="922.5" x2="922.5" y1="470.5" y2="473.3" stroke="#000" stroke-width="0.85"/>
<line x1="973.5" x2="973.5" y1="470.5" y2="473.3" stroke="#000" stroke-width="0.85"/>
<line x1="1025.5" x2="1025.5" y1="470.5" y2="475.4" stroke="#000" stroke-width="1"/>
<text x="1025.10" y="502.8" text-anchor="middle" letter-spacing="-0.8">15</text>
<line x1="1077.5" x2="1077.5" y1="470.5" y2="473.3" stroke="#000" stroke-width="0.85"/>
<line x1="1128.5" x2="1128.5" y1="470.5" y2="473.3" stroke="#000" stroke-width="0.85"/>
<line x1="1180.5" x2="1180.5" y1="470.5" y2="473.3" stroke="#000" stroke-width="0.85"/>
<line x1="1232.5" x2="1232.5" y1="470.5" y2="473.3" stroke="#000" stroke-width="0.85"/>
<line x1="1283.5" x2="1283.5" y1="470.5" y2="475.4" stroke="#000" stroke-width="1"/>
<text x="1283.23" y="502.8" text-anchor="middle" letter-spacing="-0.4">20</text>
<line x1="1335.5" x2="1335.5" y1="470.5" y2="473.3" stroke="#000" stroke-width="0.85"/>
<line x1="1387.5" x2="1387.5" y1="470.5" y2="473.3" stroke="#000" stroke-width="0.85"/>
<line x1="1438.5" x2="1438.5" y1="470.5" y2="473.3" stroke="#000" stroke-width="0.85"/>
<line x1="245.1" x2="250.5" y1="470.5" y2="470.5" stroke="#000" stroke-width="1"/>
<text x="240.8" y="481.60" text-anchor="end">0</text>
<line x1="247.2" x2="250.5" y1="447.5" y2="447.5" stroke="#000" stroke-width="0.85"/>
<line x1="247.2" x2="250.5" y1="423.5" y2="423.5" stroke="#000" stroke-width="0.85"/>
<line x1="247.2" x2="250.5" y1="400.5" y2="400.5" stroke="#000" stroke-width="0.85"/>
<line x1="247.2" x2="250.5" y1="377.5" y2="377.5" stroke="#000" stroke-width="0.85"/>
<line x1="245.1" x2="250.5" y1="353.5" y2="353.5" stroke="#000" stroke-width="1"/>
<text x="240.8" y="364.93" text-anchor="end">1000</text>
<line x1="247.2" x2="250.5" y1="330.5" y2="330.5" stroke="#000" stroke-width="0.85"/>
<line x1="247.2" x2="250.5" y1="307.5" y2="307.5" stroke="#000" stroke-width="0.85"/>
<line x1="247.2" x2="250.5" y1="283.5" y2="283.5" stroke="#000" stroke-width="0.85"/>
<line x1="247.2" x2="250.5" y1="260.5" y2="260.5" stroke="#000" stroke-width="0.85"/>
<line x1="245.1" x2="250.5" y1="237.5" y2="237.5" stroke="#000" stroke-width="1"/>
<text x="240.8" y="248.27" text-anchor="end">2000</text>
<line x1="247.2" x2="250.5" y1="213.5" y2="213.5" stroke="#000" stroke-width="0.85"/>
<line x1="247.2" x2="250.5" y1="190.5" y2="190.5" stroke="#000" stroke-width="0.85"/>
<line x1="247.2" x2="250.5" y1="167.5" y2="167.5" stroke="#000" stroke-width="0.85"/>
<line x1="247.2" x2="250.5" y1="143.5" y2="143.5" stroke="#000" stroke-width="0.85"/>
<line x1="245.1" x2="250.5" y1="120.5" y2="120.5" stroke="#000" stroke-width="1"/>
<text x="240.8" y="131.60" text-anchor="end">3000</text>
<rect x="250.5" y="120.5" width="1240" height="350" fill="none" stroke="#000" stroke-width="1.1"/>
<text transform="translate(149.8,296.0) rotate(-90)" text-anchor="middle">RF Distance (km)</text>
<g fill="none" stroke-linecap="round" stroke-width="4.24"><path stroke="#83ff73" d="M251.8 756.8h.01M263.8 855.2h.01"/><path stroke="#7aff7d" d="M265.8 691.2h.01M266.2 855.2h.01M270.2 805h.01"/><path stroke="#83ff73" d="M269.5 731.5h.01"/><path stroke="#7aff7d" d="M276.5 736.2h.01"/><path stroke="#73ff83" d="M277.2 748.2h.01M277.8 838.5h.01"/><path stroke="#83ff73" d="M280.2 886.2h.01"/><path stroke="#7aff7d" d="M285 760h.01"/><path stroke="#83ff73" d="M285.2 748.2h.01M284.1 803.7h.01M284.5 803.2h.01"/><path stroke="#7aff7d" d="M288 788.8h.01M289.8 694.2h.01"/><path stroke="#83ff73" d="M292.2 739.2h.01M297.8 803.2h.01M300.8 743.5h.01M299.8 795.8h.01M304.5 762h.01"/><path stroke="#7aff7d" d="M310.5 738.8h.01"/><path stroke="#73ff83" d="M316.5 721.5h.01"/><path stroke="#83ff73" d="M323 791.5h.01"/><path stroke="#7aff7d" d="M343.5 855.2h.01M346 855.2h.01M352.8 772h.01M354.5 764.2h.01"/><path stroke="#83ff73" d="M367.2 809.2h.01M373 717.8h.01"/><path stroke="#7aff7d" d="M376.2 831.8h.01"/><path stroke="#73ff83" d="M378.8 763h.01M381 855.2h.01M380.5 804.2h.01"/><path stroke="#800000" d="M383.9 706h.01M383.9 719.5h.01M383.9 640.7h.01M383.9 715.9h.01"/><path stroke="#83ff73" d="M383.9 620h.01"/><path stroke="#800000" d="M383.9 636.2h.01M383.9 552.1h.01"/><path stroke="#83ff73" d="M383.9 618.2h.01"/><path stroke="#800000" d="M383.9 711.4h.01M383.9 641.6h.01"/><path stroke="#ebff0c" d="M383.9 550.3h.01"/><path stroke="#ff8600" d="M383.9 547.6h.01"/><path stroke="#800000" d="M383.9 633.5h.01"/><path stroke="#83ff73" d="M383.9 624.5h.01"/><path stroke="#800000" d="M383.9 634.4h.01M383.9 638.9h.01M383.9 562.6h.01M383.9 716.8h.01M383.9 713.2h.01"/><path stroke="#83ff73" d="M383.9 627.2h.01"/><path stroke="#800000" d="M383.9 609.2h.01M383.9 706.9h.01"/><path stroke="#83ff73" d="M383.9 625.4h.01"/><path stroke="#800000" d="M383.9 656.9h.01M383.9 560.8h.01M383.9 651.5h.01M383.9 721.3h.01"/><path stroke="#ff7300" d="M383.9 544.9h.01"/><path stroke="#800000" d="M383.9 647.9h.01"/><path stroke="#ff8600" d="M383.9 546.7h.01"/><path stroke="#800000" d="M383.9 644.3h.01M383.9 612.8h.01M383.9 638h.01M383.9 630.8h.01M383.9 629h.01M383.9 611.9h.01M383.9 629.9h.01"/><path stroke="#ff7300" d="M383.9 548.5h.01"/><path stroke="#73ff83" d="M383.5 855.2h.01"/><path stroke="#ebff0c" d="M383.9 549.4h.01"/><path stroke="#83ff73" d="M383.9 620.9h.01"/><path stroke="#800000" d="M383.9 709.6h.01M383.9 717.7h.01M383.9 647h.01M383.9 637.1h.01M383.9 646.1h.01M383.9 675.4h.01M383.9 718.6h.01M383.9 635.3h.01M383.9 715h.01M383.9 553h.01M383.9 645.2h.01M383.9 631.7h.01M383.9 712.3h.01"/><path stroke="#ebff0c" d="M383.9 551.2h.01"/><path stroke="#800000" d="M383.9 722.2h.01"/><path stroke="#83ff73" d="M383.9 622.7h.01"/><path stroke="#800000" d="M383.9 688.6h.01M383.9 639.8h.01M383.9 707.8h.01M383.9 643.4h.01M383.9 654.2h.01M383.9 674.5h.01M383.9 561.7h.01"/><path stroke="#ebff0c" d="M383.9 545.8h.01"/><path stroke="#800000" d="M383.9 614.6h.01M383.9 611h.01M383.9 613.7h.01M383.9 632.6h.01M383.9 714.1h.01M383.9 710.5h.01M383.9 648.8h.01M383.9 656h.01M383.9 553.9h.01M383.9 655.1h.01M383.9 608.3h.01M383.9 615.5h.01M383.9 564.4h.01M383.9 723.1h.01"/><path stroke="#83ff73" d="M383.9 621.8h.01"/><path stroke="#800000" d="M383.9 565.3h.01"/><path stroke="#83ff73" d="M383.9 617.3h.01"/><path stroke="#800000" d="M383.9 610.1h.01M383.9 650.6h.01"/><path stroke="#7aff7d" d="M383.9 619.1h.01"/><path stroke="#83ff73" d="M383.9 626.3h.01"/><path stroke="#800000" d="M383.9 607.4h.01M383.9 652.4h.01M383.9 708.7h.01M383.9 649.7h.01M383.9 628.1h.01M383.9 642.5h.01M383.9 653.3h.01M383.9 720.4h.01"/><path stroke="#83ff73" d="M383.9 623.6h.01"/><path stroke="#800000" d="M383.9 563.5h.01"/><path stroke="#83ff73" d="M383.9 616.4h.01"/><path stroke="#7aff7d" d="M386 767.2h.01M385.5 795.8h.01"/><path stroke="#73ff83" d="M387 762h.01"/><path stroke="#83ff73" d="M386.8 737h.01M391.8 671.8h.01M394.5 737h.01"/><path stroke="#3cffba" d="M397 737h.01"/><path stroke="#43ffb4" d="M405.5 781.8h.01"/><path stroke="#83ff73" d="M411.5 745.2h.01"/><path stroke="#7aff7d" d="M412.8 782h.01"/><path stroke="#43ffb4" d="M423.2 781.2h.01"/><path stroke="#33ffc4" d="M431.8 693.5h.01M438.8 806h.01"/><path stroke="#83ff73" d="M443.8 798.8h.01M446.8 769.2h.01"/><path stroke="#73ff83" d="M450 765.8h.01"/><path stroke="#83ff73" d="M453.1 804h.01M453.5 803.5h.01"/><path stroke="#43ffb4" d="M458.8 838.8h.01"/><path stroke="#7aff7d" d="M460.5 724.2h.01M464.2 809.2h.01M466.2 731.5h.01"/><path stroke="#33ffc4" d="M477.2 755.8h.01"/><path stroke="#7aff7d" d="M476.2 796.2h.01"/><path stroke="#33ffc4" d="M478 812.2h.01M479 778.5h.01"/><path stroke="#43ffb4" d="M481.2 751.2h.01"/><path stroke="#4dffaa" d="M483.2 784.5h.01"/><path stroke="#43ffb4" d="M482.5 747.8h.01"/><path stroke="#83ff73" d="M489.2 729.5h.01"/><path stroke="#3cffba" d="M492.5 738.2h.01"/><path stroke="#4dffaa" d="M491.5 793h.01"/><path stroke="#83ff73" d="M493.2 685.5h.01"/><path stroke="#4dffaa" d="M493.5 789.8h.01"/><path stroke="#83ff73" d="M494.2 798.2h.01"/><path stroke="#4dffaa" d="M498.5 790h.01"/><path stroke="#33ffc4" d="M497.2 715.5h.01"/><path stroke="#43ffb4" d="M499.9 751.7h.01M500.2 751.2h.01"/><path stroke="#4dffaa" d="M507 808.2h.01"/><path stroke="#33ffc4" d="M513.8 738.2h.01"/><path stroke="#3cffba" d="M513.2 834.5h.01"/><path stroke="#43ffb4" d="M512.5 845h.01"/><path stroke="#4dffaa" d="M514.2 838.5h.01"/><path stroke="#73ff83" d="M518.2 743.2h.01M522.8 745.2h.01"/><path stroke="#4dffaa" d="M523 741.5h.01M524.2 755.5h.01M526.8 825.2h.01"/><path stroke="#43ffb4" d="M526.8 716.2h.01"/><path stroke="#33ffc4" d="M528.2 735.8h.01"/><path stroke="#4dffaa" d="M528 835h.01"/><path stroke="#33ffc4" d="M531.5 788.2h.01M530.2 827.5h.01M540.8 822.8h.01"/><path stroke="#3cffba" d="M541.5 846.2h.01"/><path stroke="#33ffc4" d="M544.8 735h.01M546.5 694.5h.01M546.8 784h.01"/><path stroke="#83ff73" d="M545.8 733h.01"/><path stroke="#4dffaa" d="M547.5 817h.01"/><path stroke="#43ffb4" d="M550.8 756.8h.01"/><path stroke="#3cffba" d="M551.2 837.5h.01"/><path stroke="#4dffaa" d="M553.2 738.2h.01"/><path stroke="#33ffc4" d="M553.2 748.8h.01M556.8 738.8h.01"/><path stroke="#43ffb4" d="M558 768.5h.01"/><path stroke="#33ffc4" d="M559 812.5h.01"/><path stroke="#43ffb4" d="M561.2 741.2h.01"/><path stroke="#4dffaa" d="M564 735h.01"/><path stroke="#3cffba" d="M565.8 752.5h.01"/><path stroke="#33ffc4" d="M565.2 686.2h.01"/><path stroke="#3cffba" d="M566.2 742.5h.01"/><path stroke="#43ffb4" d="M567.2 748.2h.01M570 734.8h.01"/><path stroke="#33ffc4" d="M571.5 705h.01"/><path stroke="#43ffb4" d="M573.8 823h.01"/><path stroke="#4dffaa" d="M572.8 847h.01"/><path stroke="#3cffba" d="M573.5 742.8h.01"/><path stroke="#43ffb4" d="M572.5 789.5h.01"/><path stroke="#33ffc4" d="M577.4 840.7h.01M577.8 840.2h.01M581.2 737.2h.01"/><path stroke="#7aff7d" d="M583.8 761h.01"/><path stroke="#83ff73" d="M586.8 801.2h.01"/><path stroke="#7aff7d" d="M588.2 705.2h.01"/><path stroke="#3cffba" d="M589.5 709.2h.01"/><path stroke="#33ffc4" d="M591.2 837.5h.01M593 835h.01"/><path stroke="#4dffaa" d="M592.2 758.2h.01"/><path stroke="#33ffc4" d="M592 765.2h.01"/><path stroke="#43ffb4" d="M594.5 724.5h.01"/><path stroke="#3cffba" d="M593.2 726h.01M597.8 826.8h.01"/><path stroke="#43ffb4" d="M596.8 797.5h.01"/><path stroke="#4dffaa" d="M597 838.2h.01M599 721h.01"/><path stroke="#3cffba" d="M598.2 795h.01"/><path stroke="#33ffc4" d="M599 724.8h.01"/><path stroke="#3cffba" d="M599.8 803h.01"/><path stroke="#7aff7d" d="M608 737.2h.01"/><path stroke="#33ffc4" d="M607 814.5h.01"/><path stroke="#3cffba" d="M610 795.8h.01"/><path stroke="#33ffc4" d="M611.1 791h.01M611.5 790.5h.01M611.2 719h.01"/><path stroke="#3cffba" d="M614.2 808.8h.01"/><path stroke="#33ffc4" d="M616.2 834.2h.01"/><path stroke="#43ffb4" d="M616 776.5h.01"/><path stroke="#33ffc4" d="M616 772.2h.01"/><path stroke="#4dffaa" d="M617.2 845.8h.01M618 794.8h.01"/><path stroke="#33ffc4" d="M619.8 822h.01"/><path stroke="#4dffaa" d="M620.8 773.8h.01"/><path stroke="#33ffc4" d="M625.2 799.2h.01"/><path stroke="#43ffb4" d="M625.8 727.8h.01"/><path stroke="#4dffaa" d="M625.2 815.2h.01"/><path stroke="#33ffc4" d="M626.2 704.5h.01"/><path stroke="#43ffb4" d="M628.8 787h.01"/><path stroke="#33ffc4" d="M629 745h.01"/><path stroke="#4dffaa" d="M628.5 747.8h.01M634.5 855.5h.01"/><path stroke="#33ffc4" d="M635.5 805.5h.01"/><path stroke="#43ffb4" d="M637 855.5h.01"/><path stroke="#33ffc4" d="M639.5 723.5h.01"/><path stroke="#7aff7d" d="M638.8 765.5h.01"/><path stroke="#33ffc4" d="M639.2 746h.01M640.8 723.5h.01"/><path stroke="#6aff8d" d="M644.1 775h.01"/><path stroke="#73ff83" d="M645 787.7h.01M645.4 787.2h.01"/><path stroke="#33ffc4" d="M644.4 734.5h.01"/><path stroke="#73ff83" d="M644.2 752h.01M644.4 773.8h.01"/><path stroke="#4dffaa" d="M645 728.4h.01"/><path stroke="#6aff8d" d="M646 715.1h.01"/><path stroke="#33ffc4" d="M646 794h.01"/><path stroke="#43ffb4" d="M648 739.8h.01"/><path stroke="#4dffaa" d="M649.6 793.1h.01"/><path stroke="#3cffba" d="M650 764.6h.01"/><path stroke="#6aff8d" d="M651.2 727.8h.01M651.9 839.8h.01M653.5 752.2h.01"/><path stroke="#43ffb4" d="M653.8 792.9h.01"/><path stroke="#4dffaa" d="M655.9 715.4h.01"/><path stroke="#6aff8d" d="M656.2 707.2h.01"/><path stroke="#43ffb4" d="M657.8 833.1h.01"/><path stroke="#4dffaa" d="M657.8 778.5h.01"/><path stroke="#3cffba" d="M661.2 696.5h.01"/><path stroke="#73ff83" d="M661.5 741.5h.01M661.9 741h.01"/><path stroke="#60ff97" d="M661.2 735h.01"/><path stroke="#3cffba" d="M663.4 720.8h.01"/><path stroke="#73ff83" d="M665 775h.01"/><path stroke="#6aff8d" d="M665 774.4h.01"/><path stroke="#4dffaa" d="M665 742h.01M665.9 759.1h.01M666.5 832.1h.01"/><path stroke="#73ff83" d="M666.2 839.6h.01"/><path stroke="#3cffba" d="M666.9 736.8h.01"/><path stroke="#33ffc4" d="M668.1 727.1h.01"/><path stroke="#43ffb4" d="M666.9 770.2h.01"/><path stroke="#3cffba" d="M669.4 755.4h.01M670.2 788.1h.01"/><path stroke="#33ffc4" d="M670.2 744.8h.01"/><path stroke="#43ffb4" d="M670.8 764.2h.01M672.8 719.5h.01"/><path stroke="#3cffba" d="M672.1 838.8h.01"/><path stroke="#7aff7d" d="M671.2 771h.01"/><path stroke="#6aff8d" d="M671.2 786.5h.01M673.6 726.4h.01"/><path stroke="#33ffc4" d="M675.2 756.2h.01"/><path stroke="#6aff8d" d="M674.4 753.5h.01"/><path stroke="#4dffaa" d="M677.2 696.5h.01"/><path stroke="#3cffba" d="M677.1 754.8h.01M677.5 754.4h.01"/><path stroke="#800000" d="M679.4 667.2h.01"/><path stroke="#6aff8d" d="M681.4 717.5h.01"/><path stroke="#4dffaa" d="M680.9 727.1h.01"/><path stroke="#6aff8d" d="M682.4 695.4h.01"/><path stroke="#3cffba" d="M684.2 749.6h.01"/><path stroke="#6aff8d" d="M684.6 742h.01"/><path stroke="#7aff7d" d="M684.8 799.4h.01"/><path stroke="#6aff8d" d="M684.8 737.5h.01"/><path stroke="#73ff83" d="M683.4 752.5h.01"/><path stroke="#33ffc4" d="M683.8 790h.01"/><path stroke="#7aff7d" d="M683.5 786.2h.01"/><path stroke="#6aff8d" d="M685.4 776.5h.01"/><path stroke="#73ff83" d="M685.6 774.4h.01"/><path stroke="#43ffb4" d="M686.9 791h.01"/><path stroke="#3cffba" d="M690.6 716.2h.01"/><path stroke="#6aff8d" d="M691.9 751.2h.01"/><path stroke="#4dffaa" d="M692.1 797.5h.01"/><path stroke="#7aff7d" d="M694.8 819.1h.01"/><path stroke="#43ffb4" d="M694.4 720.4h.01"/><path stroke="#3cffba" d="M694.4 794.4h.01"/><path stroke="#73ff83" d="M696.2 771.2h.01"/><path stroke="#3cffba" d="M696.2 779.4h.01"/><path stroke="#6aff8d" d="M696.9 718.5h.01M696.9 759.1h.01"/><path stroke="#800000" d="M700 545.1h.01M700 545.9h.01M700 546.5h.01M700 547.2h.01M700 548h.01M700 548.6h.01"/><path stroke="#890000" d="M700 549.4h.01"/><path stroke="#800000" d="M700 550h.01M700 550.8h.01M700 551.4h.01M700 552.1h.01M700 552.8h.01M700 553.5h.01"/><path stroke="#890000" d="M700 554.2h.01M700 554.9h.01"/><path stroke="#800000" d="M700 555.6h.01M700 556.3h.01"/><path stroke="#890000" d="M700 557h.01"/><path stroke="#800000" d="M700 557.7h.01"/><path stroke="#890000" d="M700 558.4h.01"/><path stroke="#800000" d="M700 559.1h.01M700 559.8h.01M700 560.5h.01M700 561.2h.01M700 561.9h.01M700 562.6h.01M700 563.3h.01M700 564h.01M700 564.7h.01M700 565.4h.01M700 566.1h.01M700 566.8h.01M700 567.5h.01M700 568.2h.01"/><path stroke="#890000" d="M700 568.9h.01"/><path stroke="#800000" d="M700 569.6h.01M700 570.3h.01M700 571h.01M700 571.7h.01"/><path stroke="#890000" d="M700 572.4h.01"/><path stroke="#800000" d="M700 573.1h.01M700 573.8h.01M700 574.5h.01M700 575.2h.01M700 575.9h.01"/><path stroke="#890000" d="M700 576.6h.01M700 577.3h.01"/><path stroke="#800000" d="M700 578h.01M700 578.7h.01M700 579.4h.01M700 580.1h.01M700 580.8h.01M700 581.5h.01M700 582.2h.01M700 582.9h.01"/><path stroke="#890000" d="M700 583.6h.01M700 584.3h.01"/><path stroke="#800000" d="M700 585h.01M700 585.7h.01M700 586.4h.01M700 587.1h.01"/><path stroke="#890000" d="M700 587.8h.01"/><path stroke="#800000" d="M700 588.5h.01M700 589.2h.01"/><path stroke="#890000" d="M700 589.9h.01"/><path stroke="#800000" d="M700 590.6h.01M700 591.3h.01M700 592h.01M700 592.7h.01M700 593.4h.01"/><path stroke="#890000" d="M700 594.1h.01"/><path stroke="#800000" d="M700 594.8h.01"/><path stroke="#890000" d="M700 595.5h.01"/><path stroke="#800000" d="M700 596.2h.01M700 596.9h.01"/><path stroke="#890000" d="M700 597.6h.01"/><path stroke="#800000" d="M700 598.3h.01M700 599h.01M700 599.7h.01M700 600.4h.01M700 601.1h.01"/><path stroke="#890000" d="M700 601.8h.01"/><path stroke="#800000" d="M700 602.5h.01M700 603.2h.01"/><path stroke="#890000" d="M700 603.9h.01"/><path stroke="#800000" d="M700 604.6h.01M700 605.3h.01"/><path stroke="#890000" d="M700 606h.01"/><path stroke="#800000" d="M700 606.7h.01M700 607.4h.01"/><path stroke="#890000" d="M700 608.1h.01"/><path stroke="#800000" d="M700 608.8h.01M700 609.5h.01M700 610.2h.01M700 610.9h.01M700 611.6h.01M700 612.3h.01M700 613h.01"/><path stroke="#890000" d="M700 613.7h.01M700 614.4h.01"/><path stroke="#800000" d="M700 615.1h.01M700 615.8h.01M700 616.5h.01M700 617.2h.01M700 617.9h.01M700 618.6h.01M700 619.3h.01M700 620h.01M700 620.7h.01"/><path stroke="#890000" d="M700 621.4h.01"/><path stroke="#800000" d="M700 622.1h.01M700 622.8h.01M700 623.5h.01"/><path stroke="#890000" d="M700 624.2h.01M700 624.9h.01"/><path stroke="#800000" d="M700 625.6h.01M700 626.3h.01M700 627h.01"/><path stroke="#890000" d="M700 627.7h.01M700 628.4h.01"/><path stroke="#800000" d="M700 629.1h.01M700 629.8h.01"/><path stroke="#890000" d="M700 630.5h.01"/><path stroke="#800000" d="M700 631.2h.01"/><path stroke="#890000" d="M700 631.9h.01M700 632.6h.01M700 633.3h.01"/><path stroke="#800000" d="M700 634h.01M700 634.7h.01M700 635.4h.01M700 636.1h.01M700 636.8h.01M700 637.5h.01M700 638.2h.01M700 638.9h.01M700 639.6h.01"/><path stroke="#890000" d="M700 640.3h.01"/><path stroke="#800000" d="M700 641h.01M700 641.7h.01M700 642.4h.01M700 643.1h.01M700 643.8h.01M700 644.5h.01M700 645.2h.01M700 645.9h.01M700 646.6h.01M700 647.3h.01M700 648h.01M700 648.7h.01M700 649.4h.01M700 650.1h.01M700 650.8h.01M700 651.5h.01M700 652.2h.01M700 652.9h.01M700 653.6h.01M700 654.3h.01"/><path stroke="#890000" d="M700 655h.01"/><path stroke="#800000" d="M700 655.7h.01"/><path stroke="#890000" d="M700 656.4h.01"/><path stroke="#800000" d="M700 657.1h.01M700 657.8h.01M700 658.5h.01"/><path stroke="#890000" d="M700 659.2h.01M700 659.9h.01M700 660.6h.01"/><path stroke="#800000" d="M700 661.3h.01M700 662h.01M700 662.7h.01M700 663.4h.01M700 664.1h.01M700 664.8h.01M700 665.5h.01M700 666.2h.01M700 666.9h.01M700 667.6h.01M700 668.3h.01"/><path stroke="#890000" d="M700 669h.01"/><path stroke="#800000" d="M700 669.7h.01M700 670.4h.01M700 671.1h.01M700 671.8h.01M700 672.5h.01M700 673.2h.01M700 673.9h.01"/><path stroke="#890000" d="M700 674.6h.01"/><path stroke="#800000" d="M700 675.3h.01M700 676h.01M700 676.7h.01M700 677.4h.01M700 678.1h.01M700 678.8h.01M700 679.5h.01M700 680.2h.01"/><path stroke="#890000" d="M700 680.9h.01"/><path stroke="#800000" d="M700 681.6h.01M700 682.3h.01M700 683h.01"/><path stroke="#890000" d="M700 683.7h.01"/><path stroke="#800000" d="M700 684.4h.01M700 685.1h.01M700 685.8h.01M700 686.5h.01M700 687.2h.01M700 687.9h.01M700 688.6h.01M700 689.3h.01M700 690h.01M700 690.7h.01M700 691.4h.01"/><path stroke="#890000" d="M700 692.1h.01"/><path stroke="#800000" d="M700 692.8h.01M700 693.5h.01M700 694.2h.01M700 694.9h.01M700 695.6h.01M700 696.3h.01M700 697h.01"/><path stroke="#890000" d="M700 697.7h.01"/><path stroke="#800000" d="M700 698.4h.01"/><path stroke="#890000" d="M700 699.1h.01M700 699.8h.01"/><path stroke="#800000" d="M700 700.5h.01M700 701.2h.01M700 701.9h.01M700 702.6h.01M700 703.3h.01M700 704h.01M700 704.7h.01M700 705.4h.01M700 706.1h.01M700 706.8h.01M700 707.5h.01M700 708.2h.01"/><path stroke="#890000" d="M700 708.9h.01M700 709.6h.01"/><path stroke="#800000" d="M700 710.3h.01M700 711h.01M700 711.7h.01"/><path stroke="#890000" d="M700 712.4h.01"/><path stroke="#800000" d="M700 713.1h.01M700 713.8h.01M700 714.5h.01M700 715.2h.01M700 715.9h.01M700 716.6h.01"/><path stroke="#890000" d="M700 717.3h.01"/><path stroke="#a40000" d="M701 718h.01"/><path stroke="#b20000" d="M701 718.7h.01"/><path stroke="#a40000" d="M701 719.4h.01"/><path stroke="#b20000" d="M701 720.1h.01M701 720.8h.01"/><path stroke="#a40000" d="M701 721.5h.01M701 722.2h.01M701 722.9h.01M701 723.6h.01M701 724.3h.01"/><path stroke="#b20000" d="M701 725h.01M701 725.7h.01"/><path stroke="#a40000" d="M701 726.4h.01M701 727.1h.01M701 727.8h.01M701 728.5h.01M701 729.2h.01M701 729.9h.01M701 730.6h.01M701 731.3h.01"/><path stroke="#b20000" d="M701 732h.01"/><path stroke="#a40000" d="M701 732.7h.01M701 733.4h.01M701 734.1h.01"/><path stroke="#b20000" d="M701 734.8h.01"/><path stroke="#a40000" d="M701 735.5h.01"/><path stroke="#b20000" d="M701 736.2h.01"/><path stroke="#a40000" d="M701 736.9h.01M701 737.6h.01"/><path stroke="#b20000" d="M701 738.3h.01M701 739h.01"/><path stroke="#a40000" d="M701 739.7h.01M701 740.4h.01M701 741.1h.01M701 741.8h.01M701 742.5h.01M701 743.2h.01M701 743.9h.01M701 744.6h.01M701 745.3h.01M701 746h.01"/><path stroke="#b20000" d="M701 746.7h.01"/><path stroke="#a40000" d="M701 747.4h.01M701 748.1h.01M701 748.8h.01M701 749.5h.01M701 750.2h.01M701 750.9h.01M701 751.6h.01M701 752.3h.01M701 753h.01"/><path stroke="#b20000" d="M701 753.7h.01"/><path stroke="#a40000" d="M701 754.4h.01M701 755.1h.01M701 755.8h.01M701 756.5h.01M701 757.2h.01M701 757.9h.01M701 758.6h.01M701 759.3h.01M701 760h.01"/><path stroke="#b20000" d="M701 760.7h.01"/><path stroke="#a40000" d="M701 761.4h.01M701 762.1h.01M701 762.8h.01M701 763.5h.01M701 764.2h.01M701 764.9h.01"/><path stroke="#b20000" d="M701 765.6h.01M701 766.3h.01"/><path stroke="#a40000" d="M701 767h.01M701 767.7h.01M701 768.4h.01"/><path stroke="#b20000" d="M701 769.1h.01"/><path stroke="#a40000" d="M701 769.8h.01M701 770.5h.01M701 771.2h.01M701 771.9h.01M701 772.6h.01M701 773.3h.01M701 774h.01M701 774.7h.01"/><path stroke="#890000" d="M700 775.4h.01"/><path stroke="#800000" d="M700 776.1h.01M700 776.8h.01M700 777.5h.01"/><path stroke="#890000" d="M700 778.2h.01M700 778.9h.01"/><path stroke="#800000" d="M700 779.6h.01"/><path stroke="#890000" d="M700 780.3h.01M700 781h.01"/><path stroke="#800000" d="M700 781.7h.01M700 782.4h.01M700 783.1h.01M700 783.8h.01"/><path stroke="#890000" d="M700 784.5h.01M700 785.2h.01"/><path stroke="#800000" d="M700 785.9h.01M700 786.6h.01"/><path stroke="#890000" d="M700 787.3h.01"/><path stroke="#800000" d="M700 788h.01M700 788.7h.01M700 789.4h.01M700 790.1h.01M700 790.8h.01"/><path stroke="#890000" d="M700 791.5h.01"/><path stroke="#800000" d="M700 792.2h.01M700 792.9h.01"/><path stroke="#890000" d="M700 793.6h.01M700 794.3h.01"/><path stroke="#800000" d="M700 795h.01M700 795.7h.01M700 796.4h.01M700 797.1h.01M700 797.8h.01M700 798.5h.01M700 799.2h.01M700 799.9h.01M700 800.6h.01M700 801.3h.01M700 802h.01"/><path stroke="#ff5d00" d="M700 802.7h.01"/><path stroke="#800000" d="M700 803.4h.01"/><path stroke="#ff1300" d="M700 804.1h.01"/><path stroke="#ff3b00" d="M700 804.8h.01"/><path stroke="#ff5d00" d="M700 805.5h.01"/><path stroke="#ff1300" d="M700 806.2h.01"/><path stroke="#890000" d="M700 806.9h.01"/><path stroke="#800000" d="M700 807.6h.01"/><path stroke="#ff3b00" d="M700 808.3h.01"/><path stroke="#800000" d="M700 809h.01M700 809.7h.01M700 810.4h.01"/><path stroke="#ff1300" d="M700 811.1h.01"/><path stroke="#800000" d="M700 811.8h.01M700 812.5h.01M700 813.2h.01M700 813.9h.01M700 814.6h.01M700 815.3h.01"/><path stroke="#ff5d00" d="M700 816h.01"/><path stroke="#800000" d="M700 816.7h.01"/><path stroke="#890000" d="M700 817.4h.01"/><path stroke="#ff5d00" d="M700 818.1h.01"/><path stroke="#890000" d="M700 818.8h.01"/><path stroke="#ff3b00" d="M700 819.5h.01"/><path stroke="#800000" d="M700 820.2h.01"/><path stroke="#ff5d00" d="M700 820.9h.01"/><path stroke="#ff1300" d="M700 821.6h.01"/><path stroke="#800000" d="M700 822.3h.01M700 823h.01M700 823.7h.01M700 824.4h.01M700 825.1h.01M700 825.8h.01M700 826.5h.01M700 827.2h.01M700 827.9h.01M700 828.6h.01M700 829.3h.01M700 830h.01M700 830.7h.01"/><path stroke="#890000" d="M700 831.4h.01"/><path stroke="#800000" d="M700 832.1h.01"/><path stroke="#890000" d="M700 832.8h.01M700 833.5h.01M700 834.2h.01"/><path stroke="#800000" d="M700 834.9h.01M700 835.6h.01M700 836.3h.01M700 837h.01M700 837.7h.01"/><path stroke="#890000" d="M700 838.4h.01"/><path stroke="#800000" d="M700 839.1h.01"/><path stroke="#890000" d="M700 839.8h.01"/><path stroke="#800000" d="M700 840.5h.01M700 841.2h.01M700 841.9h.01M700 842.6h.01"/><path stroke="#890000" d="M700 843.3h.01"/><path stroke="#800000" d="M700 844h.01"/><path stroke="#890000" d="M700 844.7h.01"/><path stroke="#800000" d="M700 845.4h.01"/><path stroke="#890000" d="M700 846.1h.01"/><path stroke="#800000" d="M700 846.8h.01M700 847.5h.01M700 848.2h.01M700 848.9h.01M700 849.6h.01M700 850.3h.01M700 851h.01M700 851.7h.01M700 852.4h.01M700 853.1h.01M700 853.8h.01M700 854.5h.01"/><path stroke="#890000" d="M700 855.2h.01"/><path stroke="#800000" d="M700 855.9h.01M700 856.6h.01M700 857.3h.01"/><path stroke="#890000" d="M700 858h.01M700 858.7h.01"/><path stroke="#800000" d="M700 859.4h.01M700 860.1h.01M700 860.8h.01M700 861.5h.01M700 862.2h.01M700 862.9h.01M700 863.6h.01M700 864.3h.01M700 865h.01"/><path stroke="#890000" d="M700 865.7h.01M700 866.4h.01"/><path stroke="#800000" d="M700 867.1h.01M700 867.8h.01M700 868.5h.01"/><path stroke="#a40000" d="M701 545.1h.01"/><path stroke="#b20000" d="M701 545.9h.01"/><path stroke="#a40000" d="M701 546.5h.01M701 547.2h.01M701 548h.01"/><path stroke="#b20000" d="M701 548.6h.01"/><path stroke="#a40000" d="M701 549.4h.01M701 550h.01"/><path stroke="#b20000" d="M701 550.8h.01"/><path stroke="#a40000" d="M701 551.4h.01M701 552.1h.01M701 552.8h.01"/><path stroke="#b20000" d="M701 553.5h.01"/><path stroke="#a40000" d="M701 554.2h.01M701 554.9h.01M701 555.6h.01M701 556.3h.01"/><path stroke="#b20000" d="M701 557h.01"/><path stroke="#a40000" d="M701 557.7h.01M701 558.4h.01M701 559.1h.01"/><path stroke="#b20000" d="M701 559.8h.01"/><path stroke="#a40000" d="M701 560.5h.01"/><path stroke="#b20000" d="M701 561.2h.01"/><path stroke="#a40000" d="M701 561.9h.01M701 562.6h.01M701 563.3h.01"/><path stroke="#b20000" d="M701 564h.01"/><path stroke="#a40000" d="M701 564.7h.01M701 565.4h.01M701 566.1h.01M701 566.8h.01M701 567.5h.01"/><path stroke="#b20000" d="M701 568.2h.01"/><path stroke="#a40000" d="M701 568.9h.01M701 569.6h.01M701 570.3h.01M701 571h.01"/><path stroke="#b20000" d="M701 571.7h.01"/><path stroke="#a40000" d="M701 572.4h.01"/><path stroke="#b20000" d="M701 573.1h.01"/><path stroke="#a40000" d="M701 573.8h.01M701 574.5h.01"/><path stroke="#b20000" d="M701 575.2h.01M701 575.9h.01"/><path stroke="#a40000" d="M701 576.6h.01M701 577.3h.01"/><path stroke="#b20000" d="M701 578h.01"/><path stroke="#a40000" d="M701 578.7h.01"/><path stroke="#b20000" d="M701 579.4h.01"/><path stroke="#a40000" d="M701 580.1h.01M701 580.8h.01M701 581.5h.01M701 582.2h.01"/><path stroke="#b20000" d="M701 582.9h.01"/><path stroke="#a40000" d="M701 583.6h.01M701 584.3h.01M701 585h.01M701 585.7h.01M701 586.4h.01"/><path stroke="#b20000" d="M701 587.1h.01M701 587.8h.01"/><path stroke="#a40000" d="M701 588.5h.01M701 589.2h.01M701 589.9h.01"/><path stroke="#b20000" d="M701 590.6h.01"/><path stroke="#a40000" d="M701 591.3h.01M701 592h.01M701 592.7h.01M701 593.4h.01"/><path stroke="#b20000" d="M701 594.1h.01M701 594.8h.01"/><path stroke="#a40000" d="M701 595.5h.01M701 596.2h.01M701 596.9h.01M701 597.6h.01M701 598.3h.01M701 599h.01M701 599.7h.01M701 600.4h.01M701 601.1h.01M701 601.8h.01M701 602.5h.01"/><path stroke="#b20000" d="M701 603.2h.01"/><path stroke="#a40000" d="M701 603.9h.01M701 604.6h.01M701 605.3h.01M701 606h.01M701 606.7h.01M701 607.4h.01M701 608.1h.01"/><path stroke="#b20000" d="M701 608.8h.01"/><path stroke="#a40000" d="M701 609.5h.01M701 610.2h.01"/><path stroke="#b20000" d="M701 610.9h.01"/><path stroke="#a40000" d="M701 611.6h.01M701 612.3h.01M701 613h.01M701 613.7h.01M701 614.4h.01M701 615.1h.01M701 615.8h.01"/><path stroke="#b20000" d="M701 616.5h.01"/><path stroke="#a40000" d="M701 617.2h.01"/><path stroke="#b20000" d="M701 617.9h.01"/><path stroke="#a40000" d="M701 618.6h.01"/><path stroke="#b20000" d="M701 619.3h.01"/><path stroke="#a40000" d="M701 620h.01M701 620.7h.01M701 621.4h.01"/><path stroke="#b20000" d="M701 622.1h.01"/><path stroke="#a40000" d="M701 622.8h.01M701 623.5h.01M701 624.2h.01"/><path stroke="#b20000" d="M701 624.9h.01"/><path stroke="#a40000" d="M701 625.6h.01M701 626.3h.01M701 627h.01M701 627.7h.01M701 628.4h.01M701 629.1h.01M701 629.8h.01M701 630.5h.01M701 631.2h.01M701 631.9h.01"/><path stroke="#b20000" d="M701 632.6h.01"/><path stroke="#a40000" d="M701 633.3h.01"/><path stroke="#b20000" d="M701 634h.01"/><path stroke="#a40000" d="M701 634.7h.01M701 635.4h.01M701 636.1h.01M701 636.8h.01M701 637.5h.01M701 638.2h.01M701 638.9h.01"/><path stroke="#b20000" d="M701 639.6h.01"/><path stroke="#a40000" d="M701 640.3h.01"/><path stroke="#b20000" d="M701 641h.01"/><path stroke="#a40000" d="M701 641.7h.01M701 642.4h.01M701 643.1h.01M701 643.8h.01M701 644.5h.01M701 645.2h.01M701 645.9h.01M701 646.6h.01M701 647.3h.01"/><path stroke="#b20000" d="M701 648h.01"/><path stroke="#a40000" d="M701 648.7h.01M701 649.4h.01"/><path stroke="#b20000" d="M701 650.1h.01"/><path stroke="#a40000" d="M701 650.8h.01M701 651.5h.01M701 652.2h.01M701 652.9h.01M701 653.6h.01M701 654.3h.01M701 655h.01"/><path stroke="#b20000" d="M701 655.7h.01"/><path stroke="#a40000" d="M701 656.4h.01"/><path stroke="#b20000" d="M701 657.1h.01"/><path stroke="#a40000" d="M701 657.8h.01M701 658.5h.01M701 659.2h.01M701 659.9h.01M701 660.6h.01M701 661.3h.01M701 662h.01M701 662.7h.01"/><path stroke="#b20000" d="M701 663.4h.01"/><path stroke="#a40000" d="M701 664.1h.01M701 664.8h.01"/><path stroke="#b20000" d="M701 665.5h.01"/><path stroke="#a40000" d="M701 666.2h.01"/><path stroke="#b20000" d="M701 666.9h.01"/><path stroke="#a40000" d="M701 667.6h.01M701 668.3h.01M701 669h.01M701 669.7h.01M701 670.4h.01M701 671.1h.01M701 671.8h.01"/><path stroke="#b20000" d="M701 672.5h.01"/><path stroke="#a40000" d="M701 673.2h.01M701 673.9h.01M701 674.6h.01M701 675.3h.01M701 676h.01"/><path stroke="#b20000" d="M701 676.7h.01"/><path stroke="#a40000" d="M701 677.4h.01M701 678.1h.01M701 678.8h.01M701 679.5h.01M701 680.2h.01"/><path stroke="#b20000" d="M701 680.9h.01M701 681.6h.01M701 682.3h.01"/><path stroke="#a40000" d="M701 683h.01"/><path stroke="#b20000" d="M701 683.7h.01"/><path stroke="#a40000" d="M701 684.4h.01M701 685.1h.01M701 685.8h.01"/><path stroke="#b20000" d="M701 686.5h.01"/><path stroke="#a40000" d="M701 687.2h.01M701 687.9h.01"/><path stroke="#b20000" d="M701 688.6h.01"/><path stroke="#a40000" d="M701 689.3h.01"/><path stroke="#b20000" d="M701 690h.01M701 690.7h.01"/><path stroke="#a40000" d="M701 691.4h.01M701 692.1h.01M701 692.8h.01"/><path stroke="#b20000" d="M701 693.5h.01M701 694.2h.01"/><path stroke="#a40000" d="M701 694.9h.01"/><path stroke="#b20000" d="M701 695.6h.01"/><path stroke="#a40000" d="M701 696.3h.01M701 697h.01M701 697.7h.01M701 698.4h.01M701 699.1h.01M701 699.8h.01M701 700.5h.01M701 701.2h.01M701 701.9h.01M701 702.6h.01M701 703.3h.01M701 704h.01M701 704.7h.01M701 705.4h.01"/><path stroke="#b20000" d="M701 706.1h.01M701 706.8h.01M701 707.5h.01"/><path stroke="#a40000" d="M701 708.2h.01M701 708.9h.01M701 709.6h.01M701 710.3h.01"/><path stroke="#b20000" d="M701 711h.01"/><path stroke="#a40000" d="M701 711.7h.01M701 712.4h.01M701 713.1h.01M701 713.8h.01M701 714.5h.01M701 715.2h.01M701 715.9h.01M701 716.6h.01M701 717.3h.01"/><path stroke="#890000" d="M700.4 718h.01"/><path stroke="#800000" d="M700.4 718.7h.01M700.4 719.4h.01M700.4 720.1h.01M700.4 720.8h.01M700.4 721.5h.01"/><path stroke="#890000" d="M700.4 722.2h.01"/><path stroke="#800000" d="M700.4 722.9h.01M700.4 723.6h.01M700.4 724.3h.01M700.4 725h.01"/><path stroke="#890000" d="M700.4 725.7h.01"/><path stroke="#800000" d="M700.4 726.4h.01M700.4 727.1h.01M700.4 727.8h.01M700.4 728.5h.01M700.4 729.2h.01M700.4 729.9h.01"/><path stroke="#890000" d="M700.4 730.6h.01"/><path stroke="#800000" d="M700.4 731.3h.01M700.4 732h.01M700.4 732.7h.01"/><path stroke="#890000" d="M700.4 733.4h.01M700.4 734.1h.01"/><path stroke="#800000" d="M700.4 734.8h.01M700.4 735.5h.01M700.4 736.2h.01M700.4 736.9h.01M700.4 737.6h.01M700.4 738.3h.01M700.4 739h.01"/><path stroke="#890000" d="M700.4 739.7h.01"/><path stroke="#800000" d="M700.4 740.4h.01"/><path stroke="#890000" d="M700.4 741.1h.01"/><path stroke="#800000" d="M700.4 741.8h.01M700.4 742.5h.01M700.4 743.2h.01M700.4 743.9h.01M700.4 744.6h.01M700.4 745.3h.01M700.4 746h.01M700.4 746.7h.01"/><path stroke="#890000" d="M700.4 747.4h.01M700.4 748.1h.01"/><path stroke="#800000" d="M700.4 748.8h.01M700.4 749.5h.01M700.4 750.2h.01"/><path stroke="#890000" d="M700.4 750.9h.01"/><path stroke="#800000" d="M700.4 751.6h.01"/><path stroke="#890000" d="M700.4 752.3h.01"/><path stroke="#800000" d="M700.4 753h.01M700.4 753.7h.01M700.4 754.4h.01M700.4 755.1h.01M700.4 755.8h.01M700.4 756.5h.01M700.4 757.2h.01M700.4 757.9h.01M700.4 758.6h.01M700.4 759.3h.01M700.4 760h.01M700.4 760.7h.01M700.4 761.4h.01M700.4 762.1h.01M700.4 762.8h.01M700.4 763.5h.01M700.4 764.2h.01M700.4 764.9h.01"/><path stroke="#890000" d="M700.4 765.6h.01"/><path stroke="#800000" d="M700.4 766.3h.01M700.4 767h.01"/><path stroke="#890000" d="M700.4 767.7h.01M700.4 768.4h.01"/><path stroke="#800000" d="M700.4 769.1h.01M700.4 769.8h.01M700.4 770.5h.01M700.4 771.2h.01M700.4 771.9h.01M700.4 772.6h.01M700.4 773.3h.01M700.4 774h.01M700.4 774.7h.01"/><path stroke="#a40000" d="M701.4 775.4h.01M701.4 776.1h.01M701.4 776.8h.01M701.4 777.5h.01"/><path stroke="#b20000" d="M701.4 778.2h.01"/><path stroke="#a40000" d="M701.4 778.9h.01M701.4 779.6h.01M701.4 780.3h.01"/><path stroke="#b20000" d="M701.4 781h.01M701.4 781.7h.01"/><path stroke="#a40000" d="M701.4 782.4h.01M701.4 783.1h.01M701.4 783.8h.01M701.4 784.5h.01M701.4 785.2h.01M701.4 785.9h.01M701.4 786.6h.01M701.4 787.3h.01M701.4 788h.01M701.4 788.7h.01M701.4 789.4h.01M701.4 790.1h.01M701.4 790.8h.01M701.4 791.5h.01M701.4 792.2h.01"/><path stroke="#b20000" d="M701.4 792.9h.01"/><path stroke="#a40000" d="M701.4 793.6h.01M701.4 794.3h.01M701.4 795h.01M701.4 795.7h.01M701.4 796.4h.01M701.4 797.1h.01M701.4 797.8h.01M701.4 798.5h.01"/><path stroke="#b20000" d="M701.4 799.2h.01"/><path stroke="#a40000" d="M701.4 799.9h.01M701.4 800.6h.01M701.4 801.3h.01"/><path stroke="#ff5d00" d="M701.4 802h.01"/><path stroke="#b20000" d="M701.4 802.7h.01"/><path stroke="#a40000" d="M701.4 803.4h.01M701.4 804.1h.01M701.4 804.8h.01M701.4 805.5h.01M701.4 806.2h.01"/><path stroke="#b20000" d="M701.4 806.9h.01"/><path stroke="#ff3b00" d="M701.4 807.6h.01"/><path stroke="#a40000" d="M701.4 808.3h.01"/><path stroke="#ff5d00" d="M701.4 809h.01"/><path stroke="#b20000" d="M701.4 809.7h.01"/><path stroke="#a40000" d="M701.4 810.4h.01M701.4 811.1h.01"/><path stroke="#ff5d00" d="M701.4 811.8h.01"/><path stroke="#a40000" d="M701.4 812.5h.01M701.4 813.2h.01M701.4 813.9h.01"/><path stroke="#ff3b00" d="M701.4 814.6h.01"/><path stroke="#ff5d00" d="M701.4 815.3h.01M701.4 816h.01"/><path stroke="#ff3b00" d="M701.4 816.7h.01"/><path stroke="#a40000" d="M701.4 817.4h.01"/><path stroke="#b20000" d="M701.4 818.1h.01"/><path stroke="#ff3b00" d="M701.4 818.8h.01"/><path stroke="#ff1300" d="M701.4 819.5h.01"/><path stroke="#b20000" d="M701.4 820.2h.01"/><path stroke="#a40000" d="M701.4 820.9h.01M701.4 821.6h.01"/><path stroke="#ff5d00" d="M701.4 822.3h.01"/><path stroke="#a40000" d="M701.4 823h.01M701.4 823.7h.01M701.4 824.4h.01M701.4 825.1h.01"/><path stroke="#b20000" d="M701.4 825.8h.01"/><path stroke="#a40000" d="M701.4 826.5h.01M701.4 827.2h.01M701.4 827.9h.01M701.4 828.6h.01M701.4 829.3h.01M701.4 830h.01"/><path stroke="#b20000" d="M701.4 830.7h.01"/><path stroke="#a40000" d="M701.4 831.4h.01M701.4 832.1h.01M701.4 832.8h.01M701.4 833.5h.01"/><path stroke="#b20000" d="M701.4 834.2h.01"/><path stroke="#a40000" d="M701.4 834.9h.01"/><path stroke="#b20000" d="M701.4 835.6h.01"/><path stroke="#a40000" d="M701.4 836.3h.01M701.4 837h.01M701.4 837.7h.01M701.4 838.4h.01M701.4 839.1h.01M701.4 839.8h.01M701.4 840.5h.01M701.4 841.2h.01M701.4 841.9h.01M701.4 842.6h.01M701.4 843.3h.01M701.4 844h.01M701.4 844.7h.01M701.4 845.4h.01M701.4 846.1h.01M701.4 846.8h.01"/><path stroke="#b20000" d="M701.4 847.5h.01"/><path stroke="#a40000" d="M701.4 848.2h.01M701.4 848.9h.01"/><path stroke="#b20000" d="M701.4 849.6h.01"/><path stroke="#a40000" d="M701.4 850.3h.01"/><path stroke="#b20000" d="M701.4 851h.01"/><path stroke="#a40000" d="M701.4 851.7h.01"/><path stroke="#b20000" d="M701.4 852.4h.01"/><path stroke="#a40000" d="M701.4 853.1h.01M701.4 853.8h.01"/><path stroke="#b20000" d="M701.4 854.5h.01"/><path stroke="#a40000" d="M701.4 855.2h.01"/><path stroke="#b20000" d="M701.4 855.9h.01"/><path stroke="#a40000" d="M701.4 856.6h.01M701.4 857.3h.01M701.4 858h.01M701.4 858.7h.01M701.4 859.4h.01M701.4 860.1h.01M701.4 860.8h.01M701.4 861.5h.01"/><path stroke="#b20000" d="M701.4 862.2h.01"/><path stroke="#a40000" d="M701.4 862.9h.01M701.4 863.6h.01M701.4 864.3h.01"/><path stroke="#b20000" d="M701.4 865h.01"/><path stroke="#a40000" d="M701.4 865.7h.01M701.4 866.4h.01M701.4 867.1h.01M701.4 867.8h.01M701.4 868.5h.01"/><path stroke="#73ff83" d="M701.2 749.6h.01M702.9 797.2h.01"/><path stroke="#83ff73" d="M703.8 767.1h.01M702.9 712.8h.01"/><path stroke="#73ff83" d="M704.6 727.9h.01"/><path stroke="#83ff73" d="M705.4 692.4h.01"/><path stroke="#6aff8d" d="M705 733.5h.01"/><path stroke="#73ff83" d="M706.9 736.2h.01M706 800.9h.01"/><path stroke="#7aff7d" d="M708.5 795.4h.01"/><path stroke="#83ff73" d="M709.8 830h.01"/><path stroke="#6aff8d" d="M710 790.6h.01"/><path stroke="#73ff83" d="M710.6 802.2h.01"/><path stroke="#4dffaa" d="M711.5 731.7h.01M711.9 731.2h.01"/><path stroke="#83ff73" d="M712.4 803.2h.01M712.8 802.8h.01"/><path stroke="#73ff83" d="M711.9 796.2h.01"/><path stroke="#83ff73" d="M711.9 790.6h.01M713.8 840.6h.01"/><path stroke="#7aff7d" d="M714.8 768.5h.01"/><path stroke="#6aff8d" d="M715.6 737.1h.01M715 753.5h.01"/><path stroke="#7aff7d" d="M717.5 731.9h.01M717.1 763.8h.01M717.2 785.9h.01"/><path stroke="#73ff83" d="M718.6 768.6h.01M719 768.1h.01"/><path stroke="#83ff73" d="M719 751h.01"/><path stroke="#73ff83" d="M717.8 729.6h.01M718.1 729.1h.01M718.1 801.6h.01M718.8 771h.01M719.4 776.9h.01"/><path stroke="#3cffba" d="M719.8 753.8h.01"/><path stroke="#4dffaa" d="M723.8 764h.01"/><path stroke="#7aff7d" d="M722.2 729.1h.01"/><path stroke="#73ff83" d="M724.8 794.4h.01"/><path stroke="#83ff73" d="M724.1 717.5h.01M726 740.5h.01"/><path stroke="#43ffb4" d="M726.8 728.8h.01"/><path stroke="#83ff73" d="M727.5 732.5h.01M726.5 751.5h.01M726.9 751h.01"/><path stroke="#73ff83" d="M729.4 707.4h.01"/><path stroke="#6aff8d" d="M730.6 801.5h.01"/><path stroke="#3cffba" d="M730.6 803.1h.01"/><path stroke="#7aff7d" d="M731 789.4h.01"/><path stroke="#83ff73" d="M730.4 828.5h.01"/><path stroke="#6aff8d" d="M732.4 672.2h.01"/><path stroke="#83ff73" d="M732.8 743.5h.01"/><path stroke="#7aff7d" d="M733.1 793.8h.01"/><path stroke="#4dffaa" d="M735.2 781.9h.01"/><path stroke="#73ff83" d="M735.6 737.1h.01M734.8 741.9h.01M736.2 829.1h.01M736.2 729.8h.01"/><path stroke="#4dffaa" d="M738.8 729.8h.01"/><path stroke="#73ff83" d="M737.5 790.9h.01"/><path stroke="#83ff73" d="M738.5 753.8h.01"/><path stroke="#73ff83" d="M739.4 796.5h.01"/><path stroke="#6aff8d" d="M739.5 747.2h.01"/><path stroke="#73ff83" d="M739.8 830.9h.01"/><path stroke="#83ff73" d="M740 711.8h.01"/><path stroke="#7aff7d" d="M740.9 698.5h.01M741.2 789.1h.01M742.1 784h.01M743.1 753.8h.01"/><path stroke="#73ff83" d="M742.2 845h.01"/><path stroke="#3cffba" d="M744.4 829h.01M744.5 725.5h.01"/><path stroke="#73ff83" d="M744.4 834.4h.01"/><path stroke="#43ffb4" d="M745 736.2h.01"/><path stroke="#7aff7d" d="M745 771h.01"/><path stroke="#3cffba" d="M745.2 715.6h.01"/><path stroke="#6aff8d" d="M748.5 786h.01M747.9 722.9h.01"/><path stroke="#73ff83" d="M748.4 839.4h.01"/><path stroke="#7aff7d" d="M749.8 836.6h.01"/><path stroke="#6aff8d" d="M750.4 812.1h.01"/><path stroke="#7aff7d" d="M750.4 749.6h.01"/><path stroke="#83ff73" d="M753.5 777.2h.01"/><path stroke="#7aff7d" d="M753.4 804.6h.01M752.9 690.2h.01"/><path stroke="#6aff8d" d="M753.8 816.9h.01"/><path stroke="#7aff7d" d="M754.8 784.4h.01M755 790.2h.01"/><path stroke="#4dffaa" d="M755 763.5h.01"/><path stroke="#73ff83" d="M755 756.9h.01"/><path stroke="#83ff73" d="M756.2 808.5h.01"/><path stroke="#6aff8d" d="M755.6 746.5h.01"/><path stroke="#83ff73" d="M756.2 795h.01"/><path stroke="#7aff7d" d="M755.6 694.6h.01M755.3 729.6h.01"/><path stroke="#83ff73" d="M755.6 729.1h.01"/><path stroke="#73ff83" d="M756.2 742.8h.01"/><path stroke="#83ff73" d="M758.1 758.5h.01"/><path stroke="#6aff8d" d="M757.2 819.1h.01M756.9 737.5h.01"/><path stroke="#83ff73" d="M757.9 804h.01"/><path stroke="#4dffaa" d="M759.4 796.5h.01"/><path stroke="#73ff83" d="M759 782.7h.01M759.4 782.2h.01"/><path stroke="#7aff7d" d="M758.8 740.6h.01M760.4 790.9h.01"/><path stroke="#33ffc4" d="M760.6 787.5h.01"/><path stroke="#7aff7d" d="M762.5 734.4h.01"/><path stroke="#6aff8d" d="M761.6 757.5h.01"/><path stroke="#83ff73" d="M762.6 673h.01"/><path stroke="#73ff83" d="M761.5 801.9h.01M763.4 821.6h.01"/><path stroke="#3cffba" d="M763.5 790.4h.01"/><path stroke="#83ff73" d="M764.4 779.8h.01"/><path stroke="#3cffba" d="M765.6 784.4h.01"/><path stroke="#73ff83" d="M765 805.2h.01M765.4 776.9h.01M766.5 729h.01"/><path stroke="#33ffc4" d="M766.9 713.8h.01"/><path stroke="#3cffba" d="M770 730h.01"/><path stroke="#7aff7d" d="M769.4 773.8h.01"/><path stroke="#33ffc4" d="M770 741.6h.01"/><path stroke="#83ff73" d="M769.4 775.6h.01"/><path stroke="#7aff7d" d="M769 792.8h.01"/><path stroke="#6aff8d" d="M771.2 801.2h.01M770.2 733.1h.01"/><path stroke="#83ff73" d="M773.1 715h.01"/><path stroke="#7aff7d" d="M772.5 738.1h.01"/><path stroke="#73ff83" d="M772.5 726.2h.01"/><path stroke="#7aff7d" d="M772.5 777.2h.01"/><path stroke="#6aff8d" d="M774.6 806.2h.01M775 803.8h.01"/><path stroke="#7aff7d" d="M777.4 845.7h.01M777.8 845.2h.01"/><path stroke="#73ff83" d="M777.2 740.4h.01M779.1 731h.01"/><path stroke="#83ff73" d="M779 801.9h.01"/><path stroke="#7aff7d" d="M778.1 791.2h.01"/><path stroke="#6aff8d" d="M778.5 756.9h.01"/><path stroke="#73ff83" d="M780.6 806h.01"/><path stroke="#83ff73" d="M780.6 728.1h.01"/><path stroke="#73ff83" d="M779.4 720.6h.01"/><path stroke="#6aff8d" d="M781.9 832.5h.01"/><path stroke="#83ff73" d="M781.2 827.2h.01"/><path stroke="#6aff8d" d="M783.5 726h.01"/><path stroke="#3cffba" d="M781.9 744.8h.01M782.2 744.4h.01"/><path stroke="#7aff7d" d="M783.8 721.9h.01"/><path stroke="#6aff8d" d="M783.1 736.9h.01"/><path stroke="#83ff73" d="M784.6 799.8h.01M785 799.4h.01"/><path stroke="#73ff83" d="M784.6 834.6h.01M785 791.6h.01M786.5 794.4h.01"/><path stroke="#7aff7d" d="M786.5 765.9h.01"/><path stroke="#73ff83" d="M787.5 706.2h.01M788.1 786.5h.01"/><path stroke="#33ffc4" d="M788.1 830.4h.01"/><path stroke="#83ff73" d="M789.8 753.5h.01"/><path stroke="#43ffb4" d="M789.4 781.9h.01"/><path stroke="#7aff7d" d="M790.6 802.7h.01M791 802.2h.01M790.6 735h.01"/><path stroke="#83ff73" d="M791.6 707.5h.01"/><path stroke="#7aff7d" d="M792.1 733.1h.01M791.9 755h.01"/><path stroke="#83ff73" d="M792.1 748.8h.01"/><path stroke="#3cffba" d="M792.2 764.4h.01"/><path stroke="#7aff7d" d="M793.1 752.5h.01M794 855.2h.01M794.4 789.4h.01"/><path stroke="#73ff83" d="M795.8 855.2h.01M794 724.8h.01M794.4 724.4h.01"/><path stroke="#7aff7d" d="M796.2 746.2h.01"/><path stroke="#73ff83" d="M795.9 760.9h.01M797.1 798.1h.01"/><path stroke="#3cffba" d="M796.6 743.1h.01M797.2 829.4h.01"/><path stroke="#7aff7d" d="M797.9 794h.01"/><path stroke="#73ff83" d="M797.5 855.2h.01M799.4 802.5h.01"/><path stroke="#7aff7d" d="M799.4 752h.01"/><path stroke="#83ff73" d="M799.8 751.5h.01"/><path stroke="#73ff83" d="M800 749.4h.01"/><path stroke="#6aff8d" d="M800 769.4h.01"/><path stroke="#7aff7d" d="M801 672.5h.01"/><path stroke="#73ff83" d="M801.2 840.4h.01"/><path stroke="#7aff7d" d="M801 808.5h.01"/><path stroke="#6aff8d" d="M801.9 725.4h.01M802.9 746h.01M802.5 654.5h.01M803.4 720h.01"/><path stroke="#83ff73" d="M804.8 705.4h.01"/><path stroke="#7aff7d" d="M805.4 755.4h.01"/><path stroke="#73ff83" d="M805.6 790h.01"/><path stroke="#3cffba" d="M805.4 824.4h.01"/><path stroke="#83ff73" d="M805 793h.01M805.4 792.5h.01"/><path stroke="#6aff8d" d="M806.2 743.5h.01"/><path stroke="#7aff7d" d="M807.2 800.9h.01M806.6 696.9h.01M807.8 822.9h.01"/><path stroke="#83ff73" d="M806.9 747.8h.01"/><path stroke="#73ff83" d="M808.5 734.8h.01M808.4 728.4h.01"/><path stroke="#33ffc4" d="M808.8 703.1h.01"/><path stroke="#6aff8d" d="M810 797.5h.01"/><path stroke="#7aff7d" d="M810.6 733.1h.01"/><path stroke="#83ff73" d="M809.4 767.2h.01M811.2 738.8h.01"/><path stroke="#6aff8d" d="M811.6 795.6h.01M811.2 790.4h.01"/><path stroke="#73ff83" d="M811.2 746.2h.01"/><path stroke="#83ff73" d="M811.9 700.4h.01"/><path stroke="#7aff7d" d="M811.9 710h.01"/><path stroke="#6aff8d" d="M811.9 793.8h.01"/><path stroke="#7aff7d" d="M813.4 730h.01"/><path stroke="#83ff73" d="M813.8 843.8h.01M813.8 763.8h.01"/><path stroke="#7aff7d" d="M813.1 720.4h.01M812.9 801.5h.01M814.4 786.2h.01"/><path stroke="#83ff73" d="M815.4 740.6h.01"/><path stroke="#7aff7d" d="M816.2 728.5h.01"/><path stroke="#73ff83" d="M815.9 761.6h.01M816.2 856.5h.01"/><path stroke="#7aff7d" d="M815.4 771.2h.01"/><path stroke="#6aff8d" d="M816.9 822.5h.01"/><path stroke="#7aff7d" d="M817.5 792.9h.01M817.1 736h.01"/><path stroke="#6aff8d" d="M818.8 783.5h.01"/><path stroke="#73ff83" d="M819.8 753.8h.01"/><path stroke="#7aff7d" d="M818.8 726.2h.01"/><path stroke="#73ff83" d="M819.4 714.4h.01"/><path stroke="#6aff8d" d="M820.9 794.8h.01M820.9 740.2h.01"/><path stroke="#83ff73" d="M820 746.5h.01"/><path stroke="#3cffba" d="M820.4 791.2h.01"/><path stroke="#4dffaa" d="M822.5 783.8h.01"/><path stroke="#7aff7d" d="M822.5 767.5h.01M822.1 771h.01"/><path stroke="#83ff73" d="M822.5 806.2h.01"/><path stroke="#7aff7d" d="M824.1 762.1h.01"/><path stroke="#83ff73" d="M824.1 691h.01M823.1 716.7h.01M823.5 716.2h.01"/><path stroke="#6aff8d" d="M823.1 729.6h.01M825.4 801.5h.01M825.6 832.2h.01"/><path stroke="#7aff7d" d="M824.4 821.5h.01"/><path stroke="#73ff83" d="M824.6 794h.01M825 793.5h.01"/><path stroke="#83ff73" d="M827.1 754.4h.01"/><path stroke="#73ff83" d="M826 732.2h.01M826.2 746.5h.01M827.5 742.1h.01"/><path stroke="#83ff73" d="M830 828.1h.01"/><path stroke="#73ff83" d="M829.6 828.5h.01"/><path stroke="#83ff73" d="M829.6 681.2h.01"/><path stroke="#73ff83" d="M830 806.9h.01M830 708.1h.01"/><path stroke="#7aff7d" d="M830 786.9h.01M829.4 708.1h.01"/><path stroke="#83ff73" d="M829.6 806.9h.01"/><path stroke="#7aff7d" d="M829.4 786.5h.01M830.6 681.2h.01"/><path stroke="#43ffb4" d="M831.5 801.2h.01"/><path stroke="#73ff83" d="M831.2 710.9h.01"/><path stroke="#7aff7d" d="M832.2 729.6h.01M832.5 742.9h.01"/><path stroke="#83ff73" d="M831.9 753.1h.01"/><path stroke="#3cffba" d="M832.2 765.2h.01"/><path stroke="#83ff73" d="M832.5 823.8h.01"/><path stroke="#73ff83" d="M834.1 746h.01M834.4 754.8h.01M833.8 828.8h.01"/><path stroke="#33ffc4" d="M836 728.5h.01M835.6 740.6h.01"/><path stroke="#73ff83" d="M835.4 699.4h.01M836 796h.01"/><path stroke="#7aff7d" d="M837.5 738.1h.01"/><path stroke="#6aff8d" d="M837.8 839.1h.01"/><path stroke="#73ff83" d="M837.5 732.5h.01"/><path stroke="#43ffb4" d="M837.8 709.8h.01"/><path stroke="#7aff7d" d="M836.2 805h.01"/><path stroke="#83ff73" d="M838.1 724.6h.01"/><path stroke="#7aff7d" d="M838.8 782.8h.01"/><path stroke="#3cffba" d="M839.4 794.6h.01"/><path stroke="#83ff73" d="M842.9 735.9h.01"/><path stroke="#7aff7d" d="M843.8 779.4h.01"/><path stroke="#6aff8d" d="M842.5 811.2h.01M842.9 808.8h.01M842.9 693.4h.01M846.2 795.6h.01"/><path stroke="#83ff73" d="M845.6 836.6h.01"/><path stroke="#33ffc4" d="M846.1 705.7h.01M846.5 705.2h.01"/><path stroke="#73ff83" d="M845.2 792.9h.01"/><path stroke="#4dffaa" d="M845.4 759.1h.01"/><path stroke="#7aff7d" d="M846.2 720.4h.01M846.9 728.8h.01M847.2 728.4h.01"/><path stroke="#3cffba" d="M847.9 836.6h.01"/><path stroke="#33ffc4" d="M847.5 797.5h.01"/><path stroke="#4dffaa" d="M849.8 758.8h.01"/><path stroke="#6aff8d" d="M849 738h.01"/><path stroke="#73ff83" d="M849.4 737.5h.01"/><path stroke="#7aff7d" d="M848.8 732.1h.01"/><path stroke="#73ff83" d="M850 741.2h.01"/><path stroke="#83ff73" d="M850.2 670h.01"/><path stroke="#7aff7d" d="M851.2 750h.01"/><path stroke="#6aff8d" d="M851.9 771.2h.01"/><path stroke="#7aff7d" d="M851.5 752.2h.01"/><path stroke="#6aff8d" d="M853.4 744h.01"/><path stroke="#73ff83" d="M853.8 743.5h.01"/><path stroke="#7aff7d" d="M853.5 739.8h.01"/><path stroke="#73ff83" d="M855.2 722.1h.01"/><path stroke="#6aff8d" d="M855.6 746.9h.01"/><path stroke="#73ff83" d="M856.9 800.6h.01"/><path stroke="#7aff7d" d="M856.9 749.4h.01"/><path stroke="#73ff83" d="M856.2 759.4h.01M857.8 757.3h.01M858.1 756.9h.01M858.5 738.1h.01M857.2 711.2h.01"/><path stroke="#83ff73" d="M857.2 732.8h.01"/><path stroke="#800000" d="M859.7 642.2h.01"/><path stroke="#000080" d="M860.2 605.8h.01"/><path stroke="#800000" d="M860.1 774.8h.01"/><path stroke="#0040ff" d="M860 725.4h.01"/><path stroke="#73ff83" d="M860.2 764.4h.01"/><path stroke="#000080" d="M859.7 746.2h.01"/><path stroke="#800000" d="M860 683.8h.01"/><path stroke="#000080" d="M860 735.8h.01"/><path stroke="#800000" d="M859.6 868.4h.01M860 845h.01"/><path stroke="#000080" d="M860 686.4h.01"/><path stroke="#800000" d="M859.9 564.2h.01"/><path stroke="#000080" d="M859.7 598h.01"/><path stroke="#fbf100" d="M860.1 798.2h.01"/><path stroke="#000080" d="M859.9 790.4h.01"/><path stroke="#ff8600" d="M859.9 561.6h.01"/><path stroke="#fbf100" d="M859.8 637h.01"/><path stroke="#83ff73" d="M859.5 865.8h.01"/><path stroke="#000080" d="M860 767h.01M860.2 756.6h.01"/><path stroke="#0cf4eb" d="M859.9 657.8h.01"/><path stroke="#ff8600" d="M860.2 738.4h.01"/><path stroke="#000080" d="M860 715h.01"/><path stroke="#73ff83" d="M859.6 842.4h.01"/><path stroke="#800000" d="M860.2 553.8h.01"/><path stroke="#ffdb00" d="M859.9 772.2h.01"/><path stroke="#800000" d="M859.9 689h.01"/><path stroke="#000080" d="M859.9 839.8h.01M860.1 546h.01"/><path stroke="#800000" d="M860.1 647.4h.01M859.9 603.2h.01"/><path stroke="#00a4ff" d="M859.9 829.4h.01"/><path stroke="#ff8600" d="M860.1 696.8h.01"/><path stroke="#00d4ff" d="M859.5 720.2h.01"/><path stroke="#000080" d="M860.8 676h.01M860.6 585h.01"/><path stroke="#800000" d="M860.5 556.4h.01"/><path stroke="#fbf100" d="M860.5 660.4h.01"/><path stroke="#800000" d="M860.5 595.4h.01M860.6 733.2h.01"/><path stroke="#000080" d="M860.3 728h.01"/><path stroke="#0040ff" d="M860.7 787.8h.01"/><path stroke="#800000" d="M860.6 769.6h.01M860.9 644.8h.01M860.7 876.2h.01M860.9 566.8h.01"/><path stroke="#000080" d="M860.3 761.8h.01"/><path stroke="#ffdb00" d="M860.9 886.6h.01"/><path stroke="#800000" d="M860.8 611h.01M860.3 559h.01M860.6 616.2h.01"/><path stroke="#73ff83" d="M860.8 795.6h.01"/><path stroke="#ff7300" d="M860.8 884h.01"/><path stroke="#00d4ff" d="M860.6 806h.01"/><path stroke="#0010ff" d="M860.9 678.6h.01"/><path stroke="#0cf4eb" d="M860.3 665.6h.01"/><path stroke="#800000" d="M860.8 618.8h.01"/><path stroke="#0cf4eb" d="M860.6 691.6h.01"/><path stroke="#ff7300" d="M861 592.8h.01"/><path stroke="#800000" d="M860.7 800.8h.01"/><path stroke="#000080" d="M860.8 824.2h.01"/><path stroke="#00a4ff" d="M860.3 608.4h.01M860.8 704.6h.01"/><path stroke="#000080" d="M860.9 754h.01"/><path stroke="#800000" d="M860.7 624h.01M860.6 629.2h.01"/><path stroke="#000080" d="M860.9 600.6h.01"/><path stroke="#0040ff" d="M860.5 668.2h.01"/><path stroke="#000080" d="M860.6 634.4h.01"/><path stroke="#83ff73" d="M860.4 582.4h.01"/><path stroke="#800000" d="M860.9 748.8h.01"/><path stroke="#0cf4eb" d="M860.6 621.4h.01"/><path stroke="#00d4ff" d="M863 661.6h.01M862.9 754.3h.01M863.2 574.9h.01"/><path stroke="#800000" d="M862.9 744.9h.01"/><path stroke="#ff8600" d="M862.8 611.4h.01"/><path stroke="#000080" d="M863.2 660.7h.01"/><path stroke="#0cf4eb" d="M862.8 697.3h.01"/><path stroke="#00a4ff" d="M863.1 576.6h.01"/><path stroke="#000080" d="M862.9 719.4h.01M863.1 887.7h.01"/><path stroke="#73ff83" d="M863.2 657.3h.01"/><path stroke="#800000" d="M862.9 805.3h.01"/><path stroke="#000080" d="M862.9 812.1h.01"/><path stroke="#73ff83" d="M862.8 786.6h.01"/><path stroke="#000080" d="M863 837.6h.01"/><path stroke="#800000" d="M862.9 852h.01M863.1 830.8h.01"/><path stroke="#00a4ff" d="M862.9 802.7h.01"/><path stroke="#fbf100" d="M863 789.1h.01"/><path stroke="#000080" d="M863.2 577.4h.01M863 689.6h.01"/><path stroke="#ff7300" d="M863.2 615.7h.01"/><path stroke="#0040ff" d="M863.2 875h.01"/><path stroke="#ffdb00" d="M863.2 642.9h.01"/><path stroke="#00d4ff" d="M862.9 595.3h.01"/><path stroke="#ff1300" d="M863.1 877.5h.01"/><path stroke="#800000" d="M862.8 810.4h.01"/><path stroke="#ff8600" d="M862.9 585.1h.01"/><path stroke="#fbf100" d="M863.2 844.4h.01"/><path stroke="#00a4ff" d="M862.8 855.4h.01"/><path stroke="#00d4ff" d="M863 725.4h.01M862.8 626.7h.01"/><path stroke="#000080" d="M862.8 818.9h.01"/><path stroke="#0040ff" d="M862.8 772.1h.01"/><path stroke="#800000" d="M862.9 876.7h.01"/><path stroke="#73ff83" d="M863.1 886.9h.01"/><path stroke="#0010ff" d="M863 751.7h.01"/><path stroke="#000080" d="M863.2 813.8h.01"/><path stroke="#00a4ff" d="M863 778.9h.01"/><path stroke="#ffdb00" d="M862.9 585.9h.01"/><path stroke="#800000" d="M863 579.1h.01"/><path stroke="#000080" d="M862.9 587.6h.01"/><path stroke="#800000" d="M863.1 701.5h.01"/><path stroke="#0040ff" d="M862.9 718.6h.01"/><path stroke="#000080" d="M863 631h.01"/><path stroke="#00d4ff" d="M862.9 708.4h.01"/><path stroke="#000080" d="M863 822.3h.01M863.2 761.9h.01"/><path stroke="#ffdb00" d="M863 709.2h.01"/><path stroke="#000080" d="M863 722.8h.01"/><path stroke="#83ff73" d="M863.1 607.2h.01"/><path stroke="#800000" d="M862.9 636.9h.01"/><path stroke="#000080" d="M863.1 832.5h.01"/><path stroke="#00d4ff" d="M862.9 856.3h.01"/><path stroke="#ffdb00" d="M863 707.5h.01"/><path stroke="#800000" d="M863.1 724.5h.01"/><path stroke="#0010ff" d="M863.1 777.2h.01"/><path stroke="#73ff83" d="M862.9 591h.01"/><path stroke="#000080" d="M863.1 774.7h.01"/><path stroke="#800000" d="M863.2 812.9h.01"/><path stroke="#83ff73" d="M863 871.6h.01"/><path stroke="#00d4ff" d="M863.2 693.9h.01"/><path stroke="#73ff83" d="M863 762.8h.01"/><path stroke="#000080" d="M863 549.4h.01"/><path stroke="#ff1300" d="M863.1 818h.01"/><path stroke="#fbf100" d="M863.2 819.7h.01"/><path stroke="#000080" d="M863 752.6h.01M863 759.4h.01"/><path stroke="#ffdb00" d="M863.1 765.3h.01M863.1 671.8h.01"/><path stroke="#800000" d="M863 801h.01"/><path stroke="#83ff73" d="M862.9 581.7h.01"/><path stroke="#000080" d="M863 591.9h.01"/><path stroke="#ffdb00" d="M863.2 687.1h.01"/><path stroke="#73ff83" d="M862.8 831.6h.01"/><path stroke="#000080" d="M862.8 692.2h.01"/><path stroke="#800000" d="M862.8 731.3h.01"/><path stroke="#000080" d="M863 621.6h.01"/><path stroke="#0cf4eb" d="M863.1 782.3h.01"/><path stroke="#800000" d="M863.1 642h.01"/><path stroke="#ff1300" d="M862.8 839.3h.01"/><path stroke="#000080" d="M863.2 551.1h.01M863 675.2h.01"/><path stroke="#ff7300" d="M863.2 806.1h.01"/><path stroke="#800000" d="M863.1 619.9h.01M863.1 673.5h.01M863 623.3h.01"/><path stroke="#0040ff" d="M863.2 550.2h.01"/><path stroke="#800000" d="M863.1 778.1h.01"/><path stroke="#0cf4eb" d="M863.1 647.1h.01"/><path stroke="#800000" d="M862.9 558.7h.01"/><path stroke="#000080" d="M862.8 799.3h.01"/><path stroke="#ff7300" d="M863.2 824.8h.01"/><path stroke="#800000" d="M863 790.8h.01"/><path stroke="#00a4ff" d="M862.9 886h.01"/><path stroke="#000080" d="M863.2 553.6h.01"/><path stroke="#800000" d="M863 739.8h.01"/><path stroke="#000080" d="M863 807.8h.01"/><path stroke="#83ff73" d="M863 564.7h.01"/><path stroke="#800000" d="M863.2 658.2h.01"/><path stroke="#00d4ff" d="M863.1 702.4h.01"/><path stroke="#ff8600" d="M862.9 574h.01"/><path stroke="#83ff73" d="M863 827.4h.01"/><path stroke="#ff1300" d="M863.1 720.3h.01"/><path stroke="#800000" d="M863.2 821.4h.01"/><path stroke="#0010ff" d="M863 721.1h.01"/><path stroke="#00a4ff" d="M863.2 880.9h.01"/><path stroke="#000080" d="M863 755.1h.01"/><path stroke="#0010ff" d="M863.2 693h.01"/><path stroke="#ff7300" d="M863 578.3h.01"/><path stroke="#000080" d="M862.8 632.7h.01"/><path stroke="#ff1300" d="M862.9 687.9h.01"/><path stroke="#800000" d="M863.2 858h.01"/><path stroke="#ff1300" d="M863.1 869.9h.01"/><path stroke="#800000" d="M863 614.8h.01"/><path stroke="#000080" d="M863.1 763.6h.01"/><path stroke="#ff1300" d="M862.9 863.9h.01"/><path stroke="#000080" d="M863.2 696.4h.01"/><path stroke="#800000" d="M863.1 766.2h.01"/><path stroke="#83ff73" d="M862.9 716h.01"/><path stroke="#800000" d="M863 677.7h.01"/><path stroke="#fbf100" d="M862.9 646.3h.01"/><path stroke="#000080" d="M863 682.8h.01"/><path stroke="#0040ff" d="M863.1 773h.01"/><path stroke="#800000" d="M863 761.1h.01M863 873.3h.01"/><path stroke="#ff8600" d="M863.1 835h.01"/><path stroke="#800000" d="M863.2 866.5h.01M863.1 797.6h.01"/><path stroke="#0cf4eb" d="M863 841.8h.01"/><path stroke="#800000" d="M863.2 561.3h.01"/><path stroke="#ffdb00" d="M863.2 717.7h.01M863.1 648h.01"/><path stroke="#800000" d="M862.9 602.9h.01M863 575.7h.01"/><path stroke="#000080" d="M863.1 691.3h.01"/><path stroke="#800000" d="M863.1 571.5h.01"/><path stroke="#00d4ff" d="M863.2 592.7h.01"/><path stroke="#800000" d="M863.1 732.2h.01"/><path stroke="#ffdb00" d="M863.1 629.3h.01"/><path stroke="#ff7300" d="M863.1 878.4h.01"/><path stroke="#800000" d="M863 735.6h.01"/><path stroke="#000080" d="M863.1 659.9h.01"/><path stroke="#800000" d="M863.1 694.7h.01M862.8 557.9h.01M863 834.2h.01"/><path stroke="#000080" d="M863 780.6h.01"/><path stroke="#83ff73" d="M862.9 567.2h.01"/><path stroke="#73ff83" d="M863.1 853.7h.01"/><path stroke="#800000" d="M863.2 874.1h.01"/><path stroke="#000080" d="M863 644.6h.01"/><path stroke="#fbf100" d="M862.9 848.6h.01"/><path stroke="#83ff73" d="M863.2 704.9h.01M863.2 609.7h.01"/><path stroke="#800000" d="M862.8 635.2h.01M863.1 703.2h.01"/><path stroke="#000080" d="M863.2 670.9h.01"/><path stroke="#800000" d="M863 741.5h.01"/><path stroke="#fbf100" d="M863.1 620.8h.01"/><path stroke="#00d4ff" d="M863.2 686.2h.01"/><path stroke="#800000" d="M862.8 566.4h.01"/><path stroke="#000080" d="M863.2 865.6h.01M863.2 845.2h.01"/><path stroke="#ff8600" d="M863 676h.01"/><path stroke="#ff7300" d="M862.9 861.4h.01"/><path stroke="#0010ff" d="M862.9 808.7h.01"/><path stroke="#83ff73" d="M863.1 750h.01"/><path stroke="#fbf100" d="M863 859.7h.01"/><path stroke="#800000" d="M863 748.3h.01"/><path stroke="#ff1300" d="M863.2 851.2h.01"/><path stroke="#800000" d="M863.1 882.6h.01M863.1 586.8h.01M863 870.7h.01"/><path stroke="#000080" d="M863 589.3h.01"/><path stroke="#ff1300" d="M863.1 663.3h.01"/><path stroke="#000080" d="M862.8 736.4h.01"/><path stroke="#800000" d="M863 688.8h.01M863.1 618.2h.01M862.8 803.6h.01"/><path stroke="#73ff83" d="M863.1 835.9h.01"/><path stroke="#fbf100" d="M863.1 745.8h.01"/><path stroke="#800000" d="M863 654.8h.01"/><path stroke="#fbf100" d="M863.1 643.7h.01"/><path stroke="#00a4ff" d="M862.8 841h.01"/><path stroke="#000080" d="M863 568.1h.01"/><path stroke="#800000" d="M863 653.9h.01M862.8 584.2h.01"/><path stroke="#000080" d="M862.9 733h.01M862.9 716.9h.01"/><path stroke="#00d4ff" d="M862.9 829.9h.01"/><path stroke="#fbf100" d="M863 596.1h.01"/><path stroke="#00d4ff" d="M863 784h.01"/><path stroke="#00a4ff" d="M863 850.3h.01"/><path stroke="#000080" d="M863.2 699.8h.01M862.9 757.7h.01"/><path stroke="#ff8600" d="M862.9 631.8h.01"/><path stroke="#ffdb00" d="M863.1 640.3h.01"/><path stroke="#00d4ff" d="M863.1 551.9h.01"/><path stroke="#800000" d="M863.1 601.2h.01"/><path stroke="#000080" d="M863.1 572.3h.01"/><path stroke="#0cf4eb" d="M863 676.9h.01"/><path stroke="#800000" d="M863.2 600.4h.01M863.1 604.6h.01"/><path stroke="#ff8600" d="M863 862.2h.01"/><path stroke="#800000" d="M863 563h.01M863.1 814.6h.01M863.2 630.1h.01"/><path stroke="#ff8600" d="M862.9 597.8h.01"/><path stroke="#800000" d="M863.2 599.5h.01"/><path stroke="#000080" d="M863.1 678.6h.01M863.2 570.6h.01"/><path stroke="#800000" d="M863.2 705.8h.01"/><path stroke="#fbf100" d="M863.2 734.7h.01"/><path stroke="#800000" d="M863 852.9h.01"/><path stroke="#000080" d="M863.1 712.6h.01"/><path stroke="#800000" d="M863.1 633.5h.01"/><path stroke="#fbf100" d="M862.8 674.3h.01"/><path stroke="#0040ff" d="M862.9 710.1h.01"/><path stroke="#0010ff" d="M863.2 580h.01"/><path stroke="#ff1300" d="M863.1 562.1h.01"/><path stroke="#ff8600" d="M863 680.3h.01"/><path stroke="#800000" d="M863.4 649.7h.01M863.3 710.9h.01"/><path stroke="#000080" d="M863.5 559.6h.01"/><path stroke="#800000" d="M863.4 794.2h.01M863.4 771.3h.01"/><path stroke="#000080" d="M863.4 659h.01"/><path stroke="#800000" d="M863.5 883.5h.01"/><path stroke="#ffdb00" d="M863.3 605.5h.01"/><path stroke="#000080" d="M863.5 698.1h.01M863.5 665.8h.01"/><path stroke="#800000" d="M863.3 548.5h.01"/><path stroke="#ff1300" d="M863.4 785.7h.01"/><path stroke="#000080" d="M863.4 760.2h.01"/><path stroke="#83ff73" d="M863.5 685.4h.01"/><path stroke="#800000" d="M863.3 836.7h.01"/><path stroke="#ff8600" d="M863.4 641.2h.01M863.5 637.8h.01"/><path stroke="#83ff73" d="M863.5 767h.01"/><path stroke="#73ff83" d="M864 702.9h.01"/><path stroke="#00d4ff" d="M863.4 653.1h.01"/><path stroke="#000080" d="M863.3 610.6h.01M863.4 842.7h.01"/><path stroke="#800000" d="M863.3 727.1h.01"/><path stroke="#000080" d="M863.3 554.5h.01"/><path stroke="#0010ff" d="M863.6 846.1h.01"/><path stroke="#0040ff" d="M863.5 809.5h.01M863.3 738.1h.01"/><path stroke="#83ff73" d="M863.6 775.5h.01"/><path stroke="#000080" d="M863.5 728.8h.01"/><path stroke="#800000" d="M863.5 781.5h.01M863.4 854.6h.01M863.5 758.5h.01M863.4 798.5h.01M863.6 828.2h.01"/><path stroke="#ff7300" d="M863.3 683.7h.01"/><path stroke="#800000" d="M863.4 888.6h.01M863.5 824h.01"/><path stroke="#00a4ff" d="M863.5 568.9h.01"/><path stroke="#800000" d="M863.3 560.4h.01M863.5 879.2h.01M863.3 614h.01"/><path stroke="#0040ff" d="M863.6 884.3h.01"/><path stroke="#0010ff" d="M863.4 838.4h.01"/><path stroke="#00a4ff" d="M863.4 638.6h.01"/><path stroke="#00d4ff" d="M863.5 650.5h.01"/><path stroke="#800000" d="M863.6 795.9h.01"/><path stroke="#0040ff" d="M863.4 672.6h.01"/><path stroke="#800000" d="M863.6 875.8h.01"/><path stroke="#0040ff" d="M863.6 793.4h.01"/><path stroke="#0010ff" d="M863.4 700.7h.01"/><path stroke="#ff7300" d="M863.5 583.4h.01"/><path stroke="#800000" d="M863.4 768.7h.01"/><path stroke="#000080" d="M863.3 869h.01"/><path stroke="#83ff73" d="M863.5 556.2h.01"/><path stroke="#000080" d="M863.4 847.8h.01"/><path stroke="#800000" d="M863.5 811.2h.01M863.6 767.9h.01M863.4 737.3h.01"/><path stroke="#000080" d="M863.4 580.8h.01M863.3 670.1h.01"/><path stroke="#ff1300" d="M863.3 788.3h.01"/><path stroke="#ff8600" d="M863.6 622.5h.01"/><path stroke="#800000" d="M863.4 690.5h.01"/><path stroke="#ff7300" d="M863.4 608.9h.01"/><path stroke="#000080" d="M863.4 885.2h.01M863.5 756.8h.01"/><path stroke="#ff7300" d="M863.3 849.5h.01"/><path stroke="#800000" d="M863.3 764.5h.01M863.6 787.4h.01M863.4 864.8h.01"/><path stroke="#0010ff" d="M863.4 825.7h.01"/><path stroke="#ff1300" d="M863.3 776.4h.01"/><path stroke="#800000" d="M863.5 816.3h.01"/><path stroke="#ff7300" d="M863.3 730.5h.01"/><path stroke="#000080" d="M863.4 668.4h.01M863.4 664.1h.01"/><path stroke="#73ff83" d="M863.4 872.4h.01"/><path stroke="#ff7300" d="M863.3 645.4h.01"/><path stroke="#000080" d="M863.5 740.7h.01"/><path stroke="#0040ff" d="M863.5 699h.01"/><path stroke="#800000" d="M863.3 727.9h.01"/><path stroke="#73ff83" d="M863.6 593.6h.01M864.4 791.7h.01M864.8 791.2h.01"/><path stroke="#800000" d="M863.3 796.8h.01"/><path stroke="#fbf100" d="M863.6 588.5h.01"/><path stroke="#ff7300" d="M863.6 863.1h.01"/><path stroke="#000080" d="M863.3 843.5h.01"/><path stroke="#0010ff" d="M863.5 801.9h.01"/><path stroke="#0cf4eb" d="M863.4 665h.01"/><path stroke="#00d4ff" d="M863.4 648.8h.01"/><path stroke="#800000" d="M863.5 598.7h.01"/><path stroke="#ff1300" d="M863.5 711.8h.01"/><path stroke="#73ff83" d="M863.5 792.5h.01"/><path stroke="#ffdb00" d="M863.5 770.4h.01"/><path stroke="#0cf4eb" d="M863.5 565.5h.01"/><path stroke="#83ff73" d="M863.3 704.1h.01"/><path stroke="#800000" d="M863.3 880.1h.01"/><path stroke="#ff1300" d="M863.5 546.9h.01"/><path stroke="#000080" d="M863.5 617.4h.01"/><path stroke="#ffdb00" d="M863.4 634.4h.01"/><path stroke="#800000" d="M863.3 750.9h.01"/><path stroke="#000080" d="M863.4 769.6h.01"/><path stroke="#0040ff" d="M863.3 817.2h.01"/><path stroke="#000080" d="M863.6 722h.01"/><path stroke="#83ff73" d="M863.6 569.8h.01"/><path stroke="#800000" d="M863.3 557h.01M863.3 791.7h.01"/><path stroke="#fbf100" d="M863.3 656.5h.01"/><path stroke="#800000" d="M863.5 753.4h.01"/><path stroke="#73ff83" d="M863.4 613.1h.01"/><path stroke="#000080" d="M863.4 860.5h.01M863.4 594.4h.01M863.4 829.1h.01"/><path stroke="#00d4ff" d="M863.4 713.5h.01"/><path stroke="#83ff73" d="M863.3 742.4h.01"/><path stroke="#800000" d="M863.4 652.2h.01"/><path stroke="#000080" d="M863.6 733.9h.01"/><path stroke="#0cf4eb" d="M863.4 867.3h.01"/><path stroke="#ffdb00" d="M863.5 739h.01"/><path stroke="#000080" d="M863.4 651.4h.01"/><path stroke="#0010ff" d="M863.4 603.8h.01"/><path stroke="#800000" d="M863.3 625h.01M863.3 807h.01"/><path stroke="#000080" d="M863.4 667.5h.01"/><path stroke="#73ff83" d="M863.5 868.2h.01"/><path stroke="#00d4ff" d="M863.5 655.6h.01"/><path stroke="#800000" d="M863.6 784.9h.01"/><path stroke="#73ff83" d="M863.3 555.3h.01"/><path stroke="#800000" d="M863.5 563.8h.01"/><path stroke="#83ff73" d="M863.3 790h.01"/><path stroke="#0040ff" d="M863.6 715.2h.01"/><path stroke="#83ff73" d="M863.4 744.1h.01"/><path stroke="#0cf4eb" d="M863.4 815.5h.01"/><path stroke="#800000" d="M863.3 746.6h.01"/><path stroke="#000080" d="M863.6 666.7h.01"/><path stroke="#800000" d="M863.5 625.9h.01"/><path stroke="#0040ff" d="M863.3 747.5h.01"/><path stroke="#73ff83" d="M863.6 582.5h.01"/><path stroke="#0cf4eb" d="M863.4 800.2h.01"/><path stroke="#800000" d="M863.4 783.2h.01"/><path stroke="#fbf100" d="M863.5 639.5h.01"/><path stroke="#00a4ff" d="M863.4 608h.01"/><path stroke="#0cf4eb" d="M863.3 857.1h.01"/><path stroke="#00d4ff" d="M863.4 619.1h.01"/><path stroke="#800000" d="M863.3 779.8h.01"/><path stroke="#000080" d="M863.4 684.5h.01"/><path stroke="#00d4ff" d="M863.6 636.1h.01"/><path stroke="#000080" d="M863.4 682h.01"/><path stroke="#800000" d="M863.3 846.9h.01"/><path stroke="#6aff8d" d="M863.5 724.6h.01"/><path stroke="#73ff83" d="M863.5 826.5h.01"/><path stroke="#83ff73" d="M863.6 552.8h.01"/><path stroke="#000080" d="M863.4 679.4h.01"/><path stroke="#0cf4eb" d="M863.3 795.1h.01"/><path stroke="#800000" d="M863.6 804.4h.01"/><path stroke="#ffdb00" d="M863.6 723.7h.01"/><path stroke="#800000" d="M863.5 547.7h.01"/><path stroke="#0cf4eb" d="M863.3 706.6h.01"/><path stroke="#800000" d="M863.5 756h.01"/><path stroke="#ffdb00" d="M863.6 773.8h.01"/><path stroke="#ff1300" d="M863.3 616.5h.01"/><path stroke="#800000" d="M863.3 695.6h.01"/><path stroke="#0010ff" d="M863.5 606.3h.01"/><path stroke="#ffdb00" d="M863.6 681.1h.01"/><path stroke="#000080" d="M863.4 729.6h.01"/><path stroke="#00a4ff" d="M863.6 590.2h.01"/><path stroke="#800000" d="M863.4 573.2h.01"/><path stroke="#ff8600" d="M863.5 602.1h.01"/><path stroke="#83ff73" d="M863.4 743.2h.01"/><path stroke="#00a4ff" d="M863.4 624.2h.01"/><path stroke="#000080" d="M863.4 627.6h.01"/><path stroke="#800000" d="M863.5 662.4h.01"/><path stroke="#ff8600" d="M863.4 628.4h.01"/><path stroke="#73ff83" d="M863.5 820.6h.01"/><path stroke="#ff8600" d="M863.3 597h.01"/><path stroke="#800000" d="M863.3 840.1h.01"/><path stroke="#000080" d="M863.4 726.2h.01"/><path stroke="#0010ff" d="M863.4 546h.01"/><path stroke="#fbf100" d="M863.4 669.2h.01"/><path stroke="#000080" d="M863.4 833.3h.01"/><path stroke="#ff1300" d="M863.6 749.2h.01"/><path stroke="#ff8600" d="M863.4 714.3h.01"/><path stroke="#00a4ff" d="M863.3 858.8h.01"/><path stroke="#fbf100" d="M863.3 612.3h.01"/><path stroke="#800000" d="M863.5 823.1h.01"/><path stroke="#0010ff" d="M863.3 881.8h.01"/><path stroke="#3cffba" d="M865 729.1h.01"/><path stroke="#73ff83" d="M865.4 739.1h.01M865.6 855.4h.01"/><path stroke="#6aff8d" d="M866.1 754.8h.01M866.5 754.4h.01"/><path stroke="#7aff7d" d="M867.5 705.9h.01"/><path stroke="#800000" d="M870.3 565.3h.01M870.4 806.3h.01"/><path stroke="#000080" d="M870.7 825.3h.01M870.3 794.3h.01"/><path stroke="#800000" d="M870.5 878.3h.01"/><path stroke="#ff8600" d="M870.1 701.3h.01"/><path stroke="#000080" d="M870.6 641.3h.01M870.6 561.3h.01"/><path stroke="#ff1300" d="M870.3 869.3h.01M870.4 742.3h.01"/><path stroke="#000080" d="M870.7 624.3h.01"/><path stroke="#00d4ff" d="M870.4 818.3h.01M870.6 639.3h.01"/><path stroke="#73ff83" d="M870.3 737.3h.01"/><path stroke="#800000" d="M870.1 816.3h.01M870.1 884.3h.01"/><path stroke="#ff7300" d="M870.6 682.3h.01"/><path stroke="#ff8600" d="M870.2 611.3h.01"/><path stroke="#000080" d="M870.5 558.3h.01M870.2 684.3h.01"/><path stroke="#fbf100" d="M870.1 765.3h.01"/><path stroke="#800000" d="M870.1 859.3h.01M870.4 778.3h.01M870.5 725.3h.01"/><path stroke="#0cf4eb" d="M870.5 760.3h.01"/><path stroke="#ffdb00" d="M870.2 784.3h.01"/><path stroke="#800000" d="M870.4 840.3h.01"/><path stroke="#73ff83" d="M870.7 601.3h.01"/><path stroke="#ff7300" d="M870.1 612.3h.01"/><path stroke="#000080" d="M870.1 830.3h.01"/><path stroke="#73ff83" d="M870.7 853.3h.01"/><path stroke="#800000" d="M870.6 593.3h.01"/><path stroke="#00d4ff" d="M870.1 663.3h.01"/><path stroke="#ff1300" d="M870.3 827.3h.01"/><path stroke="#0040ff" d="M870.4 609.3h.01"/><path stroke="#800000" d="M870.4 772.3h.01"/><path stroke="#00d4ff" d="M870.2 719.3h.01"/><path stroke="#000080" d="M870.7 700.3h.01"/><path stroke="#83ff73" d="M870.7 777.3h.01"/><path stroke="#000080" d="M870.1 795.3h.01"/><path stroke="#ff7300" d="M870.3 770.3h.01"/><path stroke="#000080" d="M870.6 854.3h.01M870.1 714.3h.01"/><path stroke="#800000" d="M870.6 670.3h.01"/><path stroke="#0040ff" d="M870.7 836.3h.01"/><path stroke="#800000" d="M870.6 791.3h.01"/><path stroke="#000080" d="M870.5 877.3h.01"/><path stroke="#800000" d="M870.7 598.3h.01"/><path stroke="#ff7300" d="M870.3 626.3h.01"/><path stroke="#000080" d="M870.4 623.3h.01"/><path stroke="#fbf100" d="M870.3 752.3h.01"/><path stroke="#0040ff" d="M870.1 698.3h.01"/><path stroke="#000080" d="M870.3 696.3h.01"/><path stroke="#ffdb00" d="M870.7 630.3h.01M870.2 654.3h.01"/><path stroke="#000080" d="M870.5 667.3h.01M870.5 804.3h.01"/><path stroke="#800000" d="M870.2 879.3h.01"/><path stroke="#00d4ff" d="M870.1 566.3h.01"/><path stroke="#000080" d="M870.3 779.3h.01M870.2 599.3h.01M870.7 803.3h.01M870.5 805.3h.01"/><path stroke="#ff8600" d="M870.3 768.3h.01"/><path stroke="#83ff73" d="M870.4 722.3h.01"/><path stroke="#800000" d="M870.5 887.3h.01M870.7 801.3h.01"/><path stroke="#000080" d="M870.6 582.3h.01"/><path stroke="#800000" d="M870.7 807.3h.01"/><path stroke="#0cf4eb" d="M870.5 863.3h.01"/><path stroke="#000080" d="M870.4 822.3h.01"/><path stroke="#800000" d="M870.2 653.3h.01"/><path stroke="#ffdb00" d="M870.1 559.3h.01"/><path stroke="#800000" d="M870.7 747.3h.01M870.3 860.3h.01"/><path stroke="#ffdb00" d="M870.6 589.3h.01"/><path stroke="#ff8600" d="M870.5 669.3h.01"/><path stroke="#800000" d="M870.5 841.3h.01"/><path stroke="#0040ff" d="M870.7 775.3h.01"/><path stroke="#00d4ff" d="M870.7 823.3h.01"/><path stroke="#0040ff" d="M870.5 673.3h.01M870.2 828.3h.01"/><path stroke="#000080" d="M870.2 608.3h.01"/><path stroke="#ff8600" d="M870.5 751.3h.01"/><path stroke="#800000" d="M870.4 799.3h.01"/><path stroke="#000080" d="M870.2 820.3h.01M870.6 758.3h.01"/><path stroke="#fbf100" d="M870.2 741.3h.01"/><path stroke="#000080" d="M870.5 681.3h.01M870.2 880.3h.01"/><path stroke="#800000" d="M870.3 883.3h.01"/><path stroke="#fbf100" d="M870.2 699.3h.01"/><path stroke="#800000" d="M870.7 690.3h.01"/><path stroke="#000080" d="M870.7 764.3h.01"/><path stroke="#00d4ff" d="M870.5 810.3h.01"/><path stroke="#00a4ff" d="M870.1 787.3h.01"/><path stroke="#000080" d="M870.3 776.3h.01"/><path stroke="#7aff7d" d="M870.3 791.5h.01M870.6 791h.01"/><path stroke="#ff1300" d="M870.7 621.3h.01"/><path stroke="#ffdb00" d="M870.5 576.3h.01"/><path stroke="#000080" d="M870.4 574.3h.01"/><path stroke="#800000" d="M870.7 708.3h.01"/><path stroke="#000080" d="M870.3 769.3h.01M870.6 749.3h.01"/><path stroke="#800000" d="M870.3 640.3h.01"/><path stroke="#000080" d="M870.1 563.3h.01"/><path stroke="#800000" d="M870.3 603.3h.01M870.5 788.3h.01M870.3 881.3h.01"/><path stroke="#000080" d="M870.7 767.3h.01"/><path stroke="#0cf4eb" d="M870.6 727.3h.01"/><path stroke="#800000" d="M870.2 851.3h.01"/><path stroke="#ff8600" d="M870.5 866.3h.01"/><path stroke="#000080" d="M870.6 591.3h.01"/><path stroke="#800000" d="M870.1 771.3h.01"/><path stroke="#fbf100" d="M870.4 754.3h.01"/><path stroke="#73ff83" d="M870.2 718.3h.01"/><path stroke="#ff8600" d="M870.5 874.3h.01"/><path stroke="#800000" d="M870.1 581.3h.01"/><path stroke="#000080" d="M870.4 666.3h.01"/><path stroke="#ff1300" d="M870.1 739.3h.01M870.3 734.3h.01"/><path stroke="#000080" d="M870.4 736.3h.01"/><path stroke="#800000" d="M870.4 762.3h.01M870.2 730.3h.01"/><path stroke="#0cf4eb" d="M870.3 757.3h.01"/><path stroke="#800000" d="M870.1 824.3h.01M870.3 782.3h.01"/><path stroke="#000080" d="M870.4 652.3h.01"/><path stroke="#ff7300" d="M870.4 686.3h.01"/><path stroke="#83ff73" d="M870.7 731.3h.01"/><path stroke="#800000" d="M870.2 644.3h.01"/><path stroke="#000080" d="M870.6 885.3h.01"/><path stroke="#ff7300" d="M870.2 783.3h.01"/><path stroke="#000080" d="M870.7 753.3h.01M870.5 629.3h.01"/><path stroke="#800000" d="M870.1 826.3h.01"/><path stroke="#ff7300" d="M870.6 715.3h.01"/><path stroke="#800000" d="M870.6 798.3h.01"/><path stroke="#83ff73" d="M870.4 604.3h.01"/><path stroke="#73ff83" d="M870.3 687.3h.01"/><path stroke="#00d4ff" d="M870.5 817.3h.01"/><path stroke="#0040ff" d="M870.6 815.3h.01"/><path stroke="#000080" d="M870.1 873.3h.01M870.2 844.3h.01"/><path stroke="#83ff73" d="M870.7 832.3h.01"/><path stroke="#800000" d="M870.2 627.3h.01M870.5 697.3h.01M870.4 733.3h.01"/><path stroke="#0010ff" d="M870.3 549.3h.01"/><path stroke="#00d4ff" d="M870.2 838.3h.01"/><path stroke="#800000" d="M870.7 661.3h.01"/><path stroke="#0010ff" d="M870.5 679.3h.01"/><path stroke="#000080" d="M870.2 793.3h.01"/><path stroke="#800000" d="M870.4 852.3h.01"/><path stroke="#00a4ff" d="M870.5 691.3h.01"/><path stroke="#800000" d="M870.7 662.3h.01"/><path stroke="#0cf4eb" d="M870.4 756.3h.01"/><path stroke="#800000" d="M870.2 856.3h.01M870.7 855.3h.01"/><path stroke="#fbf100" d="M870.1 668.3h.01"/><path stroke="#ff8600" d="M870.2 849.3h.01"/><path stroke="#000080" d="M870.1 619.3h.01"/><path stroke="#0040ff" d="M870.5 773.3h.01"/><path stroke="#800000" d="M870.3 808.3h.01"/><path stroke="#ffdb00" d="M870.7 552.3h.01M870.5 724.3h.01"/><path stroke="#800000" d="M870.1 674.3h.01"/><path stroke="#000080" d="M870.5 721.3h.01"/><path stroke="#800000" d="M870.7 744.3h.01"/><path stroke="#000080" d="M870.3 560.3h.01"/><path stroke="#0cf4eb" d="M870.6 685.3h.01"/><path stroke="#ff1300" d="M870.1 607.3h.01"/><path stroke="#800000" d="M870.5 594.3h.01"/><path stroke="#fbf100" d="M870.3 766.3h.01"/><path stroke="#ff7300" d="M870.5 743.3h.01"/><path stroke="#00a4ff" d="M870.2 728.3h.01M870.5 846.3h.01"/><path stroke="#800000" d="M870.6 562.3h.01"/><path stroke="#0010ff" d="M870.2 831.3h.01"/><path stroke="#000080" d="M870.7 678.3h.01"/><path stroke="#800000" d="M870.5 748.3h.01"/><path stroke="#ffdb00" d="M870.3 689.3h.01"/><path stroke="#fbf100" d="M870.5 809.3h.01"/><path stroke="#800000" d="M870.7 683.3h.01"/><path stroke="#fbf100" d="M870.2 596.3h.01"/><path stroke="#800000" d="M870.2 882.3h.01"/><path stroke="#00d4ff" d="M870.2 732.3h.01M870.5 546.3h.01"/><path stroke="#fbf100" d="M870.2 592.3h.01"/><path stroke="#0010ff" d="M870.2 886.3h.01"/><path stroke="#000080" d="M870.7 717.3h.01"/><path stroke="#ff8600" d="M870.5 848.3h.01"/><path stroke="#73ff83" d="M870.3 643.3h.01"/><path stroke="#000080" d="M870.7 651.3h.01M870.3 834.3h.01"/><path stroke="#800000" d="M870.1 547.3h.01"/><path stroke="#ffdb00" d="M870.2 876.3h.01"/><path stroke="#800000" d="M870.6 872.3h.01M870.5 746.3h.01"/><path stroke="#73ff83" d="M870.3 610.3h.01"/><path stroke="#ff7300" d="M870.4 865.3h.01"/><path stroke="#800000" d="M870.6 847.3h.01"/><path stroke="#fbf100" d="M870.5 813.3h.01"/><path stroke="#800000" d="M870.5 716.3h.01"/><path stroke="#0cf4eb" d="M870.4 726.3h.01"/><path stroke="#ff7300" d="M870.2 616.3h.01"/><path stroke="#00d4ff" d="M870.7 790.3h.01"/><path stroke="#0cf4eb" d="M870.6 745.3h.01"/><path stroke="#00d4ff" d="M870.3 568.3h.01"/><path stroke="#000080" d="M870.5 672.3h.01"/><path stroke="#0cf4eb" d="M870.7 792.3h.01"/><path stroke="#fbf100" d="M870.5 564.3h.01"/><path stroke="#00a4ff" d="M870.5 796.3h.01"/><path stroke="#800000" d="M870.1 597.3h.01"/><path stroke="#0cf4eb" d="M870.1 709.3h.01"/><path stroke="#800000" d="M870.3 819.3h.01"/><path stroke="#000080" d="M870.3 845.3h.01"/><path stroke="#0010ff" d="M870.2 821.3h.01"/><path stroke="#800000" d="M870.7 600.3h.01M870.7 858.3h.01M870.5 750.3h.01M870.3 729.3h.01"/><path stroke="#000080" d="M870.2 693.3h.01M870.7 812.3h.01M870.6 688.3h.01"/><path stroke="#ffdb00" d="M870.5 864.3h.01"/><path stroke="#0cf4eb" d="M870.5 842.3h.01"/><path stroke="#800000" d="M870.7 579.3h.01"/><path stroke="#000080" d="M870.1 692.3h.01"/><path stroke="#73ff83" d="M870.3 650.3h.01"/><path stroke="#800000" d="M870.4 628.3h.01"/><path stroke="#fbf100" d="M870.1 857.3h.01"/><path stroke="#800000" d="M870.1 577.3h.01M870.3 740.3h.01"/><path stroke="#83ff73" d="M870.7 618.3h.01"/><path stroke="#000080" d="M870.1 676.3h.01"/><path stroke="#800000" d="M870.4 755.3h.01M870.3 835.3h.01"/><path stroke="#ff7300" d="M870.3 761.3h.01"/><path stroke="#800000" d="M870.6 738.3h.01"/><path stroke="#ffdb00" d="M870.3 797.3h.01"/><path stroke="#000080" d="M870.2 567.3h.01"/><path stroke="#00a4ff" d="M870.3 802.3h.01"/><path stroke="#0010ff" d="M870.3 780.3h.01"/><path stroke="#00a4ff" d="M870.5 631.3h.01"/><path stroke="#ff1300" d="M870.3 781.3h.01"/><path stroke="#800000" d="M870.1 861.3h.01M870.2 867.3h.01M870.6 785.3h.01M870.2 763.3h.01"/><path stroke="#000080" d="M870.3 786.3h.01"/><path stroke="#0040ff" d="M870.1 606.3h.01"/><path stroke="#000080" d="M870.2 870.3h.01"/><path stroke="#800000" d="M870.2 814.3h.01"/><path stroke="#0040ff" d="M870.3 583.3h.01"/><path stroke="#800000" d="M870.6 595.3h.01"/><path stroke="#000080" d="M870.1 637.3h.01"/><path stroke="#800000" d="M870.3 580.3h.01M870.6 578.3h.01"/><path stroke="#000080" d="M870.3 602.3h.01"/><path stroke="#ffdb00" d="M870.4 774.3h.01"/><path stroke="#00d4ff" d="M870.1 677.3h.01"/><path stroke="#000080" d="M870.1 811.3h.01M870.5 665.3h.01"/><path stroke="#ff7300" d="M870.3 613.3h.01"/><path stroke="#800000" d="M870.2 843.3h.01"/><path stroke="#00d4ff" d="M870.6 723.3h.01"/><path stroke="#ffdb00" d="M870.7 605.3h.01"/><path stroke="#ff8600" d="M870.6 622.3h.01"/><path stroke="#00a4ff" d="M870.5 839.3h.01"/><path stroke="#000080" d="M870.4 833.3h.01"/><path stroke="#00a4ff" d="M870.6 575.3h.01"/><path stroke="#0040ff" d="M870.2 646.3h.01"/><path stroke="#000080" d="M870.4 694.3h.01"/><path stroke="#73ff83" d="M870.6 664.3h.01"/><path stroke="#800000" d="M870.2 789.3h.01"/><path stroke="#000080" d="M870.4 675.3h.01"/><path stroke="#800000" d="M870.1 720.3h.01M870.2 648.3h.01"/><path stroke="#73ff83" d="M871.9 829.8h.01"/><path stroke="#3cffba" d="M872.5 838.1h.01"/><path stroke="#7aff7d" d="M872.5 740.6h.01M872.9 784.8h.01"/><path stroke="#73ff83" d="M874.6 792.9h.01"/><path stroke="#6aff8d" d="M874.6 804.4h.01"/><path stroke="#7aff7d" d="M876.2 855.4h.01"/><path stroke="#800000" d="M875.9 615.4h.01M876 807.8h.01M875.6 833.1h.01"/><path stroke="#3cffba" d="M876.5 765.9h.01"/><path stroke="#73ff83" d="M875.4 819h.01"/><path stroke="#000080" d="M875.9 752.5h.01"/><path stroke="#800000" d="M875.6 883.1h.01"/><path stroke="#83ff73" d="M877.5 782.1h.01"/><path stroke="#7aff7d" d="M877.2 735h.01"/><path stroke="#4dffaa" d="M876.5 835.5h.01M876.9 835h.01M877.8 770.7h.01M878.1 770.2h.01"/><path stroke="#83ff73" d="M879.1 731h.01"/><path stroke="#8dff6a" d="M879.4 620.2h.01"/><path stroke="#0010ff" d="M878.5 756.2h.01"/><path stroke="#000080" d="M878.8 573.5h.01"/><path stroke="#800000" d="M878.5 882.2h.01"/><path stroke="#000080" d="M878.5 717.5h.01"/><path stroke="#800000" d="M879.4 824.4h.01"/><path stroke="#000080" d="M878.8 854.4h.01"/><path stroke="#73ff83" d="M878.5 785.9h.01"/><path stroke="#000080" d="M878.5 862.9h.01"/><path stroke="#6aff8d" d="M879.5 710.8h.01"/><path stroke="#d60000" d="M878.5 738.8h.01"/><path stroke="#800000" d="M878.8 766.2h.01"/><path stroke="#83ff73" d="M880.6 781.5h.01"/><path stroke="#73ff83" d="M880.6 802.2h.01M880.4 763.5h.01"/><path stroke="#83ff73" d="M882.5 772.5h.01"/><path stroke="#7aff7d" d="M881.9 788.5h.01"/><path stroke="#43ffb4" d="M881.9 800h.01"/><path stroke="#83ff73" d="M881.2 676.9h.01"/><path stroke="#7aff7d" d="M883.5 830.4h.01"/><path stroke="#6aff8d" d="M883.8 843.1h.01"/><path stroke="#73ff83" d="M883.8 855.6h.01M883.5 783.8h.01"/><path stroke="#83ff73" d="M882.9 741.9h.01"/><path stroke="#6aff8d" d="M883.5 837.5h.01"/><path stroke="#73ff83" d="M883.8 790.6h.01M885 715.8h.01M885.4 715.4h.01M884.6 797.2h.01M885.2 767.1h.01"/><path stroke="#83ff73" d="M885 816.9h.01M886.9 782.9h.01"/><path stroke="#6aff8d" d="M886.6 825h.01"/><path stroke="#73ff83" d="M888.4 756.5h.01"/><path stroke="#7aff7d" d="M887.9 828.1h.01"/><path stroke="#83ff73" d="M888.4 796.5h.01"/><path stroke="#7aff7d" d="M889.6 759.6h.01"/><path stroke="#83ff73" d="M889.4 831.5h.01M889.8 746.2h.01"/><path stroke="#73ff83" d="M891.5 749.4h.01M890.4 751.5h.01"/><path stroke="#7aff7d" d="M892.9 728.8h.01"/><path stroke="#83ff73" d="M892.1 791.2h.01"/><path stroke="#33ffc4" d="M892.8 742h.01M893.1 741.5h.01"/><path stroke="#73ff83" d="M891.9 731.2h.01"/><path stroke="#7aff7d" d="M893.4 838.8h.01M894 822.8h.01"/><path stroke="#73ff83" d="M893.4 763.4h.01"/><path stroke="#7aff7d" d="M894.6 787.5h.01M893.1 701.7h.01"/><path stroke="#73ff83" d="M893.5 701.2h.01"/><path stroke="#7aff7d" d="M894.6 783.8h.01"/><path stroke="#73ff83" d="M895.6 739.8h.01"/><path stroke="#7aff7d" d="M895.9 855.6h.01"/><path stroke="#6aff8d" d="M895.4 724.4h.01M896 692.9h.01"/><path stroke="#73ff83" d="M897.2 795h.01"/><path stroke="#43ffb4" d="M896.5 711.2h.01M896.9 710.8h.01"/><path stroke="#6aff8d" d="M896.2 760.6h.01M897.9 697h.01"/><path stroke="#7aff7d" d="M898.9 732.2h.01M898.1 817.5h.01"/><path stroke="#83ff73" d="M900.4 800.4h.01M900.4 717.5h.01M900 807.8h.01"/><path stroke="#6aff8d" d="M901.2 817.5h.01"/><path stroke="#4dffaa" d="M900.9 789.8h.01"/><path stroke="#73ff83" d="M901.2 787.1h.01"/><path stroke="#7aff7d" d="M900.5 723.3h.01M900.9 722.9h.01"/><path stroke="#33ffc4" d="M903.8 777.8h.01"/><path stroke="#7aff7d" d="M903.1 755.4h.01M902.9 803.5h.01"/><path stroke="#83ff73" d="M903.8 793.8h.01"/><path stroke="#73ff83" d="M902.5 726.5h.01"/><path stroke="#83ff73" d="M902.5 736h.01"/><path stroke="#73ff83" d="M903.8 795.6h.01"/><path stroke="#7aff7d" d="M904.3 746.7h.01"/><path stroke="#83ff73" d="M904.6 746.2h.01"/><path stroke="#73ff83" d="M905.4 750h.01M906.2 716.5h.01M905.9 708.1h.01"/><path stroke="#7aff7d" d="M908.1 807.2h.01"/><path stroke="#73ff83" d="M907.8 780.7h.01"/><path stroke="#7aff7d" d="M908.1 780.2h.01"/><path stroke="#73ff83" d="M907.4 819.8h.01M907.8 819.4h.01"/><path stroke="#7aff7d" d="M907.2 855.6h.01"/><path stroke="#83ff73" d="M908.4 765.2h.01"/><path stroke="#6aff8d" d="M910.6 790.6h.01"/><path stroke="#73ff83" d="M910.6 749.4h.01M910 798.8h.01M910 712.5h.01"/><path stroke="#7aff7d" d="M912.5 688.5h.01M911.9 770h.01M911.9 855.6h.01"/><path stroke="#73ff83" d="M911.2 783.8h.01"/><path stroke="#001dff" d="M913.8 781.6h.01"/><path stroke="#ebff0c" d="M913.9 719.2h.01"/><path stroke="#800000" d="M914.1 886.4h.01"/><path stroke="#001dff" d="M914.2 798.4h.01"/><path stroke="#800000" d="M914.2 636.8h.01M914 690.4h.01"/><path stroke="#ff7a00" d="M913.8 565.6h.01"/><path stroke="#800000" d="M913.9 772h.01M914 589.6h.01M914.1 548h.01M914.2 819.2h.01M913.8 590.4h.01"/><path stroke="#000080" d="M914.1 580.8h.01"/><path stroke="#800000" d="M914.1 619.2h.01"/><path stroke="#ff8600" d="M913.9 586.4h.01"/><path stroke="#ff1300" d="M914 677.6h.01"/><path stroke="#800000" d="M913.9 598.4h.01M913.9 672h.01M914 668.8h.01"/><path stroke="#ff1300" d="M913.8 572h.01"/><path stroke="#800000" d="M913.9 668h.01M913.8 852.8h.01"/><path stroke="#ff8600" d="M913.8 724h.01"/><path stroke="#8dff6a" d="M913.9 591.2h.01"/><path stroke="#000080" d="M913.8 691.2h.01"/><path stroke="#7aff7d" d="M913.8 570.4h.01"/><path stroke="#6aff8d" d="M913.9 806.4h.01"/><path stroke="#ffe600" d="M913.8 782.4h.01"/><path stroke="#800000" d="M914.1 787.2h.01"/><path stroke="#ebff0c" d="M913.9 876.8h.01"/><path stroke="#800000" d="M913.8 672.8h.01"/><path stroke="#001dff" d="M913.8 547.2h.01"/><path stroke="#800000" d="M913.9 656.8h.01M914.2 606.4h.01M914 696.8h.01"/><path stroke="#000080" d="M914 748h.01"/><path stroke="#ff8600" d="M913.8 848.8h.01"/><path stroke="#800000" d="M914.1 676.8h.01M914.2 874.4h.01M913.8 674.4h.01M913.9 797.6h.01"/><path stroke="#ffdb00" d="M914.2 792.8h.01"/><path stroke="#800000" d="M914.2 709.6h.01"/><path stroke="#73ff83" d="M913.8 684h.01"/><path stroke="#800000" d="M913.9 592.8h.01"/><path stroke="#8dff6a" d="M913.8 866.4h.01"/><path stroke="#800000" d="M914.1 628.8h.01"/><path stroke="#000080" d="M914 647.2h.01"/><path stroke="#ebff0c" d="M913.8 643.2h.01"/><path stroke="#800000" d="M914 783.2h.01"/><path stroke="#6aff8d" d="M913.9 660h.01M914 837.6h.01"/><path stroke="#ebff0c" d="M914 636h.01"/><path stroke="#7aff7d" d="M913.8 833.6h.01"/><path stroke="#800000" d="M914 587.2h.01M914 864.8h.01M914 608.8h.01"/><path stroke="#ff7a00" d="M914.1 686.4h.01"/><path stroke="#800000" d="M914 688h.01M913.8 852h.01M914 776h.01M913.8 764.8h.01"/><path stroke="#000080" d="M914.2 705.6h.01"/><path stroke="#7aff7d" d="M914 744h.01"/><path stroke="#800000" d="M913.9 800h.01"/><path stroke="#ffe600" d="M914 769.6h.01"/><path stroke="#800000" d="M913.8 732h.01"/><path stroke="#ffdb00" d="M913.8 770.4h.01"/><path stroke="#800000" d="M913.8 755.2h.01M914.1 595.2h.01"/><path stroke="#ebff0c" d="M914 859.2h.01"/><path stroke="#800000" d="M914.2 776.8h.01M914.1 670.4h.01M914.1 548.8h.01M914.2 682.4h.01"/><path stroke="#ebff0c" d="M913.8 675.2h.01M913.8 554.4h.01"/><path stroke="#7aff7d" d="M914.1 621.6h.01"/><path stroke="#800000" d="M914.1 560h.01M913.9 622.4h.01"/><path stroke="#ff7a00" d="M914.2 788h.01"/><path stroke="#8dff6a" d="M914 822.4h.01"/><path stroke="#800000" d="M914.2 854.4h.01"/><path stroke="#000080" d="M914.1 700h.01"/><path stroke="#7aff7d" d="M914 735.2h.01"/><path stroke="#ffe600" d="M913.9 708h.01"/><path stroke="#800000" d="M914.1 758.4h.01M913.8 559.2h.01M914.2 835.2h.01M914 575.2h.01"/><path stroke="#ff7a00" d="M913.9 659.2h.01"/><path stroke="#ff8600" d="M913.8 569.6h.01"/><path stroke="#6aff8d" d="M913.8 790.4h.01"/><path stroke="#ffdb00" d="M914.1 785.6h.01"/><path stroke="#ff7a00" d="M913.9 786.4h.01"/><path stroke="#ebff0c" d="M913.9 759.2h.01"/><path stroke="#800000" d="M914.1 687.2h.01"/><path stroke="#ff1300" d="M913.8 712h.01"/><path stroke="#800000" d="M914.1 624h.01"/><path stroke="#6aff8d" d="M914.2 603.2h.01"/><path stroke="#ebff0c" d="M914 704h.01"/><path stroke="#ff8600" d="M914.1 873.6h.01"/><path stroke="#ebff0c" d="M913.8 616h.01"/><path stroke="#6aff8d" d="M914 655.2h.01"/><path stroke="#800000" d="M914.2 888h.01"/><path stroke="#ffdb00" d="M914 794.4h.01"/><path stroke="#000080" d="M914 775.2h.01"/><path stroke="#ff7a00" d="M913.9 684h.01"/><path stroke="#800000" d="M913.9 744.8h.01M914 562.4h.01M914.1 841.6h.01M914.2 738.4h.01"/><path stroke="#ff8600" d="M914 696h.01"/><path stroke="#800000" d="M913.9 588.8h.01M914.1 600h.01"/><path stroke="#000080" d="M914.1 715.2h.01"/><path stroke="#ffdb00" d="M913.9 865.6h.01"/><path stroke="#ff1300" d="M913.8 864h.01"/><path stroke="#800000" d="M914.1 664.8h.01M914 649.6h.01"/><path stroke="#ff8600" d="M914.2 572.8h.01"/><path stroke="#ff7a00" d="M914 567.2h.01"/><path stroke="#000080" d="M914.2 733.6h.01"/><path stroke="#ebff0c" d="M913.8 662.4h.01"/><path stroke="#7aff7d" d="M914 860.8h.01"/><path stroke="#800000" d="M913.9 795.2h.01M913.9 863.2h.01"/><path stroke="#8dff6a" d="M914.2 784h.01"/><path stroke="#800000" d="M913.8 640.8h.01"/><path stroke="#7aff7d" d="M913.8 585.6h.01"/><path stroke="#ebff0c" d="M913.9 741.6h.01"/><path stroke="#800000" d="M914 638.4h.01M914 762.4h.01"/><path stroke="#8dff6a" d="M914.1 640h.01"/><path stroke="#6aff8d" d="M914.1 577.6h.01"/><path stroke="#800000" d="M914 620.8h.01M914 607.2h.01M914.1 780h.01M913.9 714.4h.01M913.8 583.2h.01M914 596h.01M913.9 740.8h.01"/><path stroke="#ff8600" d="M913.9 757.6h.01"/><path stroke="#800000" d="M914.2 593.6h.01M913.9 820h.01M914.1 703.2h.01"/><path stroke="#ff1300" d="M914.1 663.2h.01"/><path stroke="#ffe600" d="M914.2 581.6h.01"/><path stroke="#001dff" d="M914 680h.01"/><path stroke="#800000" d="M913.8 880.8h.01M914.2 868.8h.01M914.1 858.4h.01M914 716.8h.01"/><path stroke="#ebff0c" d="M914.1 552.8h.01"/><path stroke="#800000" d="M913.8 875.2h.01M914.2 699.2h.01"/><path stroke="#7aff7d" d="M914 868h.01"/><path stroke="#800000" d="M914.1 726.4h.01"/><path stroke="#ff8600" d="M914.2 588h.01"/><path stroke="#800000" d="M913.9 666.4h.01M914.2 711.2h.01"/><path stroke="#ff8600" d="M914.1 752h.01"/><path stroke="#800000" d="M913.9 558.4h.01M913.9 808.8h.01"/><path stroke="#8dff6a" d="M914 724.8h.01"/><path stroke="#7aff7d" d="M913.8 869.6h.01"/><path stroke="#ff7a00" d="M913.8 748.8h.01"/><path stroke="#ff1300" d="M914.1 656h.01"/><path stroke="#6aff8d" d="M914 704.8h.01"/><path stroke="#800000" d="M914.2 620h.01"/><path stroke="#ffe600" d="M914.2 602.4h.01"/><path stroke="#8dff6a" d="M914.2 689.6h.01"/><path stroke="#000080" d="M914 722.4h.01"/><path stroke="#ff7a00" d="M914.1 707.2h.01"/><path stroke="#800000" d="M914.2 845.6h.01"/><path stroke="#001dff" d="M914.1 857.6h.01"/><path stroke="#8dff6a" d="M914 740h.01"/><path stroke="#ff1300" d="M914.1 887.2h.01"/><path stroke="#001dff" d="M913.9 800.8h.01"/><path stroke="#ebff0c" d="M914 720h.01"/><path stroke="#800000" d="M914 679.2h.01M914.1 660.8h.01M914.2 823.2h.01"/><path stroke="#ffe600" d="M913.9 843.2h.01"/><path stroke="#ff7a00" d="M914.1 605.6h.01M914.1 788.8h.01"/><path stroke="#800000" d="M914 664h.01"/><path stroke="#ff1300" d="M913.8 639.2h.01"/><path stroke="#800000" d="M913.9 799.2h.01"/><path stroke="#7aff7d" d="M913.9 661.6h.01"/><path stroke="#6aff8d" d="M914.1 630.4h.01"/><path stroke="#ebff0c" d="M913.8 871.2h.01"/><path stroke="#8dff6a" d="M914.1 870.4h.01"/><path stroke="#800000" d="M913.9 680.8h.01M914.2 646.4h.01M913.8 641.6h.01M914.1 793.6h.01"/><path stroke="#8dff6a" d="M914.2 725.6h.01"/><path stroke="#800000" d="M914.2 693.6h.01M914 634.4h.01M914.2 721.6h.01"/><path stroke="#6aff8d" d="M913.9 701.6h.01"/><path stroke="#8dff6a" d="M914.1 732.8h.01"/><path stroke="#ebff0c" d="M914.1 728.8h.01"/><path stroke="#7aff7d" d="M914 766.4h.01"/><path stroke="#800000" d="M914.1 807.2h.01"/><path stroke="#ffdb00" d="M913.8 601.6h.01"/><path stroke="#6aff8d" d="M914 728h.01"/><path stroke="#ebff0c" d="M914.2 681.6h.01"/><path stroke="#ffe600" d="M913.8 688.8h.01"/><path stroke="#ff8600" d="M914.2 824.8h.01"/><path stroke="#800000" d="M913.9 888.8h.01M913.8 632h.01"/><path stroke="#000080" d="M913.8 754.4h.01"/><path stroke="#8dff6a" d="M913.9 580h.01"/><path stroke="#800000" d="M914 712.8h.01M913.9 824h.01"/><path stroke="#7aff7d" d="M913.8 616.8h.01"/><path stroke="#ff7a00" d="M913.9 804.8h.01"/><path stroke="#ff8600" d="M913.9 752.8h.01"/><path stroke="#ffe600" d="M914.2 698.4h.01"/><path stroke="#ffdb00" d="M914.1 809.6h.01"/><path stroke="#800000" d="M913.8 608h.01M914.1 832h.01M913.9 750.4h.01M914 597.6h.01M914.2 610.4h.01M914 648.8h.01"/><path stroke="#7aff7d" d="M914 555.2h.01"/><path stroke="#6aff8d" d="M913.8 817.6h.01"/><path stroke="#800000" d="M914 568h.01M914.1 645.6h.01"/><path stroke="#001dff" d="M913.8 862.4h.01"/><path stroke="#ffdb00" d="M914.2 713.6h.01M913.9 802.4h.01"/><path stroke="#ff8600" d="M913.8 623.2h.01"/><path stroke="#6aff8d" d="M913.8 772.8h.01"/><path stroke="#001dff" d="M914.1 653.6h.01"/><path stroke="#ff7a00" d="M914 637.6h.01"/><path stroke="#800000" d="M914.1 808h.01"/><path stroke="#000080" d="M913.8 566.4h.01"/><path stroke="#7aff7d" d="M914.2 878.4h.01"/><path stroke="#800000" d="M914.1 573.6h.01"/><path stroke="#ff8600" d="M913.9 818.4h.01M914.1 650.4h.01"/><path stroke="#ff7a00" d="M914 767.2h.01"/><path stroke="#800000" d="M913.9 796h.01M914 657.6h.01M914 743.2h.01"/><path stroke="#000080" d="M913.9 609.6h.01"/><path stroke="#ff8600" d="M914.2 850.4h.01"/><path stroke="#800000" d="M914.1 629.6h.01"/><path stroke="#ff7a00" d="M913.9 700.8h.01M913.9 551.2h.01"/><path stroke="#800000" d="M914.2 877.6h.01"/><path stroke="#6aff8d" d="M913.8 731.2h.01"/><path stroke="#800000" d="M914.1 694.4h.01"/><path stroke="#ffe600" d="M913.8 624.8h.01"/><path stroke="#800000" d="M914.1 867.2h.01"/><path stroke="#73ff83" d="M913.1 753.8h.01"/><path stroke="#ff1300" d="M913.8 779.2h.01"/><path stroke="#ffe600" d="M914.1 604h.01"/><path stroke="#800000" d="M913.8 642.4h.01"/><path stroke="#001dff" d="M913.9 574.4h.01"/><path stroke="#800000" d="M913.9 778.4h.01"/><path stroke="#000080" d="M913.8 676h.01"/><path stroke="#001dff" d="M914.2 768h.01"/><path stroke="#800000" d="M913.9 723.2h.01M913.9 557.6h.01M913.9 592h.01M914.1 765.6h.01"/><path stroke="#8dff6a" d="M913.8 816.8h.01"/><path stroke="#800000" d="M914 784.8h.01M914.1 669.6h.01"/><path stroke="#ffdb00" d="M913.8 727.2h.01"/><path stroke="#001dff" d="M914 884.8h.01"/><path stroke="#800000" d="M914.2 747.2h.01"/><path stroke="#ff7a00" d="M913.9 827.2h.01"/><path stroke="#000080" d="M914 651.2h.01"/><path stroke="#800000" d="M914.1 880h.01M913.8 683.2h.01M913.8 626.4h.01M914 882.4h.01"/><path stroke="#ffdb00" d="M913.8 739.2h.01"/><path stroke="#8dff6a" d="M914.2 804h.01"/><path stroke="#800000" d="M914.2 737.6h.01"/><path stroke="#ebff0c" d="M913.9 717.6h.01"/><path stroke="#800000" d="M914.1 879.2h.01M913.9 851.2h.01M914.2 763.2h.01M914.1 553.6h.01M914 883.2h.01M914.1 718.4h.01M914.1 561.6h.01"/><path stroke="#ebff0c" d="M913.8 826.4h.01"/><path stroke="#ff8600" d="M914 556.8h.01"/><path stroke="#800000" d="M913.9 849.6h.01M914.1 789.6h.01M913.9 844h.01M913.9 756.8h.01"/><path stroke="#6aff8d" d="M913.8 729.6h.01"/><path stroke="#800000" d="M914.2 853.6h.01M914.1 860h.01M913.8 856.8h.01M913.8 667.2h.01"/><path stroke="#ffdb00" d="M913.8 584.8h.01"/><path stroke="#800000" d="M914.2 810.4h.01M913.9 831.2h.01M913.8 627.2h.01"/><path stroke="#000080" d="M914.1 673.6h.01"/><path stroke="#8dff6a" d="M914 633.6h.01M914.2 549.6h.01"/><path stroke="#7aff7d" d="M914 599.2h.01"/><path stroke="#800000" d="M913.9 745.6h.01M914.1 736h.01"/><path stroke="#7aff7d" d="M914.1 847.2h.01"/><path stroke="#ffdb00" d="M913.9 830.4h.01"/><path stroke="#800000" d="M913.8 774.4h.01"/><path stroke="#ff8600" d="M914.1 617.6h.01"/><path stroke="#73ff83" d="M913.8 850h.01"/><path stroke="#800000" d="M914 628h.01M914 872h.01"/><path stroke="#001dff" d="M913.9 836h.01"/><path stroke="#7aff7d" d="M914.2 771.2h.01"/><path stroke="#800000" d="M913.8 736.8h.01"/><path stroke="#ebff0c" d="M914.1 631.2h.01"/><path stroke="#800000" d="M913.9 872.8h.01M913.8 760.8h.01"/><path stroke="#001dff" d="M914.1 848h.01"/><path stroke="#800000" d="M913.9 746.4h.01"/><path stroke="#ffdb00" d="M914.2 578.4h.01"/><path stroke="#800000" d="M914 884h.01M914 716h.01M913.9 552h.01"/><path stroke="#ff7a00" d="M914.2 685.6h.01"/><path stroke="#800000" d="M913.9 568.8h.01M914.1 846.4h.01"/><path stroke="#001dff" d="M913.9 842.4h.01"/><path stroke="#800000" d="M914.2 604.8h.01"/><path stroke="#6aff8d" d="M914.2 692h.01"/><path stroke="#800000" d="M913.8 644.8h.01M913.8 702.4h.01"/><path stroke="#ffdb00" d="M914 571.2h.01"/><path stroke="#001dff" d="M914 791.2h.01"/><path stroke="#800000" d="M914 710.4h.01"/><path stroke="#8dff6a" d="M914.2 706.4h.01"/><path stroke="#800000" d="M913.8 803.2h.01"/><path stroke="#ffe600" d="M913.8 820.8h.01"/><path stroke="#800000" d="M914.1 825.6h.01M914.1 618.4h.01M913.9 742.4h.01M914.2 563.2h.01"/><path stroke="#ebff0c" d="M914.1 840.8h.01"/><path stroke="#7aff7d" d="M914.2 550.4h.01"/><path stroke="#ebff0c" d="M913.9 839.2h.01"/><path stroke="#000080" d="M914.1 576.8h.01"/><path stroke="#ff7a00" d="M913.9 644h.01"/><path stroke="#ffe600" d="M914.1 821.6h.01"/><path stroke="#800000" d="M913.8 582.4h.01M914 596.8h.01"/><path stroke="#ffdb00" d="M914 564.8h.01"/><path stroke="#800000" d="M914.1 648h.01M914.1 829.6h.01"/><path stroke="#000080" d="M914.2 756h.01"/><path stroke="#6aff8d" d="M913.9 652.8h.01"/><path stroke="#800000" d="M914.2 632.8h.01"/><path stroke="#ffdb00" d="M914.2 584h.01"/><path stroke="#800000" d="M913.8 777.6h.01M914 828.8h.01"/><path stroke="#7aff7d" d="M914.1 856h.01"/><path stroke="#800000" d="M914.2 695.2h.01"/><path stroke="#ff1300" d="M914.2 564h.01"/><path stroke="#ffe600" d="M914.1 836.8h.01"/><path stroke="#800000" d="M913.8 768.8h.01"/><path stroke="#ff7a00" d="M913.9 764h.01"/><path stroke="#800000" d="M914.1 625.6h.01M914.2 751.2h.01"/><path stroke="#8dff6a" d="M913.8 761.6h.01"/><path stroke="#800000" d="M914 773.6h.01M914 828h.01"/><path stroke="#8dff6a" d="M914.1 881.6h.01"/><path stroke="#ebff0c" d="M914.1 576h.01"/><path stroke="#8dff6a" d="M914.2 861.6h.01"/><path stroke="#800000" d="M914 780.8h.01M914 834.4h.01"/><path stroke="#ebff0c" d="M914 708.8h.01"/><path stroke="#800000" d="M913.8 885.6h.01M914.2 832.8h.01M914 720.8h.01M914.1 760h.01"/><path stroke="#ff8600" d="M913.8 801.6h.01"/><path stroke="#7aff7d" d="M914 796.8h.01"/><path stroke="#ffdb00" d="M914.1 753.6h.01"/><path stroke="#800000" d="M913.9 678.4h.01M914.1 684.8h.01M913.8 600.8h.01"/><path stroke="#ff8600" d="M914.2 654.4h.01"/><path stroke="#800000" d="M914.2 635.2h.01"/><path stroke="#ff8600" d="M913.8 697.6h.01"/><path stroke="#800000" d="M914.2 730.4h.01"/><path stroke="#8dff6a" d="M914.2 658.4h.01"/><path stroke="#7aff7d" d="M914.2 805.6h.01"/><path stroke="#800000" d="M913.8 671.2h.01M914 844.8h.01"/><path stroke="#8dff6a" d="M914.1 594.4h.01"/><path stroke="#7aff7d" d="M914.1 560.8h.01"/><path stroke="#8dff6a" d="M914.2 734.4h.01"/><path stroke="#800000" d="M914 840h.01M914 749.6h.01"/><path stroke="#ff8600" d="M914 652h.01"/><path stroke="#ff7a00" d="M914.1 665.6h.01"/><path stroke="#7aff7d" d="M913.9 556h.01"/><path stroke="#ff1300" d="M914 838.4h.01"/><path stroke="#ffdb00" d="M913.8 855.2h.01"/><path stroke="#000080" d="M914.2 876h.01"/><path stroke="#800000" d="M914.1 692.8h.01"/><path stroke="#ff7a00" d="M914.2 792h.01"/><path stroke="#800000" d="M914.1 579.2h.01"/><path stroke="#73ff83" d="M915.3 697h.01M915.6 696.5h.01M914.4 746.2h.01M915 786.9h.01"/><path stroke="#83ff73" d="M914.6 761.6h.01M915.3 796.1h.01M915.6 795.6h.01"/><path stroke="#7aff7d" d="M915.6 791.2h.01M916 828.1h.01"/><path stroke="#73ff83" d="M916.2 678.1h.01"/><path stroke="#3cffba" d="M916.2 756.2h.01"/><path stroke="#73ff83" d="M917.1 847.2h.01M918.8 772.5h.01"/><path stroke="#83ff73" d="M918.8 794h.01"/><path stroke="#73ff83" d="M918.8 736.2h.01"/><path stroke="#7aff7d" d="M919.4 840.2h.01"/><path stroke="#6aff8d" d="M919.1 726.2h.01"/><path stroke="#73ff83" d="M920.2 804.4h.01"/><path stroke="#83ff73" d="M921 720h.01"/><path stroke="#73ff83" d="M923.1 856.5h.01"/><path stroke="#83ff73" d="M922.2 800.6h.01"/><path stroke="#6aff8d" d="M921.9 731h.01M922.9 747.5h.01"/><path stroke="#7aff7d" d="M923.4 697.2h.01"/><path stroke="#73ff83" d="M926 724.4h.01"/><path stroke="#83ff73" d="M925.6 721.2h.01M925.4 783.8h.01"/><path stroke="#73ff83" d="M925 856.2h.01"/><path stroke="#6aff8d" d="M926 819.8h.01"/><path stroke="#43ffb4" d="M926 734.4h.01"/><path stroke="#73ff83" d="M928.8 855.6h.01"/><path stroke="#6aff8d" d="M928.5 736.6h.01M928.4 744.4h.01"/><path stroke="#7aff7d" d="M927.9 800.9h.01"/><path stroke="#73ff83" d="M928.5 830.9h.01"/><path stroke="#6aff8d" d="M929.4 730.6h.01"/><path stroke="#83ff73" d="M930.4 856.2h.01M931 796.5h.01"/><path stroke="#7aff7d" d="M931.5 713.4h.01"/><path stroke="#73ff83" d="M931.9 755.6h.01M931.2 683.4h.01"/><path stroke="#83ff73" d="M933.8 775h.01M933.4 707.5h.01M933.5 793.8h.01"/><path stroke="#43ffb4" d="M932.5 759.6h.01"/><path stroke="#4dffaa" d="M935 829.6h.01"/><path stroke="#7aff7d" d="M934.4 743.1h.01"/><path stroke="#73ff83" d="M934.4 773.8h.01"/><path stroke="#83ff73" d="M935 716.9h.01"/><path stroke="#7aff7d" d="M935 799.8h.01"/><path stroke="#6aff8d" d="M935 826.9h.01"/><path stroke="#73ff83" d="M936.6 752.2h.01"/><path stroke="#7aff7d" d="M935.6 729.1h.01"/><path stroke="#73ff83" d="M935.6 726.2h.01"/><path stroke="#83ff73" d="M935.6 723.8h.01"/><path stroke="#73ff83" d="M937.2 839.8h.01"/><path stroke="#33ffc4" d="M936.9 855.4h.01"/><path stroke="#73ff83" d="M937.5 738.5h.01"/><path stroke="#33ffc4" d="M937.9 684h.01"/><path stroke="#73ff83" d="M937.5 778.1h.01"/><path stroke="#83ff73" d="M937.9 756.2h.01M937.2 783.1h.01M939.4 696.5h.01"/><path stroke="#7aff7d" d="M938.8 787.9h.01"/><path stroke="#33ffc4" d="M938.5 742.1h.01"/><path stroke="#73ff83" d="M938.8 836.6h.01"/><path stroke="#83ff73" d="M939.4 856.2h.01"/><path stroke="#7aff7d" d="M940.9 712.9h.01"/><path stroke="#83ff73" d="M940.6 856.2h.01"/><path stroke="#73ff83" d="M940.4 804.1h.01M940.9 777.8h.01"/><path stroke="#83ff73" d="M940.9 731h.01"/><path stroke="#73ff83" d="M941.6 716.9h.01"/><path stroke="#43ffb4" d="M941.2 734h.01"/><path stroke="#73ff83" d="M941.6 683.8h.01M943.4 768.1h.01"/><path stroke="#83ff73" d="M943.8 790.6h.01"/><path stroke="#7aff7d" d="M943.8 836.6h.01"/><path stroke="#73ff83" d="M944 744.4h.01"/><path stroke="#7aff7d" d="M943.5 757.2h.01"/><path stroke="#83ff73" d="M944.4 788.5h.01"/><path stroke="#6aff8d" d="M944.4 747.5h.01"/><path stroke="#73ff83" d="M946.9 840.6h.01"/><path stroke="#6aff8d" d="M945.9 759h.01"/><path stroke="#73ff83" d="M946.9 790.2h.01M946.2 725.9h.01"/><path stroke="#7aff7d" d="M946.9 800.4h.01"/><path stroke="#73ff83" d="M947.9 711.2h.01"/><path stroke="#83ff73" d="M947.2 855.9h.01"/><path stroke="#73ff83" d="M948.1 781h.01"/><path stroke="#83ff73" d="M948.8 741h.01"/><path stroke="#7aff7d" d="M947.5 745h.01M950 715h.01M949.4 794.4h.01"/><path stroke="#83ff73" d="M950.6 855.9h.01"/><path stroke="#73ff83" d="M950.4 784.8h.01M950.6 757.5h.01M950.6 702.5h.01"/><path stroke="#7aff7d" d="M950.4 778.1h.01"/><path stroke="#73ff83" d="M951.9 725.4h.01"/><path stroke="#33ffc4" d="M952.5 766.6h.01"/><path stroke="#73ff83" d="M951.9 729.1h.01"/><path stroke="#7aff7d" d="M951.9 805h.01"/><path stroke="#83ff73" d="M953.1 702.5h.01"/><path stroke="#73ff83" d="M951.9 790.6h.01"/><path stroke="#6aff8d" d="M953.1 855.9h.01"/><path stroke="#73ff83" d="M952.5 830.4h.01M953.5 750.4h.01"/><path stroke="#7aff7d" d="M954.1 804.4h.01"/><path stroke="#83ff73" d="M954.4 741.2h.01"/><path stroke="#6aff8d" d="M954.4 744.1h.01"/><path stroke="#7aff7d" d="M953.8 770.6h.01"/><path stroke="#6aff8d" d="M953.8 806.2h.01"/><path stroke="#83ff73" d="M954.8 767.1h.01M953.8 753.8h.01"/><path stroke="#73ff83" d="M955.4 856.5h.01"/><path stroke="#7aff7d" d="M955.6 798.1h.01M955.4 826.2h.01"/><path stroke="#83ff73" d="M955.9 844.1h.01"/><path stroke="#6aff8d" d="M957.5 801.6h.01M957.2 709.4h.01"/><path stroke="#43ffb4" d="M957.1 686h.01"/><path stroke="#73ff83" d="M956.9 747.5h.01M957.1 687.5h.01M957.5 757.8h.01"/><path stroke="#7aff7d" d="M956.5 838.5h.01"/><path stroke="#73ff83" d="M957.5 797.5h.01"/><path stroke="#83ff73" d="M956.5 788.3h.01M956.9 787.9h.01M958.8 731h.01"/><path stroke="#73ff83" d="M958.4 761.1h.01"/><path stroke="#7aff7d" d="M958.8 760.6h.01"/><path stroke="#4dffaa" d="M958.8 788.1h.01"/><path stroke="#7aff7d" d="M958.8 832.5h.01M960.6 795.4h.01M960.6 742.9h.01"/><path stroke="#73ff83" d="M960.6 776.5h.01"/><path stroke="#83ff73" d="M960.6 780h.01M961.9 796.5h.01"/><path stroke="#73ff83" d="M960.9 809h.01"/><path stroke="#6aff8d" d="M961.9 729.6h.01"/><path stroke="#7aff7d" d="M961.2 842.5h.01"/><path stroke="#73ff83" d="M960.9 830h.01"/><path stroke="#83ff73" d="M962.1 750.6h.01M963.8 801h.01"/><path stroke="#6aff8d" d="M963.8 773.8h.01"/><path stroke="#7aff7d" d="M962.8 719.5h.01"/><path stroke="#83ff73" d="M963.1 719h.01M962.5 740.6h.01"/><path stroke="#43ffb4" d="M964.4 728.8h.01"/><path stroke="#6aff8d" d="M964.4 759.1h.01"/><path stroke="#83ff73" d="M964.4 738.1h.01"/><path stroke="#73ff83" d="M964.1 714.8h.01"/><path stroke="#7aff7d" d="M964.8 830h.01"/><path stroke="#43ffb4" d="M964.4 775.6h.01"/><path stroke="#73ff83" d="M966.2 776.5h.01"/><path stroke="#6aff8d" d="M965.4 787.9h.01"/><path stroke="#7aff7d" d="M965.9 793.8h.01"/><path stroke="#6aff8d" d="M967.5 747.2h.01"/><path stroke="#83ff73" d="M967.9 824.4h.01"/><path stroke="#6aff8d" d="M967.5 742.1h.01"/><path stroke="#3cffba" d="M967.1 808.8h.01"/><path stroke="#83ff73" d="M967.5 836.2h.01"/><path stroke="#43ffb4" d="M967.5 780.6h.01"/><path stroke="#73ff83" d="M969.6 736.6h.01M968.5 786.2h.01"/><path stroke="#7aff7d" d="M970.6 718.5h.01M970.2 707.9h.01M971 810.6h.01"/><path stroke="#73ff83" d="M971 753.8h.01"/><path stroke="#6aff8d" d="M972.5 831.5h.01"/><path stroke="#7aff7d" d="M971.2 798.5h.01M971.9 743.8h.01"/><path stroke="#83ff73" d="M972.9 779.6h.01"/><path stroke="#7aff7d" d="M973.5 715.9h.01M973.5 756.5h.01"/></g>
<line x1="508.5" x2="508.5" y1="540" y2="890" stroke="#b0b0b0" stroke-width="1"/>
<line x1="767.5" x2="767.5" y1="540" y2="890" stroke="#b0b0b0" stroke-width="1"/>
<line x1="1025.5" x2="1025.5" y1="540" y2="890" stroke="#b0b0b0" stroke-width="1"/>
<line x1="1283.5" x2="1283.5" y1="540" y2="890" stroke="#b0b0b0" stroke-width="1"/>
<line x1="250" x2="1490" y1="773.5" y2="773.5" stroke="#b0b0b0" stroke-width="1"/>
<line x1="250" x2="1490" y1="657.5" y2="657.5" stroke="#b0b0b0" stroke-width="1"/>
<line x1="250.5" x2="250.5" y1="890.5" y2="895.4" stroke="#000" stroke-width="1"/>
<text x="249.60" y="922.8" text-anchor="middle" letter-spacing="0">0</text>
<line x1="302.5" x2="302.5" y1="890.5" y2="893.3" stroke="#000" stroke-width="0.85"/>
<line x1="353.5" x2="353.5" y1="890.5" y2="893.3" stroke="#000" stroke-width="0.85"/>
<line x1="405.5" x2="405.5" y1="890.5" y2="893.3" stroke="#000" stroke-width="0.85"/>
<line x1="457.5" x2="457.5" y1="890.5" y2="893.3" stroke="#000" stroke-width="0.85"/>
<line x1="508.5" x2="508.5" y1="890.5" y2="895.4" stroke="#000" stroke-width="1"/>
<text x="508.83" y="922.8" text-anchor="middle" letter-spacing="0">5</text>
<line x1="560.5" x2="560.5" y1="890.5" y2="893.3" stroke="#000" stroke-width="0.85"/>
<line x1="612.5" x2="612.5" y1="890.5" y2="893.3" stroke="#000" stroke-width="0.85"/>
<line x1="663.5" x2="663.5" y1="890.5" y2="893.3" stroke="#000" stroke-width="0.85"/>
<line x1="715.5" x2="715.5" y1="890.5" y2="893.3" stroke="#000" stroke-width="0.85"/>
<line x1="767.5" x2="767.5" y1="890.5" y2="895.4" stroke="#000" stroke-width="1"/>
<text x="766.37" y="922.8" text-anchor="middle" letter-spacing="-0.8">10</text>
<line x1="818.5" x2="818.5" y1="890.5" y2="893.3" stroke="#000" stroke-width="0.85"/>
<line x1="870.5" x2="870.5" y1="890.5" y2="893.3" stroke="#000" stroke-width="0.85"/>
<line x1="922.5" x2="922.5" y1="890.5" y2="893.3" stroke="#000" stroke-width="0.85"/>
<line x1="973.5" x2="973.5" y1="890.5" y2="893.3" stroke="#000" stroke-width="0.85"/>
<line x1="1025.5" x2="1025.5" y1="890.5" y2="895.4" stroke="#000" stroke-width="1"/>
<text x="1025.10" y="922.8" text-anchor="middle" letter-spacing="-0.8">15</text>
<line x1="1077.5" x2="1077.5" y1="890.5" y2="893.3" stroke="#000" stroke-width="0.85"/>
<line x1="1128.5" x2="1128.5" y1="890.5" y2="893.3" stroke="#000" stroke-width="0.85"/>
<line x1="1180.5" x2="1180.5" y1="890.5" y2="893.3" stroke="#000" stroke-width="0.85"/>
<line x1="1232.5" x2="1232.5" y1="890.5" y2="893.3" stroke="#000" stroke-width="0.85"/>
<line x1="1283.5" x2="1283.5" y1="890.5" y2="895.4" stroke="#000" stroke-width="1"/>
<text x="1283.23" y="922.8" text-anchor="middle" letter-spacing="-0.4">20</text>
<line x1="1335.5" x2="1335.5" y1="890.5" y2="893.3" stroke="#000" stroke-width="0.85"/>
<line x1="1387.5" x2="1387.5" y1="890.5" y2="893.3" stroke="#000" stroke-width="0.85"/>
<line x1="1438.5" x2="1438.5" y1="890.5" y2="893.3" stroke="#000" stroke-width="0.85"/>
<line x1="245.1" x2="250.5" y1="890.5" y2="890.5" stroke="#000" stroke-width="1"/>
<text x="240.8" y="901.60" text-anchor="end">0</text>
<line x1="247.2" x2="250.5" y1="867.5" y2="867.5" stroke="#000" stroke-width="0.85"/>
<line x1="247.2" x2="250.5" y1="843.5" y2="843.5" stroke="#000" stroke-width="0.85"/>
<line x1="247.2" x2="250.5" y1="820.5" y2="820.5" stroke="#000" stroke-width="0.85"/>
<line x1="247.2" x2="250.5" y1="797.5" y2="797.5" stroke="#000" stroke-width="0.85"/>
<line x1="245.1" x2="250.5" y1="773.5" y2="773.5" stroke="#000" stroke-width="1"/>
<text x="240.8" y="784.93" text-anchor="end">1000</text>
<line x1="247.2" x2="250.5" y1="750.5" y2="750.5" stroke="#000" stroke-width="0.85"/>
<line x1="247.2" x2="250.5" y1="727.5" y2="727.5" stroke="#000" stroke-width="0.85"/>
<line x1="247.2" x2="250.5" y1="703.5" y2="703.5" stroke="#000" stroke-width="0.85"/>
<line x1="247.2" x2="250.5" y1="680.5" y2="680.5" stroke="#000" stroke-width="0.85"/>
<line x1="245.1" x2="250.5" y1="657.5" y2="657.5" stroke="#000" stroke-width="1"/>
<text x="240.8" y="668.27" text-anchor="end">2000</text>
<line x1="247.2" x2="250.5" y1="633.5" y2="633.5" stroke="#000" stroke-width="0.85"/>
<line x1="247.2" x2="250.5" y1="610.5" y2="610.5" stroke="#000" stroke-width="0.85"/>
<line x1="247.2" x2="250.5" y1="587.5" y2="587.5" stroke="#000" stroke-width="0.85"/>
<line x1="247.2" x2="250.5" y1="563.5" y2="563.5" stroke="#000" stroke-width="0.85"/>
<line x1="245.1" x2="250.5" y1="540.5" y2="540.5" stroke="#000" stroke-width="1"/>
<text x="240.8" y="551.60" text-anchor="end">3000</text>
<rect x="250.5" y="540.5" width="1240" height="350" fill="none" stroke="#000" stroke-width="1.1"/>
<text transform="translate(149.8,716.0) rotate(-90)" text-anchor="middle">RF Distance (km)</text>
<text x="870.7" y="111.9" text-anchor="middle" font-size="36.11" letter-spacing="0.3">2024-05-08 ICEBEAR Summary Plot</text>
<text x="870.7" y="956.9" text-anchor="middle" letter-spacing="-0.08">Time (hours)</text>
<defs><linearGradient id="gp" x1="0" y1="0" x2="0" y2="1"><stop offset="0.0000" stop-color="#0d0887"/><stop offset="0.0159" stop-color="#19068c"/><stop offset="0.0317" stop-color="#220690"/><stop offset="0.0476" stop-color="#2a0593"/><stop offset="0.0635" stop-color="#310597"/><stop offset="0.0794" stop-color="#38049a"/><stop offset="0.0952" stop-color="#3f049c"/><stop offset="0.1111" stop-color="#46039f"/><stop offset="0.1270" stop-color="#4c02a1"/><stop offset="0.1429" stop-color="#5302a3"/><stop offset="0.1587" stop-color="#5901a5"/><stop offset="0.1746" stop-color="#6001a6"/><stop offset="0.1905" stop-color="#6600a7"/><stop offset="0.2063" stop-color="#6c00a8"/><stop offset="0.2222" stop-color="#7201a8"/><stop offset="0.2381" stop-color="#7801a8"/><stop offset="0.2540" stop-color="#8004a8"/><stop offset="0.2698" stop-color="#8606a6"/><stop offset="0.2857" stop-color="#8b0aa5"/><stop offset="0.3016" stop-color="#910ea3"/><stop offset="0.3175" stop-color="#9613a1"/><stop offset="0.3333" stop-color="#9c179e"/><stop offset="0.3492" stop-color="#a11b9b"/><stop offset="0.3651" stop-color="#a62098"/><stop offset="0.3810" stop-color="#ab2494"/><stop offset="0.3968" stop-color="#b02991"/><stop offset="0.4127" stop-color="#b42e8d"/><stop offset="0.4286" stop-color="#b83289"/><stop offset="0.4444" stop-color="#bd3786"/><stop offset="0.4603" stop-color="#c13b82"/><stop offset="0.4762" stop-color="#c5407e"/><stop offset="0.4921" stop-color="#c9447a"/><stop offset="0.5079" stop-color="#cd4a76"/><stop offset="0.5238" stop-color="#d14e72"/><stop offset="0.5397" stop-color="#d5536f"/><stop offset="0.5556" stop-color="#d8576b"/><stop offset="0.5714" stop-color="#db5c68"/><stop offset="0.5873" stop-color="#de6164"/><stop offset="0.6032" stop-color="#e26561"/><stop offset="0.6190" stop-color="#e56a5d"/><stop offset="0.6349" stop-color="#e76f5a"/><stop offset="0.6508" stop-color="#ea7457"/><stop offset="0.6667" stop-color="#ed7953"/><stop offset="0.6825" stop-color="#ef7e50"/><stop offset="0.6984" stop-color="#f1834c"/><stop offset="0.7143" stop-color="#f48849"/><stop offset="0.7302" stop-color="#f68d45"/><stop offset="0.7460" stop-color="#f79342"/><stop offset="0.7619" stop-color="#f99a3e"/><stop offset="0.7778" stop-color="#fb9f3a"/><stop offset="0.7937" stop-color="#fca537"/><stop offset="0.8095" stop-color="#fdab33"/><stop offset="0.8254" stop-color="#fdb130"/><stop offset="0.8413" stop-color="#feb72d"/><stop offset="0.8571" stop-color="#febd2a"/><stop offset="0.8730" stop-color="#fdc328"/><stop offset="0.8889" stop-color="#fdca26"/><stop offset="0.9048" stop-color="#fcd025"/><stop offset="0.9206" stop-color="#fbd724"/><stop offset="0.9365" stop-color="#f9dd25"/><stop offset="0.9524" stop-color="#f7e425"/><stop offset="0.9683" stop-color="#f5eb27"/><stop offset="0.9841" stop-color="#f2f227"/><stop offset="1.0000" stop-color="#f0f921"/></linearGradient></defs>
<rect x="1568.5" y="120.5" width="17.0" height="350" fill="url(#gp)" stroke="#000" stroke-width="1.1"/>
<line x1="1585.5" x2="1590.9" y1="470.5" y2="470.5" stroke="#000" stroke-width="1"/>
<text x="1594.9" y="481.90">0</text>
<line x1="1585.5" x2="1590.9" y1="383.5" y2="383.5" stroke="#000" stroke-width="1"/>
<text x="1594.9" y="394.40">5</text>
<line x1="1585.5" x2="1590.9" y1="295.5" y2="295.5" stroke="#000" stroke-width="1"/>
<text x="1594.9" y="306.90">10</text>
<line x1="1585.5" x2="1590.9" y1="208.5" y2="208.5" stroke="#000" stroke-width="1"/>
<text x="1594.9" y="219.40">15</text>
<line x1="1585.5" x2="1590.9" y1="120.5" y2="120.5" stroke="#000" stroke-width="1"/>
<text x="1594.9" y="131.90">20</text>
<text transform="translate(1661.3,296.4) rotate(-90)" text-anchor="middle">SNR (dB)</text>
<defs><linearGradient id="gj" x1="0" y1="0" x2="0" y2="1"><stop offset="0.0000" stop-color="#000080"/><stop offset="0.0159" stop-color="#000092"/><stop offset="0.0317" stop-color="#0000a4"/><stop offset="0.0476" stop-color="#0000b6"/><stop offset="0.0635" stop-color="#0000c8"/><stop offset="0.0794" stop-color="#0000da"/><stop offset="0.0952" stop-color="#0000ed"/><stop offset="0.1111" stop-color="#0000ff"/><stop offset="0.1270" stop-color="#0000ff"/><stop offset="0.1429" stop-color="#0010ff"/><stop offset="0.1587" stop-color="#0020ff"/><stop offset="0.1746" stop-color="#0030ff"/><stop offset="0.1905" stop-color="#0040ff"/><stop offset="0.2063" stop-color="#0050ff"/><stop offset="0.2222" stop-color="#0060ff"/><stop offset="0.2381" stop-color="#0070ff"/><stop offset="0.2540" stop-color="#0084ff"/><stop offset="0.2698" stop-color="#0094ff"/><stop offset="0.2857" stop-color="#00a4ff"/><stop offset="0.3016" stop-color="#00b4ff"/><stop offset="0.3175" stop-color="#00c4ff"/><stop offset="0.3333" stop-color="#00d4ff"/><stop offset="0.3492" stop-color="#00e4f8"/><stop offset="0.3651" stop-color="#0cf4eb"/><stop offset="0.3810" stop-color="#19ffde"/><stop offset="0.3968" stop-color="#26ffd1"/><stop offset="0.4127" stop-color="#33ffc4"/><stop offset="0.4286" stop-color="#40ffb7"/><stop offset="0.4444" stop-color="#4dffaa"/><stop offset="0.4603" stop-color="#5aff9d"/><stop offset="0.4762" stop-color="#66ff90"/><stop offset="0.4921" stop-color="#73ff83"/><stop offset="0.5079" stop-color="#83ff73"/><stop offset="0.5238" stop-color="#90ff66"/><stop offset="0.5397" stop-color="#9dff5a"/><stop offset="0.5556" stop-color="#aaff4d"/><stop offset="0.5714" stop-color="#b7ff40"/><stop offset="0.5873" stop-color="#c4ff33"/><stop offset="0.6032" stop-color="#d1ff26"/><stop offset="0.6190" stop-color="#deff19"/><stop offset="0.6349" stop-color="#ebff0c"/><stop offset="0.6508" stop-color="#f8f500"/><stop offset="0.6667" stop-color="#ffe600"/><stop offset="0.6825" stop-color="#ffd700"/><stop offset="0.6984" stop-color="#ffc800"/><stop offset="0.7143" stop-color="#ffb900"/><stop offset="0.7302" stop-color="#ffab00"/><stop offset="0.7460" stop-color="#ff9c00"/><stop offset="0.7619" stop-color="#ff8900"/><stop offset="0.7778" stop-color="#ff7a00"/><stop offset="0.7937" stop-color="#ff6c00"/><stop offset="0.8095" stop-color="#ff5d00"/><stop offset="0.8254" stop-color="#ff4e00"/><stop offset="0.8413" stop-color="#ff3f00"/><stop offset="0.8571" stop-color="#ff3000"/><stop offset="0.8730" stop-color="#ff2200"/><stop offset="0.8889" stop-color="#ff1300"/><stop offset="0.9048" stop-color="#ed0400"/><stop offset="0.9206" stop-color="#da0000"/><stop offset="0.9365" stop-color="#c80000"/><stop offset="0.9524" stop-color="#b60000"/><stop offset="0.9683" stop-color="#a40000"/><stop offset="0.9841" stop-color="#920000"/><stop offset="1.0000" stop-color="#800000"/></linearGradient></defs>
<rect x="1568.5" y="540.5" width="17.0" height="350" fill="url(#gj)" stroke="#000" stroke-width="1.1"/>
<line x1="1585.5" x2="1590.9" y1="812.5" y2="812.5" stroke="#000" stroke-width="1"/>
<text x="1594.9" y="824.12">−500</text>
<line x1="1585.5" x2="1590.9" y1="715.5" y2="715.5" stroke="#000" stroke-width="1"/>
<text x="1594.9" y="726.90">0</text>
<line x1="1585.5" x2="1590.9" y1="618.5" y2="618.5" stroke="#000" stroke-width="1"/>
<text x="1594.9" y="629.68">500</text>
<text transform="translate(1706.6,716.4) rotate(-90)" text-anchor="middle">Doppler (m/s)</text>
</svg>
</body></html>
